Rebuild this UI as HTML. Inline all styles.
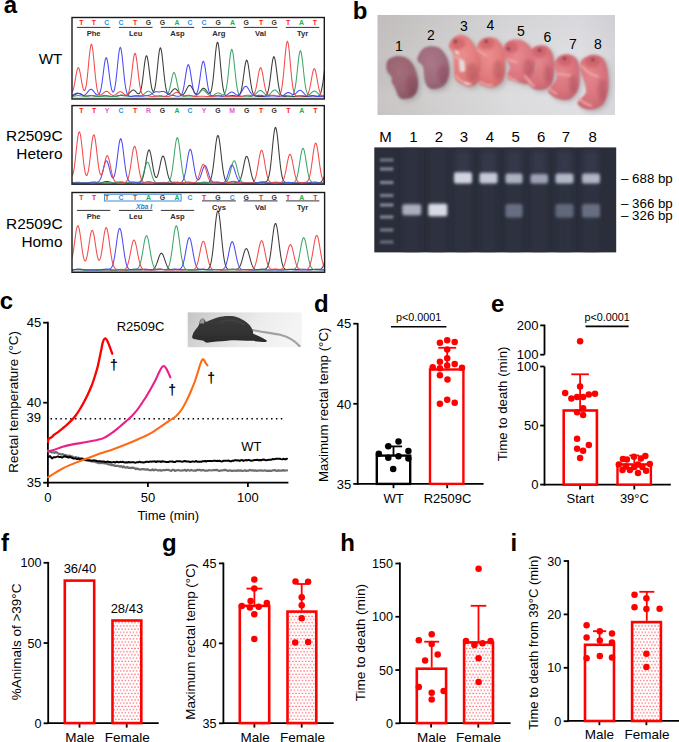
<!DOCTYPE html>
<html><head><meta charset="utf-8"><style>
html,body{margin:0;padding:0;background:#fff;}
svg{display:block;font-family:"Liberation Sans", sans-serif;}
</style></head><body>
<svg width="679" height="742" viewBox="0 0 679 742">
<defs>
<linearGradient id="baseGrad" x1="0" y1="0" x2="0" y2="1"><stop offset="0" stop-color="#999" stop-opacity="0"/><stop offset="1" stop-color="#777" stop-opacity="0.55"/></linearGradient>
<clipPath id="clipA0"><rect x="72.1" y="17.6" width="252.1" height="81.30000000000001"/></clipPath>
<clipPath id="clipA1"><rect x="72.1" y="105.7" width="252.1" height="78.4"/></clipPath>
<clipPath id="clipA2"><rect x="72.1" y="192.60000000000002" width="252.4" height="79.6"/></clipPath>

<linearGradient id="photoBg" x1="0" y1="0" x2="1" y2="0"><stop offset="0" stop-color="#c5c2c1"/><stop offset="0.25" stop-color="#cfcdcd"/><stop offset="0.55" stop-color="#dad9db"/><stop offset="0.85" stop-color="#dfdfe3"/><stop offset="1" stop-color="#d6d6da"/></linearGradient>
<linearGradient id="photoBg2" x1="0" y1="0" x2="0" y2="1"><stop offset="0" stop-color="#000" stop-opacity="0.03"/><stop offset="0.4" stop-color="#000" stop-opacity="0"/><stop offset="0.8" stop-color="#fff" stop-opacity="0.06"/><stop offset="1" stop-color="#fff" stop-opacity="0.02"/></linearGradient>
<filter id="blur1" x="-20%" y="-20%" width="140%" height="140%"><feGaussianBlur stdDeviation="0.9"/></filter>
<filter id="blur2" x="-30%" y="-30%" width="160%" height="160%"><feGaussianBlur stdDeviation="2.5"/></filter>
<filter id="blurBand" x="-30%" y="-60%" width="160%" height="220%"><feGaussianBlur stdDeviation="1.1"/></filter>
<filter id="blurBand2" x="-30%" y="-60%" width="160%" height="220%"><feGaussianBlur stdDeviation="1.8"/></filter>
<radialGradient id="m1" cx="0.42" cy="0.38" r="0.75"><stop offset="0" stop-color="#a46e7a"/><stop offset="0.6" stop-color="#976270"/><stop offset="1" stop-color="#7c4c5a"/></radialGradient>
<radialGradient id="m2" cx="0.42" cy="0.38" r="0.75"><stop offset="0" stop-color="#ab7888"/><stop offset="0.6" stop-color="#9e6a7c"/><stop offset="1" stop-color="#84566a"/></radialGradient>
<radialGradient id="mp" cx="0.42" cy="0.38" r="0.75"><stop offset="0" stop-color="#ec8e8e"/><stop offset="0.6" stop-color="#e07a7a"/><stop offset="1" stop-color="#c86468"/></radialGradient>
<radialGradient id="mp3" cx="0.42" cy="0.38" r="0.75"><stop offset="0" stop-color="#e4868c"/><stop offset="0.6" stop-color="#d8727c"/><stop offset="1" stop-color="#bc5e6c"/></radialGradient>
<radialGradient id="mp2" cx="0.42" cy="0.38" r="0.75"><stop offset="0" stop-color="#e88a8e"/><stop offset="0.6" stop-color="#dc7680"/><stop offset="1" stop-color="#c2626e"/></radialGradient>
<filter id="blurS" x="-50%" y="-50%" width="200%" height="200%"><feGaussianBlur stdDeviation="1.6"/></filter><filter id="blurLane" x="-50%" y="-10%" width="200%" height="120%"><feGaussianBlur stdDeviation="2.5"/></filter><clipPath id="gelclip"><rect x="374.3" y="147.4" width="241.9" height="105"/></clipPath><linearGradient id="mouseBg" x1="0" y1="0" x2="1" y2="0.2">
<stop offset="0" stop-color="#c4c4c4"/><stop offset="0.3" stop-color="#d8d8d8"/><stop offset="0.65" stop-color="#ececec"/><stop offset="1" stop-color="#f4f4f4"/></linearGradient>
<linearGradient id="mouseBody" x1="0" y1="0" x2="0" y2="1"><stop offset="0" stop-color="#3a3a3a"/><stop offset="0.5" stop-color="#343434"/><stop offset="1" stop-color="#2a2a2a"/></linearGradient>
<filter id="blurM" x="-10%" y="-10%" width="120%" height="120%"><feGaussianBlur stdDeviation="0.7"/></filter><pattern id="dotpat" patternUnits="userSpaceOnUse" width="3.22" height="6.44" x="0.6" y="0.4">
<rect width="3.22" height="6.44" fill="#fff"/>
<rect x="0.25" y="0.25" width="1.15" height="1.15" fill="#ff3a48"/>
<rect x="1.86" y="3.47" width="1.15" height="1.15" fill="#ff3a48"/>
</pattern>
</defs>
<g clip-path="url(#clipA0)">
<path d="M71.3,96.04 L71.8,95.97 L72.3,95.86 L72.8,95.71 L73.3,95.53 L73.8,95.31 L74.3,95.06 L74.8,94.79 L75.3,94.52 L75.8,94.24 L76.3,93.99 L76.8,93.77 L77.3,93.59 L77.8,93.47 L78.3,93.41 L78.8,93.42 L79.3,93.50 L79.8,93.63 L80.3,93.83 L80.8,94.06 L81.3,94.32 L81.8,94.60 L82.3,94.87 L82.8,95.14 L83.3,95.38 L83.8,95.60 L84.3,95.78 L84.8,95.92 L85.3,96.02 L85.8,96.08 L86.3,96.11 L86.8,96.10 L87.3,96.07 L87.8,96.02 L88.3,95.96 L88.8,95.88 L89.3,95.81 L89.8,95.74 L90.3,95.69 L90.8,95.65 L91.3,95.63 L91.8,95.64 L92.3,95.67 L92.8,95.72 L93.3,95.79 L93.8,95.87 L94.3,95.95 L94.8,96.04 L95.3,96.13 L95.8,96.21 L96.3,96.28 L96.8,96.33 L97.3,96.37 L97.8,96.40 L98.3,96.41 L98.8,96.40 L99.3,96.37 L99.8,96.33 L100.3,96.28 L100.8,96.21 L101.3,96.14 L101.8,96.06 L102.3,95.98 L102.8,95.91 L103.3,95.84 L103.8,95.79 L104.3,95.75 L104.8,95.74 L105.3,95.74 L105.8,95.77 L106.3,95.81 L106.8,95.87 L107.3,95.94 L107.8,96.02 L108.3,96.10 L108.8,96.18 L109.3,96.26 L109.8,96.33 L110.3,96.38 L110.8,96.43 L111.3,96.47 L111.8,96.49 L112.3,96.50 L112.8,96.51 L113.3,96.50 L113.8,96.47 L114.3,96.44 L114.8,96.39 L115.3,96.32 L115.8,96.24 L116.3,96.15 L116.8,96.04 L117.3,95.93 L117.8,95.81 L118.3,95.70 L118.8,95.59 L119.3,95.50 L119.8,95.43 L120.3,95.38 L120.8,95.36 L121.3,95.37 L121.8,95.41 L122.3,95.46 L122.8,95.54 L123.3,95.61 L123.8,95.68 L124.3,95.74 L124.8,95.77 L125.3,95.75 L125.8,95.69 L126.3,95.56 L126.8,95.37 L127.3,95.09 L127.8,94.74 L128.3,94.31 L128.8,93.82 L129.3,93.27 L129.8,92.69 L130.3,92.10 L130.8,91.53 L131.3,91.01 L131.8,90.58 L132.3,90.25 L132.8,90.06 L133.3,90.01 L133.8,90.10 L134.3,90.34 L134.8,90.70 L135.3,91.16 L135.8,91.68 L136.3,92.23 L136.8,92.76 L137.3,93.24 L137.8,93.60 L138.3,93.80 L138.8,93.79 L139.3,93.49 L139.8,92.84 L140.3,91.76 L140.8,90.19 L141.3,88.06 L141.8,85.37 L142.3,82.11 L142.8,78.37 L143.3,74.28 L143.8,70.04 L144.3,65.90 L144.8,62.14 L145.3,59.05 L145.8,56.87 L146.3,55.79 L146.8,55.92 L147.3,57.22 L147.8,59.61 L148.3,62.86 L148.8,66.72 L149.3,70.91 L149.8,75.13 L150.3,79.15 L150.8,82.77 L151.3,85.85 L151.8,88.30 L152.3,90.08 L152.8,91.16 L153.3,91.55 L153.8,91.22 L154.3,90.16 L154.8,88.36 L155.3,85.80 L155.8,82.49 L156.3,78.50 L156.8,73.94 L157.3,69.00 L157.8,63.93 L158.3,59.04 L158.8,54.68 L159.3,51.18 L159.8,48.83 L160.3,47.83 L160.8,48.26 L161.3,50.09 L161.8,53.16 L162.3,57.21 L162.8,61.93 L163.3,66.97 L163.8,72.00 L164.3,76.76 L164.8,81.04 L165.3,84.71 L165.8,87.71 L166.3,90.05 L166.8,91.78 L167.3,92.97 L167.8,93.71 L168.3,94.08 L168.8,94.15 L169.3,93.98 L169.8,93.64 L170.3,93.16 L170.8,92.59 L171.3,91.96 L171.8,91.31 L172.3,90.67 L172.8,90.07 L173.3,89.55 L173.8,89.14 L174.3,88.87 L174.8,88.74 L175.3,88.78 L175.8,88.98 L176.3,89.32 L176.8,89.79 L177.3,90.36 L177.8,91.00 L178.3,91.67 L178.8,92.35 L179.3,92.99 L179.8,93.56 L180.3,94.06 L180.8,94.44 L181.3,94.71 L181.8,94.85 L182.3,94.85 L182.8,94.71 L183.3,94.41 L183.8,93.96 L184.3,93.37 L184.8,92.64 L185.3,91.79 L185.8,90.85 L186.3,89.85 L186.8,88.85 L187.3,87.88 L187.8,87.01 L188.3,86.28 L188.8,85.74 L189.3,85.42 L189.8,85.35 L190.3,85.54 L190.8,85.96 L191.3,86.59 L191.8,87.38 L192.3,88.30 L192.8,89.28 L193.3,90.27 L193.8,91.23 L194.3,92.10 L194.8,92.85 L195.3,93.47 L195.8,93.93 L196.3,94.23 L196.8,94.35 L197.3,94.32 L197.8,94.12 L198.3,93.79 L198.8,93.32 L199.3,92.76 L199.8,92.11 L200.3,91.42 L200.8,90.72 L201.3,90.04 L201.8,89.44 L202.3,88.94 L202.8,88.58 L203.3,88.39 L203.8,88.36 L204.3,88.51 L204.8,88.83 L205.3,89.29 L205.8,89.87 L206.3,90.52 L206.8,91.22 L207.3,91.90 L207.8,92.53 L208.3,93.06 L208.8,93.42 L209.3,93.57 L209.8,93.43 L210.3,92.92 L210.8,91.95 L211.3,90.43 L211.8,88.27 L212.3,85.39 L212.8,81.76 L213.3,77.40 L213.8,72.41 L214.3,66.95 L214.8,61.30 L215.3,55.78 L215.8,50.78 L216.3,46.66 L216.8,43.76 L217.3,42.33 L217.8,42.49 L218.3,44.23 L218.8,47.40 L219.3,51.73 L219.8,56.88 L220.3,62.47 L220.8,68.13 L221.3,73.54 L221.8,78.47 L222.3,82.77 L222.8,86.35 L223.3,89.22 L223.8,91.44 L224.3,93.08 L224.8,94.25 L225.3,95.06 L225.8,95.58 L226.3,95.90 L226.8,96.07 L227.3,96.14 L227.8,96.15 L228.3,96.11 L228.8,96.05 L229.3,95.97 L229.8,95.88 L230.3,95.79 L230.8,95.72 L231.3,95.66 L231.8,95.62 L232.3,95.60 L232.8,95.61 L233.3,95.64 L233.8,95.69 L234.3,95.76 L234.8,95.84 L235.3,95.92 L235.8,96.00 L236.3,96.06 L236.8,96.10 L237.3,96.10 L237.8,96.03 L238.3,95.87 L238.8,95.57 L239.3,95.10 L239.8,94.38 L240.3,93.36 L240.8,91.96 L241.3,90.13 L241.8,87.83 L242.3,85.05 L242.8,81.82 L243.3,78.24 L243.8,74.46 L244.3,70.68 L244.8,67.15 L245.3,64.11 L245.8,61.82 L246.3,60.45 L246.8,60.12 L247.3,60.87 L247.8,62.63 L248.3,65.25 L248.8,68.52 L249.3,72.18 L249.8,75.98 L250.3,79.70 L250.8,83.16 L251.3,86.22 L251.8,88.81 L252.3,90.92 L252.8,92.58 L253.3,93.82 L253.8,94.73 L254.3,95.36 L254.8,95.78 L255.3,96.05 L255.8,96.21 L256.3,96.30 L256.8,96.35 L257.3,96.37 L257.8,96.38 L258.3,96.38 L258.8,96.38 L259.3,96.38 L259.8,96.38 L260.3,96.39 L260.8,96.40 L261.3,96.42 L261.8,96.43 L262.3,96.45 L262.8,96.46 L263.3,96.45 L263.8,96.43 L264.3,96.37 L264.8,96.26 L265.3,96.07 L265.8,95.77 L266.3,95.29 L266.8,94.59 L267.3,93.60 L267.8,92.23 L268.3,90.41 L268.8,88.10 L269.3,85.26 L269.8,81.91 L270.3,78.13 L270.8,74.07 L271.3,69.90 L271.8,65.90 L272.3,62.33 L272.8,59.47 L273.3,57.54 L273.8,56.72 L274.3,57.08 L274.8,58.58 L275.3,61.09 L275.8,64.41 L276.3,68.27 L276.8,72.40 L277.3,76.53 L277.8,80.44 L278.3,83.97 L278.8,87.02 L279.3,89.54 L279.8,91.55 L280.3,93.08 L280.8,94.22 L281.3,95.02 L281.8,95.57 L282.3,95.93 L282.8,96.15 L283.3,96.28 L283.8,96.34 L284.3,96.37 L284.8,96.37 L285.3,96.36 L285.8,96.35 L286.3,96.34 L286.8,96.33 L287.3,96.32 L287.8,96.32 L288.3,96.33 L288.8,96.34 L289.3,96.36 L289.8,96.38 L290.3,96.40 L290.8,96.42 L291.3,96.44 L291.8,96.45 L292.3,96.46 L292.8,96.46 L293.3,96.45 L293.8,96.43 L294.3,96.41 L294.8,96.38 L295.3,96.34 L295.8,96.30 L296.3,96.25 L296.8,96.20 L297.3,96.16 L297.8,96.13 L298.3,96.10 L298.8,96.09 L299.3,96.09 L299.8,96.10 L300.3,96.12 L300.8,96.15 L301.3,96.19 L301.8,96.23 L302.3,96.28 L302.8,96.32 L303.3,96.36 L303.8,96.40 L304.3,96.43 L304.8,96.45 L305.3,96.45 L305.8,96.45 L306.3,96.43 L306.8,96.40 L307.3,96.36 L307.8,96.31 L308.3,96.24 L308.8,96.17 L309.3,96.10 L309.8,96.02 L310.3,95.95 L310.8,95.89 L311.3,95.84 L311.8,95.81 L312.3,95.80 L312.8,95.80 L313.3,95.83 L313.8,95.87 L314.3,95.92 L314.8,95.99 L315.3,96.05 L315.8,96.12 L316.3,96.17 L316.8,96.21 L317.3,96.21 L317.8,96.15 L318.3,96.02 L318.8,95.78 L319.3,95.38 L319.8,94.77 L320.3,93.89 L320.8,92.65 L321.3,90.99 L321.8,88.86 L322.3,86.21 L322.8,83.07 L323.3,79.49 L323.8,75.60 L324.3,71.58 L324.8,67.65" stroke="#2a2a2a" stroke-width="1.05" fill="none" opacity="0.92"/>
<path d="M71.3,96.22 L71.8,96.26 L72.3,96.27 L72.8,96.26 L73.3,96.23 L73.8,96.18 L74.3,96.11 L74.8,96.03 L75.3,95.94 L75.8,95.85 L76.3,95.76 L76.8,95.68 L77.3,95.62 L77.8,95.58 L78.3,95.57 L78.8,95.58 L79.3,95.61 L79.8,95.66 L80.3,95.74 L80.8,95.82 L81.3,95.91 L81.8,96.01 L82.3,96.10 L82.8,96.18 L83.3,96.24 L83.8,96.29 L84.3,96.33 L84.8,96.34 L85.3,96.33 L85.8,96.30 L86.3,96.26 L86.8,96.19 L87.3,96.11 L87.8,96.03 L88.3,95.93 L88.8,95.83 L89.3,95.74 L89.8,95.66 L90.3,95.60 L90.8,95.56 L91.3,95.54 L91.8,95.55 L92.3,95.58 L92.8,95.64 L93.3,95.71 L93.8,95.80 L94.3,95.90 L94.8,96.00 L95.3,96.10 L95.8,96.19 L96.3,96.27 L96.8,96.34 L97.3,96.39 L97.8,96.44 L98.3,96.47 L98.8,96.48 L99.3,96.49 L99.8,96.48 L100.3,96.47 L100.8,96.44 L101.3,96.40 L101.8,96.36 L102.3,96.31 L102.8,96.26 L103.3,96.21 L103.8,96.16 L104.3,96.11 L104.8,96.08 L105.3,96.05 L105.8,96.04 L106.3,96.04 L106.8,96.05 L107.3,96.08 L107.8,96.12 L108.3,96.16 L108.8,96.21 L109.3,96.27 L109.8,96.32 L110.3,96.37 L110.8,96.41 L111.3,96.45 L111.8,96.48 L112.3,96.51 L112.8,96.52 L113.3,96.53 L113.8,96.53 L114.3,96.52 L114.8,96.49 L115.3,96.46 L115.8,96.41 L116.3,96.34 L116.8,96.26 L117.3,96.16 L117.8,96.04 L118.3,95.92 L118.8,95.78 L119.3,95.64 L119.8,95.50 L120.3,95.37 L120.8,95.26 L121.3,95.18 L121.8,95.12 L122.3,95.11 L122.8,95.12 L123.3,95.18 L123.8,95.26 L124.3,95.37 L124.8,95.50 L125.3,95.64 L125.8,95.78 L126.3,95.91 L126.8,96.04 L127.3,96.14 L127.8,96.23 L128.3,96.30 L128.8,96.35 L129.3,96.37 L129.8,96.37 L130.3,96.35 L130.8,96.31 L131.3,96.25 L131.8,96.18 L132.3,96.09 L132.8,95.99 L133.3,95.89 L133.8,95.79 L134.3,95.69 L134.8,95.60 L135.3,95.54 L135.8,95.49 L136.3,95.47 L136.8,95.47 L137.3,95.49 L137.8,95.54 L138.3,95.59 L138.8,95.64 L139.3,95.69 L139.8,95.72 L140.3,95.72 L140.8,95.68 L141.3,95.59 L141.8,95.44 L142.3,95.24 L142.8,94.97 L143.3,94.64 L143.8,94.26 L144.3,93.84 L144.8,93.39 L145.3,92.93 L145.8,92.48 L146.3,92.08 L146.8,91.73 L147.3,91.47 L147.8,91.30 L148.3,91.24 L148.8,91.30 L149.3,91.47 L149.8,91.74 L150.3,92.09 L150.8,92.51 L151.3,92.96 L151.8,93.44 L152.3,93.90 L152.8,94.35 L153.3,94.75 L153.8,95.11 L154.3,95.41 L154.8,95.66 L155.3,95.85 L155.8,96.00 L156.3,96.10 L156.8,96.17 L157.3,96.22 L157.8,96.25 L158.3,96.26 L158.8,96.27 L159.3,96.28 L159.8,96.29 L160.3,96.31 L160.8,96.32 L161.3,96.34 L161.8,96.37 L162.3,96.39 L162.8,96.41 L163.3,96.43 L163.8,96.43 L164.3,96.41 L164.8,96.37 L165.3,96.28 L165.8,96.12 L166.3,95.86 L166.8,95.48 L167.3,94.92 L167.8,94.15 L168.3,93.12 L168.8,91.79 L169.3,90.14 L169.8,88.19 L170.3,85.96 L170.8,83.54 L171.3,81.04 L171.8,78.60 L172.3,76.39 L172.8,74.57 L173.3,73.29 L173.8,72.66 L174.3,72.73 L174.8,73.50 L175.3,74.89 L175.8,76.80 L176.3,79.08 L176.8,81.54 L177.3,84.04 L177.8,86.43 L178.3,88.60 L178.8,90.50 L179.3,92.08 L179.8,93.34 L180.3,94.32 L180.8,95.04 L181.3,95.56 L181.8,95.91 L182.3,96.14 L182.8,96.27 L183.3,96.34 L183.8,96.36 L184.3,96.35 L184.8,96.32 L185.3,96.27 L185.8,96.21 L186.3,96.14 L186.8,96.08 L187.3,96.01 L187.8,95.96 L188.3,95.92 L188.8,95.89 L189.3,95.88 L189.8,95.88 L190.3,95.90 L190.8,95.94 L191.3,95.98 L191.8,96.03 L192.3,96.08 L192.8,96.12 L193.3,96.15 L193.8,96.15 L194.3,96.13 L194.8,96.06 L195.3,95.95 L195.8,95.79 L196.3,95.56 L196.8,95.26 L197.3,94.90 L197.8,94.47 L198.3,93.98 L198.8,93.43 L199.3,92.86 L199.8,92.27 L200.3,91.69 L200.8,91.16 L201.3,90.71 L201.8,90.35 L202.3,90.11 L202.8,90.01 L203.3,90.06 L203.8,90.24 L204.3,90.55 L204.8,90.98 L205.3,91.48 L205.8,92.04 L206.3,92.62 L206.8,93.20 L207.3,93.76 L207.8,94.26 L208.3,94.71 L208.8,95.08 L209.3,95.38 L209.8,95.59 L210.3,95.74 L210.8,95.81 L211.3,95.80 L211.8,95.74 L212.3,95.61 L212.8,95.43 L213.3,95.19 L213.8,94.92 L214.3,94.63 L214.8,94.31 L215.3,94.00 L215.8,93.70 L216.3,93.43 L216.8,93.20 L217.3,93.04 L217.8,92.95 L218.3,92.93 L218.8,93.00 L219.3,93.13 L219.8,93.33 L220.3,93.58 L220.8,93.86 L221.3,94.15 L221.8,94.42 L222.3,94.65 L222.8,94.79 L223.3,94.81 L223.8,94.64 L224.3,94.23 L224.8,93.51 L225.3,92.38 L225.8,90.77 L226.3,88.59 L226.8,85.79 L227.3,82.35 L227.8,78.31 L228.3,73.78 L228.8,68.93 L229.3,64.03 L229.8,59.38 L230.3,55.30 L230.8,52.12 L231.3,50.09 L231.8,49.40 L232.3,50.10 L232.8,52.12 L233.3,55.31 L233.8,59.39 L234.3,64.05 L234.8,68.95 L235.3,73.81 L235.8,78.36 L236.3,82.42 L236.8,85.90 L237.3,88.75 L237.8,91.00 L238.3,92.71 L238.8,93.95 L239.3,94.82 L239.8,95.40 L240.3,95.77 L240.8,95.99 L241.3,96.11 L241.8,96.16 L242.3,96.18 L242.8,96.17 L243.3,96.15 L243.8,96.14 L244.3,96.13 L244.8,96.13 L245.3,96.13 L245.8,96.15 L246.3,96.18 L246.8,96.22 L247.3,96.26 L247.8,96.30 L248.3,96.34 L248.8,96.37 L249.3,96.40 L249.8,96.42 L250.3,96.42 L250.8,96.40 L251.3,96.36 L251.8,96.29 L252.3,96.18 L252.8,96.04 L253.3,95.84 L253.8,95.59 L254.3,95.28 L254.8,94.91 L255.3,94.48 L255.8,94.00 L256.3,93.48 L256.8,92.94 L257.3,92.39 L257.8,91.87 L258.3,91.39 L258.8,90.99 L259.3,90.69 L259.8,90.50 L260.3,90.45 L260.8,90.52 L261.3,90.72 L261.8,91.04 L262.3,91.45 L262.8,91.92 L263.3,92.44 L263.8,92.97 L264.3,93.49 L264.8,93.97 L265.3,94.40 L265.8,94.75 L266.3,95.02 L266.8,95.19 L267.3,95.26 L267.8,95.24 L268.3,95.11 L268.8,94.88 L269.3,94.55 L269.8,94.13 L270.3,93.64 L270.8,93.10 L271.3,92.52 L271.8,91.93 L272.3,91.37 L272.8,90.87 L273.3,90.45 L273.8,90.14 L274.3,89.97 L274.8,89.94 L275.3,90.06 L275.8,90.31 L276.3,90.69 L276.8,91.17 L277.3,91.71 L277.8,92.28 L278.3,92.87 L278.8,93.42 L279.3,93.94 L279.8,94.39 L280.3,94.77 L280.8,95.07 L281.3,95.29 L281.8,95.45 L282.3,95.54 L282.8,95.59 L283.3,95.60 L283.8,95.59 L284.3,95.57 L284.8,95.56 L285.3,95.55 L285.8,95.56 L286.3,95.58 L286.8,95.63 L287.3,95.70 L287.8,95.78 L288.3,95.86 L288.8,95.95 L289.3,96.03 L289.8,96.10 L290.3,96.13 L290.8,96.13 L291.3,96.05 L291.8,95.87 L292.3,95.55 L292.8,95.04 L293.3,94.25 L293.8,93.12 L294.3,91.56 L294.8,89.48 L295.3,86.83 L295.8,83.58 L296.3,79.74 L296.8,75.40 L297.3,70.73 L297.8,65.96 L298.3,61.36 L298.8,57.27 L299.3,53.98 L299.8,51.77 L300.3,50.83 L300.8,51.23 L301.3,52.95 L301.8,55.83 L302.3,59.64 L302.8,64.07 L303.3,68.80 L303.8,73.53 L304.3,78.00 L304.8,82.02 L305.3,85.48 L305.8,88.31 L306.3,90.53 L306.8,92.18 L307.3,93.32 L307.8,94.05 L308.3,94.44 L308.8,94.56 L309.3,94.47 L309.8,94.23 L310.3,93.88 L310.8,93.45 L311.3,92.98 L311.8,92.51 L312.3,92.07 L312.8,91.68 L313.3,91.37 L313.8,91.17 L314.3,91.08 L314.8,91.11 L315.3,91.26 L315.8,91.53 L316.3,91.88 L316.8,92.31 L317.3,92.78 L317.8,93.26 L318.3,93.74 L318.8,94.20 L319.3,94.61 L319.8,94.96 L320.3,95.26 L320.8,95.49 L321.3,95.66 L321.8,95.79 L322.3,95.86 L322.8,95.91 L323.3,95.93 L323.8,95.93 L324.3,95.93 L324.8,95.93" stroke="#2e9e5e" stroke-width="1.05" fill="none" opacity="0.92"/>
<path d="M71.3,95.34 L71.8,95.27 L72.3,95.15 L72.8,94.98 L73.3,94.78 L73.8,94.54 L74.3,94.28 L74.8,94.00 L75.3,93.74 L75.8,93.50 L76.3,93.30 L76.8,93.16 L77.3,93.09 L77.8,93.10 L78.3,93.17 L78.8,93.32 L79.3,93.53 L79.8,93.78 L80.3,94.06 L80.8,94.35 L81.3,94.62 L81.8,94.87 L82.3,95.07 L82.8,95.22 L83.3,95.28 L83.8,95.26 L84.3,95.15 L84.8,94.94 L85.3,94.63 L85.8,94.23 L86.3,93.74 L86.8,93.18 L87.3,92.56 L87.8,91.92 L88.3,91.29 L88.8,90.69 L89.3,90.17 L89.8,89.76 L90.3,89.48 L90.8,89.35 L91.3,89.38 L91.8,89.57 L92.3,89.91 L92.8,90.37 L93.3,90.93 L93.8,91.55 L94.3,92.20 L94.8,92.84 L95.3,93.46 L95.8,94.01 L96.3,94.47 L96.8,94.83 L97.3,95.06 L97.8,95.13 L98.3,95.00 L98.8,94.64 L99.3,93.99 L99.8,92.98 L100.3,91.54 L100.8,89.63 L101.3,87.21 L101.8,84.26 L102.3,80.83 L102.8,77.02 L103.3,73.00 L103.8,68.98 L104.3,65.21 L104.8,61.98 L105.3,59.53 L105.8,58.07 L106.3,57.72 L106.8,58.52 L107.3,60.40 L107.8,63.19 L108.3,66.66 L108.8,70.56 L109.3,74.59 L109.8,78.53 L110.3,82.15 L110.8,85.31 L111.3,87.91 L111.8,89.90 L112.3,91.25 L112.8,91.94 L113.3,91.99 L113.8,91.35 L114.3,90.03 L114.8,87.98 L115.3,85.19 L115.8,81.68 L116.3,77.51 L116.8,72.80 L117.3,67.76 L117.8,62.66 L118.3,57.81 L118.8,53.56 L119.3,50.24 L119.8,48.13 L120.3,47.40 L120.8,48.13 L121.3,50.24 L121.8,53.56 L122.3,57.81 L122.8,62.67 L123.3,67.79 L123.8,72.85 L124.3,77.60 L124.8,81.84 L125.3,85.47 L125.8,88.45 L126.3,90.81 L126.8,92.60 L127.3,93.92 L127.8,94.85 L128.3,95.48 L128.8,95.90 L129.3,96.16 L129.8,96.31 L130.3,96.39 L130.8,96.43 L131.3,96.43 L131.8,96.41 L132.3,96.39 L132.8,96.35 L133.3,96.31 L133.8,96.27 L134.3,96.24 L134.8,96.21 L135.3,96.18 L135.8,96.17 L136.3,96.17 L136.8,96.17 L137.3,96.18 L137.8,96.21 L138.3,96.23 L138.8,96.26 L139.3,96.28 L139.8,96.30 L140.3,96.31 L140.8,96.31 L141.3,96.30 L141.8,96.27 L142.3,96.23 L142.8,96.18 L143.3,96.12 L143.8,96.05 L144.3,95.98 L144.8,95.90 L145.3,95.83 L145.8,95.76 L146.3,95.69 L146.8,95.62 L147.3,95.55 L147.8,95.47 L148.3,95.37 L148.8,95.25 L149.3,95.10 L149.8,94.90 L150.3,94.67 L150.8,94.40 L151.3,94.10 L151.8,93.77 L152.3,93.42 L152.8,93.08 L153.3,92.75 L153.8,92.45 L154.3,92.20 L154.8,92.01 L155.3,91.87 L155.8,91.79 L156.3,91.76 L156.8,91.76 L157.3,91.80 L157.8,91.84 L158.3,91.88 L158.8,91.90 L159.3,91.90 L159.8,91.86 L160.3,91.79 L160.8,91.71 L161.3,91.61 L161.8,91.52 L162.3,91.45 L162.8,91.43 L163.3,91.46 L163.8,91.55 L164.3,91.72 L164.8,91.95 L165.3,92.24 L165.8,92.57 L166.3,92.94 L166.8,93.32 L167.3,93.69 L167.8,94.03 L168.3,94.34 L168.8,94.60 L169.3,94.81 L169.8,94.98 L170.3,95.11 L170.8,95.21 L171.3,95.28 L171.8,95.34 L172.3,95.39 L172.8,95.45 L173.3,95.52 L173.8,95.59 L174.3,95.68 L174.8,95.78 L175.3,95.88 L175.8,95.98 L176.3,96.08 L176.8,96.16 L177.3,96.24 L177.8,96.29 L178.3,96.31 L178.8,96.30 L179.3,96.23 L179.8,96.09 L180.3,95.84 L180.8,95.44 L181.3,94.84 L181.8,94.00 L182.3,92.84 L182.8,91.31 L183.3,89.38 L183.8,87.03 L184.3,84.28 L184.8,81.20 L185.3,77.92 L185.8,74.60 L186.3,71.45 L186.8,68.69 L187.3,66.54 L187.8,65.17 L188.3,64.70 L188.8,65.17 L189.3,66.54 L189.8,68.69 L190.3,71.45 L190.8,74.60 L191.3,77.91 L191.8,81.19 L192.3,84.25 L192.8,86.98 L193.3,89.29 L193.8,91.15 L194.3,92.56 L194.8,93.53 L195.3,94.08 L195.8,94.23 L196.3,93.97 L196.8,93.30 L197.3,92.19 L197.8,90.61 L198.3,88.53 L198.8,85.96 L199.3,82.94 L199.8,79.55 L200.3,75.92 L200.8,72.25 L201.3,68.77 L201.8,65.72 L202.3,63.34 L202.8,61.82 L203.3,61.30 L203.8,61.82 L204.3,63.34 L204.8,65.72 L205.3,68.77 L205.8,72.25 L206.3,75.92 L206.8,79.55 L207.3,82.95 L207.8,85.98 L208.3,88.57 L208.8,90.70 L209.3,92.36 L209.8,93.62 L210.3,94.53 L210.8,95.15 L211.3,95.56 L211.8,95.80 L212.3,95.93 L212.8,95.98 L213.3,95.98 L213.8,95.96 L214.3,95.92 L214.8,95.89 L215.3,95.86 L215.8,95.85 L216.3,95.86 L216.8,95.88 L217.3,95.91 L217.8,95.97 L218.3,96.03 L218.8,96.09 L219.3,96.16 L219.8,96.23 L220.3,96.29 L220.8,96.34 L221.3,96.38 L221.8,96.40 L222.3,96.41 L222.8,96.39 L223.3,96.35 L223.8,96.28 L224.3,96.18 L224.8,96.04 L225.3,95.86 L225.8,95.63 L226.3,95.35 L226.8,95.03 L227.3,94.67 L227.8,94.28 L228.3,93.87 L228.8,93.47 L229.3,93.08 L229.8,92.73 L230.3,92.44 L230.8,92.23 L231.3,92.10 L231.8,92.08 L232.3,92.16 L232.8,92.33 L233.3,92.58 L233.8,92.90 L234.3,93.26 L234.8,93.64 L235.3,94.01 L235.8,94.36 L236.3,94.66 L236.8,94.90 L237.3,95.05 L237.8,95.10 L238.3,95.04 L238.8,94.86 L239.3,94.56 L239.8,94.13 L240.3,93.58 L240.8,92.91 L241.3,92.14 L241.8,91.29 L242.3,90.40 L242.8,89.50 L243.3,88.63 L243.8,87.85 L244.3,87.19 L244.8,86.69 L245.3,86.38 L245.8,86.29 L246.3,86.41 L246.8,86.73 L247.3,87.24 L247.8,87.90 L248.3,88.68 L248.8,89.53 L249.3,90.42 L249.8,91.30 L250.3,92.14 L250.8,92.91 L251.3,93.60 L251.8,94.20 L252.3,94.70 L252.8,95.09 L253.3,95.40 L253.8,95.62 L254.3,95.76 L254.8,95.83 L255.3,95.84 L255.8,95.81 L256.3,95.75 L256.8,95.66 L257.3,95.56 L257.8,95.46 L258.3,95.38 L258.8,95.31 L259.3,95.26 L259.8,95.25 L260.3,95.26 L260.8,95.31 L261.3,95.39 L261.8,95.48 L262.3,95.60 L262.8,95.72 L263.3,95.85 L263.8,95.97 L264.3,96.08 L264.8,96.17 L265.3,96.24 L265.8,96.30 L266.3,96.34 L266.8,96.35 L267.3,96.35 L267.8,96.33 L268.3,96.29 L268.8,96.24 L269.3,96.19 L269.8,96.12 L270.3,96.06 L270.8,96.00 L271.3,95.95 L271.8,95.92 L272.3,95.89 L272.8,95.89 L273.3,95.90 L273.8,95.93 L274.3,95.97 L274.8,96.02 L275.3,96.08 L275.8,96.15 L276.3,96.21 L276.8,96.27 L277.3,96.32 L277.8,96.37 L278.3,96.40 L278.8,96.41 L279.3,96.40 L279.8,96.37 L280.3,96.32 L280.8,96.23 L281.3,96.12 L281.8,95.96 L282.3,95.77 L282.8,95.53 L283.3,95.25 L283.8,94.94 L284.3,94.60 L284.8,94.24 L285.3,93.87 L285.8,93.52 L286.3,93.21 L286.8,92.94 L287.3,92.74 L287.8,92.61 L288.3,92.58 L288.8,92.63 L289.3,92.76 L289.8,92.96 L290.3,93.21 L290.8,93.50 L291.3,93.78 L291.8,94.05 L292.3,94.28 L292.8,94.43 L293.3,94.51 L293.8,94.49 L294.3,94.37 L294.8,94.15 L295.3,93.83 L295.8,93.43 L296.3,92.96 L296.8,92.45 L297.3,91.93 L297.8,91.44 L298.3,90.99 L298.8,90.63 L299.3,90.38 L299.8,90.26 L300.3,90.27 L300.8,90.41 L301.3,90.68 L301.8,91.06 L302.3,91.53 L302.8,92.06 L303.3,92.62 L303.8,93.18 L304.3,93.73 L304.8,94.23 L305.3,94.69 L305.8,95.08 L306.3,95.41 L306.8,95.67 L307.3,95.87 L307.8,96.01 L308.3,96.11 L308.8,96.17 L309.3,96.19 L309.8,96.19 L310.3,96.18 L310.8,96.15 L311.3,96.12 L311.8,96.10 L312.3,96.07 L312.8,96.06 L313.3,96.06 L313.8,96.07 L314.3,96.10 L314.8,96.13 L315.3,96.17 L315.8,96.22 L316.3,96.27 L316.8,96.32 L317.3,96.37 L317.8,96.41 L318.3,96.45 L318.8,96.48 L319.3,96.50 L319.8,96.52 L320.3,96.52 L320.8,96.52 L321.3,96.51 L321.8,96.50 L322.3,96.47 L322.8,96.44 L323.3,96.39 L323.8,96.34 L324.3,96.29 L324.8,96.23" stroke="#3b3bf5" stroke-width="1.05" fill="none" opacity="0.92"/>
<path d="M71.3,91.91 L71.8,92.01 L72.3,91.63 L72.8,90.75 L73.3,89.36 L73.8,87.48 L74.3,85.16 L74.8,82.48 L75.3,79.58 L75.8,76.61 L76.3,73.79 L76.8,71.30 L77.3,69.36 L77.8,68.12 L78.3,67.70 L78.8,68.12 L79.3,69.36 L79.8,71.30 L80.3,73.78 L80.8,76.60 L81.3,79.55 L81.8,82.43 L82.3,85.06 L82.8,87.29 L83.3,89.01 L83.8,90.13 L84.3,90.59 L84.8,90.34 L85.3,89.32 L85.8,87.49 L86.3,84.84 L86.8,81.37 L87.3,77.15 L87.8,72.31 L88.3,67.04 L88.8,61.63 L89.3,56.42 L89.8,51.76 L90.3,48.02 L90.8,45.50 L91.3,44.43 L91.8,44.89 L92.3,46.85 L92.8,50.14 L93.3,54.48 L93.8,59.53 L94.3,64.93 L94.8,70.33 L95.3,75.45 L95.8,80.05 L96.3,84.02 L96.8,87.29 L97.3,89.88 L97.8,91.83 L98.3,93.23 L98.8,94.18 L99.3,94.76 L99.8,95.04 L100.3,95.11 L100.8,95.00 L101.3,94.76 L101.8,94.43 L102.3,94.02 L102.8,93.57 L103.3,93.10 L103.8,92.64 L104.3,92.22 L104.8,91.85 L105.3,91.57 L105.8,91.39 L106.3,91.32 L106.8,91.37 L107.3,91.53 L107.8,91.79 L108.3,92.15 L108.8,92.56 L109.3,93.01 L109.8,93.47 L110.3,93.92 L110.8,94.34 L111.3,94.71 L111.8,95.00 L112.3,95.23 L112.8,95.37 L113.3,95.42 L113.8,95.39 L114.3,95.28 L114.8,95.09 L115.3,94.83 L115.8,94.50 L116.3,94.13 L116.8,93.73 L117.3,93.32 L117.8,92.92 L118.3,92.55 L118.8,92.24 L119.3,92.00 L119.8,91.84 L120.3,91.79 L120.8,91.84 L121.3,91.98 L121.8,92.22 L122.3,92.53 L122.8,92.90 L123.3,93.30 L123.8,93.72 L124.3,94.12 L124.8,94.48 L125.3,94.78 L125.8,95.00 L126.3,95.09 L126.8,95.02 L127.3,94.74 L127.8,94.18 L128.3,93.29 L128.8,91.98 L129.3,90.18 L129.8,87.83 L130.3,84.89 L130.8,81.39 L131.3,77.39 L131.8,73.03 L132.3,68.52 L132.8,64.12 L133.3,60.13 L133.8,56.85 L134.3,54.54 L134.8,53.40 L135.3,53.52 L135.8,54.91 L136.3,57.42 L136.8,60.86 L137.3,64.95 L137.8,69.38 L138.3,73.86 L138.8,78.14 L139.3,82.03 L139.8,85.39 L140.3,88.19 L140.8,90.40 L141.3,92.09 L141.8,93.32 L142.3,94.18 L142.8,94.75 L143.3,95.10 L143.8,95.31 L144.3,95.43 L144.8,95.50 L145.3,95.54 L145.8,95.58 L146.3,95.63 L146.8,95.69 L147.3,95.76 L147.8,95.84 L148.3,95.94 L148.8,96.03 L149.3,96.12 L149.8,96.20 L150.3,96.28 L150.8,96.34 L151.3,96.39 L151.8,96.43 L152.3,96.45 L152.8,96.46 L153.3,96.46 L153.8,96.44 L154.3,96.41 L154.8,96.37 L155.3,96.31 L155.8,96.25 L156.3,96.18 L156.8,96.10 L157.3,96.03 L157.8,95.96 L158.3,95.90 L158.8,95.86 L159.3,95.82 L159.8,95.81 L160.3,95.82 L160.8,95.84 L161.3,95.88 L161.8,95.94 L162.3,96.01 L162.8,96.08 L163.3,96.15 L163.8,96.23 L164.3,96.29 L164.8,96.35 L165.3,96.40 L165.8,96.44 L166.3,96.47 L166.8,96.48 L167.3,96.48 L167.8,96.46 L168.3,96.43 L168.8,96.36 L169.3,96.28 L169.8,96.16 L170.3,96.00 L170.8,95.80 L171.3,95.57 L171.8,95.28 L172.3,94.96 L172.8,94.61 L173.3,94.23 L173.8,93.84 L174.3,93.46 L174.8,93.11 L175.3,92.81 L175.8,92.57 L176.3,92.40 L176.8,92.33 L177.3,92.35 L177.8,92.47 L178.3,92.66 L178.8,92.93 L179.3,93.25 L179.8,93.60 L180.3,93.97 L180.8,94.33 L181.3,94.67 L181.8,94.97 L182.3,95.22 L182.8,95.41 L183.3,95.56 L183.8,95.64 L184.3,95.68 L184.8,95.67 L185.3,95.63 L185.8,95.56 L186.3,95.49 L186.8,95.41 L187.3,95.34 L187.8,95.29 L188.3,95.27 L188.8,95.27 L189.3,95.30 L189.8,95.36 L190.3,95.45 L190.8,95.55 L191.3,95.67 L191.8,95.80 L192.3,95.92 L192.8,96.04 L193.3,96.14 L193.8,96.23 L194.3,96.31 L194.8,96.37 L195.3,96.41 L195.8,96.44 L196.3,96.45 L196.8,96.45 L197.3,96.43 L197.8,96.41 L198.3,96.38 L198.8,96.35 L199.3,96.32 L199.8,96.28 L200.3,96.25 L200.8,96.23 L201.3,96.21 L201.8,96.20 L202.3,96.20 L202.8,96.21 L203.3,96.23 L203.8,96.26 L204.3,96.29 L204.8,96.33 L205.3,96.36 L205.8,96.40 L206.3,96.44 L206.8,96.47 L207.3,96.50 L207.8,96.52 L208.3,96.54 L208.8,96.55 L209.3,96.56 L209.8,96.56 L210.3,96.56 L210.8,96.55 L211.3,96.53 L211.8,96.51 L212.3,96.47 L212.8,96.42 L213.3,96.36 L213.8,96.29 L214.3,96.20 L214.8,96.10 L215.3,95.99 L215.8,95.87 L216.3,95.75 L216.8,95.63 L217.3,95.53 L217.8,95.44 L218.3,95.38 L218.8,95.34 L219.3,95.34 L219.8,95.36 L220.3,95.42 L220.8,95.49 L221.3,95.59 L221.8,95.70 L222.3,95.82 L222.8,95.93 L223.3,96.03 L223.8,96.13 L224.3,96.20 L224.8,96.26 L225.3,96.30 L225.8,96.33 L226.3,96.33 L226.8,96.33 L227.3,96.31 L227.8,96.28 L228.3,96.25 L228.8,96.22 L229.3,96.19 L229.8,96.17 L230.3,96.16 L230.8,96.15 L231.3,96.16 L231.8,96.17 L232.3,96.20 L232.8,96.23 L233.3,96.27 L233.8,96.31 L234.3,96.36 L234.8,96.40 L235.3,96.43 L235.8,96.47 L236.3,96.50 L236.8,96.52 L237.3,96.54 L237.8,96.55 L238.3,96.55 L238.8,96.55 L239.3,96.54 L239.8,96.52 L240.3,96.50 L240.8,96.46 L241.3,96.40 L241.8,96.34 L242.3,96.25 L242.8,96.15 L243.3,96.04 L243.8,95.92 L244.3,95.78 L244.8,95.65 L245.3,95.52 L245.8,95.40 L246.3,95.30 L246.8,95.23 L247.3,95.19 L247.8,95.18 L248.3,95.20 L248.8,95.26 L249.3,95.34 L249.8,95.44 L250.3,95.54 L250.8,95.63 L251.3,95.69 L251.8,95.70 L252.3,95.63 L252.8,95.44 L253.3,95.09 L253.8,94.53 L254.3,93.71 L254.8,92.57 L255.3,91.08 L255.8,89.20 L256.3,86.94 L256.8,84.33 L257.3,81.46 L257.8,78.46 L258.3,75.49 L258.8,72.76 L259.3,70.46 L259.8,68.78 L260.3,67.85 L260.8,67.77 L261.3,68.53 L261.8,70.07 L262.3,72.26 L262.8,74.91 L263.3,77.85 L263.8,80.85 L264.3,83.75 L264.8,86.41 L265.3,88.73 L265.8,90.67 L266.3,92.22 L266.8,93.40 L267.3,94.25 L267.8,94.83 L268.3,95.19 L268.8,95.39 L269.3,95.46 L269.8,95.46 L270.3,95.41 L270.8,95.34 L271.3,95.26 L271.8,95.20 L272.3,95.17 L272.8,95.16 L273.3,95.19 L273.8,95.25 L274.3,95.33 L274.8,95.44 L275.3,95.56 L275.8,95.69 L276.3,95.81 L276.8,95.91 L277.3,95.97 L277.8,95.97 L278.3,95.89 L278.8,95.69 L279.3,95.32 L279.8,94.70 L280.3,93.76 L280.8,92.40 L281.3,90.52 L281.8,88.02 L282.3,84.83 L282.8,80.90 L283.3,76.28 L283.8,71.05 L284.3,65.42 L284.8,59.67 L285.3,54.13 L285.8,49.19 L286.3,45.23 L286.8,42.57 L287.3,41.43 L287.8,41.92 L288.3,44.00 L288.8,47.47 L289.3,52.06 L289.8,57.41 L290.3,63.12 L290.8,68.84 L291.3,74.25 L291.8,79.13 L292.3,83.35 L292.8,86.83 L293.3,89.61 L293.8,91.73 L294.3,93.29 L294.8,94.39 L295.3,95.14 L295.8,95.61 L296.3,95.89 L296.8,96.04 L297.3,96.09 L297.8,96.08 L298.3,96.04 L298.8,95.97 L299.3,95.89 L299.8,95.81 L300.3,95.73 L300.8,95.67 L301.3,95.63 L301.8,95.61 L302.3,95.62 L302.8,95.64 L303.3,95.68 L303.8,95.73 L304.3,95.78 L304.8,95.81 L305.3,95.81 L305.8,95.75 L306.3,95.59 L306.8,95.31 L307.3,94.84 L307.8,94.15 L308.3,93.17 L308.8,91.87 L309.3,90.20 L309.8,88.15 L310.3,85.75 L310.8,83.06 L311.3,80.19 L311.8,77.28 L312.3,74.52 L312.8,72.10 L313.3,70.21 L313.8,69.01 L314.3,68.60 L314.8,69.01 L315.3,70.22 L315.8,72.10 L316.3,74.52 L316.8,77.29 L317.3,80.20 L317.8,83.08 L318.3,85.77 L318.8,88.18 L319.3,90.24 L319.8,91.93 L320.3,93.26 L320.8,94.27 L321.3,95.00 L321.8,95.51 L322.3,95.85 L322.8,96.06 L323.3,96.18 L323.8,96.25 L324.3,96.27 L324.8,96.28" stroke="#f23b3b" stroke-width="1.05" fill="none" opacity="0.92"/>
</g>
<rect x="72.50" y="96.10" width="251.30" height="2.40" fill="url(#baseGrad)" stroke="none" stroke-width="0"/>
<rect x="72.00" y="17.50" width="252.30" height="81.50" fill="none" stroke="#1a1a1a" stroke-width="1.4"/>
<text x="81.30" y="24.80" font-size="6.9" text-anchor="middle" font-weight="bold" fill="#ff1a1a">T</text>
<text x="93.80" y="24.80" font-size="6.9" text-anchor="middle" font-weight="bold" fill="#ff1a1a">T</text>
<text x="106.70" y="24.80" font-size="6.9" text-anchor="middle" font-weight="bold" fill="#2f8fdf">C</text>
<text x="121.00" y="24.80" font-size="6.9" text-anchor="middle" font-weight="bold" fill="#2f8fdf">C</text>
<text x="135.00" y="24.80" font-size="6.9" text-anchor="middle" font-weight="bold" fill="#ff1a1a">T</text>
<text x="148.50" y="24.80" font-size="6.9" text-anchor="middle" font-weight="bold" fill="#333">G</text>
<text x="162.40" y="24.80" font-size="6.9" text-anchor="middle" font-weight="bold" fill="#333">G</text>
<text x="177.00" y="24.80" font-size="6.9" text-anchor="middle" font-weight="bold" fill="#22b04b">A</text>
<text x="189.90" y="24.80" font-size="6.9" text-anchor="middle" font-weight="bold" fill="#2f8fdf">C</text>
<text x="204.00" y="24.80" font-size="6.9" text-anchor="middle" font-weight="bold" fill="#2f8fdf">C</text>
<text x="218.30" y="24.80" font-size="6.9" text-anchor="middle" font-weight="bold" fill="#333">G</text>
<text x="232.40" y="24.80" font-size="6.9" text-anchor="middle" font-weight="bold" fill="#22b04b">A</text>
<text x="246.30" y="24.80" font-size="6.9" text-anchor="middle" font-weight="bold" fill="#333">G</text>
<text x="261.00" y="24.80" font-size="6.9" text-anchor="middle" font-weight="bold" fill="#ff1a1a">T</text>
<text x="274.10" y="24.80" font-size="6.9" text-anchor="middle" font-weight="bold" fill="#333">G</text>
<text x="288.00" y="24.80" font-size="6.9" text-anchor="middle" font-weight="bold" fill="#ff1a1a">T</text>
<text x="301.40" y="24.80" font-size="6.9" text-anchor="middle" font-weight="bold" fill="#22b04b">A</text>
<text x="314.90" y="24.80" font-size="6.9" text-anchor="middle" font-weight="bold" fill="#ff1a1a">T</text>
<g clip-path="url(#clipA1)">
<path d="M71.3,183.04 L71.8,183.07 L72.3,183.10 L72.8,183.11 L73.3,183.13 L73.8,183.13 L74.3,183.13 L74.8,183.13 L75.3,183.12 L75.8,183.11 L76.3,183.10 L76.8,183.08 L77.3,183.07 L77.8,183.06 L78.3,183.05 L78.8,183.04 L79.3,183.03 L79.8,183.03 L80.3,183.03 L80.8,183.03 L81.3,183.04 L81.8,183.04 L82.3,183.05 L82.8,183.06 L83.3,183.07 L83.8,183.07 L84.3,183.07 L84.8,183.07 L85.3,183.07 L85.8,183.05 L86.3,183.04 L86.8,183.01 L87.3,182.98 L87.8,182.95 L88.3,182.92 L88.8,182.88 L89.3,182.85 L89.8,182.82 L90.3,182.79 L90.8,182.77 L91.3,182.75 L91.8,182.75 L92.3,182.75 L92.8,182.77 L93.3,182.79 L93.8,182.81 L94.3,182.84 L94.8,182.88 L95.3,182.91 L95.8,182.95 L96.3,182.98 L96.8,183.00 L97.3,183.02 L97.8,183.02 L98.3,183.02 L98.8,183.00 L99.3,182.97 L99.8,182.92 L100.3,182.85 L100.8,182.77 L101.3,182.67 L101.8,182.55 L102.3,182.42 L102.8,182.28 L103.3,182.14 L103.8,182.00 L104.3,181.87 L104.8,181.75 L105.3,181.65 L105.8,181.57 L106.3,181.53 L106.8,181.52 L107.3,181.54 L107.8,181.59 L108.3,181.67 L108.8,181.78 L109.3,181.90 L109.8,182.04 L110.3,182.18 L110.8,182.32 L111.3,182.45 L111.8,182.57 L112.3,182.67 L112.8,182.76 L113.3,182.82 L113.8,182.87 L114.3,182.90 L114.8,182.90 L115.3,182.89 L115.8,182.86 L116.3,182.82 L116.8,182.77 L117.3,182.71 L117.8,182.65 L118.3,182.59 L118.8,182.53 L119.3,182.48 L119.8,182.44 L120.3,182.42 L120.8,182.41 L121.3,182.41 L121.8,182.43 L122.3,182.46 L122.8,182.50 L123.3,182.56 L123.8,182.62 L124.3,182.68 L124.8,182.73 L125.3,182.79 L125.8,182.84 L126.3,182.87 L126.8,182.90 L127.3,182.91 L127.8,182.92 L128.3,182.91 L128.8,182.89 L129.3,182.87 L129.8,182.83 L130.3,182.80 L130.8,182.76 L131.3,182.73 L131.8,182.70 L132.3,182.68 L132.8,182.67 L133.3,182.67 L133.8,182.68 L134.3,182.69 L134.8,182.72 L135.3,182.75 L135.8,182.78 L136.3,182.81 L136.8,182.84 L137.3,182.85 L137.8,182.85 L138.3,182.82 L138.8,182.75 L139.3,182.62 L139.8,182.42 L140.3,182.12 L140.8,181.68 L141.3,181.08 L141.8,180.26 L142.3,179.18 L142.8,177.82 L143.3,176.12 L143.8,174.08 L144.3,171.70 L144.8,169.01 L145.3,166.09 L145.8,163.02 L146.3,159.95 L146.8,157.03 L147.3,154.42 L147.8,152.30 L148.3,150.80 L148.8,150.02 L149.3,150.03 L149.8,150.83 L150.3,152.35 L150.8,154.50 L151.3,157.13 L151.8,160.07 L152.3,163.15 L152.8,166.19 L153.3,169.05 L153.8,171.61 L154.3,173.77 L154.8,175.48 L155.3,176.68 L155.8,177.38 L156.3,177.56 L156.8,177.23 L157.3,176.41 L157.8,175.12 L158.3,173.43 L158.8,171.37 L159.3,169.06 L159.8,166.58 L160.3,164.07 L160.8,161.68 L161.3,159.56 L161.8,157.83 L162.3,156.64 L162.8,156.05 L163.3,156.12 L163.8,156.83 L164.3,158.15 L164.8,159.97 L165.3,162.18 L165.8,164.63 L166.3,167.19 L166.8,169.72 L167.3,172.11 L167.8,174.28 L168.3,176.18 L168.8,177.78 L169.3,179.08 L169.8,180.09 L170.3,180.86 L170.8,181.41 L171.3,181.78 L171.8,182.02 L172.3,182.16 L172.8,182.22 L173.3,182.24 L173.8,182.24 L174.3,182.22 L174.8,182.21 L175.3,182.20 L175.8,182.21 L176.3,182.23 L176.8,182.27 L177.3,182.33 L177.8,182.39 L178.3,182.47 L178.8,182.54 L179.3,182.62 L179.8,182.69 L180.3,182.75 L180.8,182.80 L181.3,182.84 L181.8,182.86 L182.3,182.87 L182.8,182.86 L183.3,182.84 L183.8,182.80 L184.3,182.75 L184.8,182.69 L185.3,182.63 L185.8,182.57 L186.3,182.51 L186.8,182.46 L187.3,182.42 L187.8,182.39 L188.3,182.38 L188.8,182.38 L189.3,182.40 L189.8,182.43 L190.3,182.48 L190.8,182.53 L191.3,182.60 L191.8,182.66 L192.3,182.73 L192.8,182.80 L193.3,182.86 L193.8,182.91 L194.3,182.96 L194.8,182.99 L195.3,183.02 L195.8,183.03 L196.3,183.03 L196.8,183.03 L197.3,183.01 L197.8,182.99 L198.3,182.95 L198.8,182.92 L199.3,182.88 L199.8,182.84 L200.3,182.80 L200.8,182.77 L201.3,182.74 L201.8,182.72 L202.3,182.70 L202.8,182.70 L203.3,182.71 L203.8,182.72 L204.3,182.74 L204.8,182.77 L205.3,182.79 L205.8,182.82 L206.3,182.83 L206.8,182.82 L207.3,182.78 L207.8,182.68 L208.3,182.52 L208.8,182.24 L209.3,181.81 L209.8,181.18 L210.3,180.29 L210.8,179.08 L211.3,177.47 L211.8,175.41 L212.3,172.85 L212.8,169.76 L213.3,166.18 L213.8,162.16 L214.3,157.81 L214.8,153.30 L215.3,148.84 L215.8,144.66 L216.3,141.02 L216.8,138.14 L217.3,136.23 L217.8,135.42 L218.3,135.77 L218.8,137.25 L219.3,139.76 L219.8,143.12 L220.3,147.12 L220.8,151.49 L221.3,156.01 L221.8,160.44 L222.3,164.61 L222.8,168.37 L223.3,171.65 L223.8,174.40 L224.3,176.64 L224.8,178.41 L225.3,179.74 L225.8,180.72 L226.3,181.40 L226.8,181.86 L227.3,182.14 L227.8,182.28 L228.3,182.34 L228.8,182.34 L229.3,182.29 L229.8,182.23 L230.3,182.16 L230.8,182.10 L231.3,182.04 L231.8,182.01 L232.3,181.99 L232.8,182.00 L233.3,182.03 L233.8,182.08 L234.3,182.14 L234.8,182.22 L235.3,182.30 L235.8,182.36 L236.3,182.41 L236.8,182.42 L237.3,182.38 L237.8,182.27 L238.3,182.05 L238.8,181.69 L239.3,181.17 L239.8,180.44 L240.3,179.46 L240.8,178.21 L241.3,176.67 L241.8,174.84 L242.3,172.72 L242.8,170.38 L243.3,167.89 L243.8,165.35 L244.3,162.89 L244.8,160.64 L245.3,158.75 L245.8,157.34 L246.3,156.51 L246.8,156.31 L247.3,156.77 L247.8,157.84 L248.3,159.46 L248.8,161.51 L249.3,163.86 L249.8,166.37 L250.3,168.91 L250.8,171.36 L251.3,173.62 L251.8,175.64 L252.3,177.38 L252.8,178.82 L253.3,179.98 L253.8,180.88 L254.3,181.56 L254.8,182.06 L255.3,182.40 L255.8,182.63 L256.3,182.76 L256.8,182.83 L257.3,182.85 L257.8,182.83 L258.3,182.79 L258.8,182.72 L259.3,182.64 L259.8,182.55 L260.3,182.45 L260.8,182.36 L261.3,182.27 L261.8,182.19 L262.3,182.12 L262.8,182.07 L263.3,182.03 L263.8,182.00 L264.3,181.97 L264.8,181.93 L265.3,181.85 L265.8,181.71 L266.3,181.47 L266.8,181.07 L267.3,180.46 L267.8,179.57 L268.3,178.30 L268.8,176.59 L269.3,174.36 L269.8,171.55 L270.3,168.12 L270.8,164.09 L271.3,159.52 L271.8,154.53 L272.3,149.30 L272.8,144.08 L273.3,139.12 L273.8,134.73 L274.3,131.18 L274.8,128.71 L275.3,127.50 L275.8,127.64 L276.3,129.11 L276.8,131.82 L277.3,135.56 L277.8,140.10 L278.3,145.14 L278.8,150.40 L279.3,155.61 L279.8,160.55 L280.3,165.05 L280.8,169.00 L281.3,172.34 L281.8,175.08 L282.3,177.25 L282.8,178.92 L283.3,180.17 L283.8,181.06 L284.3,181.67 L284.8,182.09 L285.3,182.35 L285.8,182.50 L286.3,182.59 L286.8,182.64 L287.3,182.66 L287.8,182.67 L288.3,182.67 L288.8,182.68 L289.3,182.70 L289.8,182.72 L290.3,182.75 L290.8,182.79 L291.3,182.83 L291.8,182.87 L292.3,182.91 L292.8,182.95 L293.3,182.98 L293.8,183.01 L294.3,183.03 L294.8,183.04 L295.3,183.05 L295.8,183.04 L296.3,183.03 L296.8,183.02 L297.3,183.00 L297.8,182.97 L298.3,182.94 L298.8,182.92 L299.3,182.89 L299.8,182.87 L300.3,182.85 L300.8,182.83 L301.3,182.83 L301.8,182.83 L302.3,182.83 L302.8,182.85 L303.3,182.87 L303.8,182.89 L304.3,182.92 L304.8,182.95 L305.3,182.99 L305.8,183.02 L306.3,183.05 L306.8,183.07 L307.3,183.09 L307.8,183.11 L308.3,183.12 L308.8,183.13 L309.3,183.14 L309.8,183.14 L310.3,183.13 L310.8,183.13 L311.3,183.12 L311.8,183.10 L312.3,183.09 L312.8,183.07 L313.3,183.06 L313.8,183.04 L314.3,183.03 L314.8,183.02 L315.3,183.00 L315.8,183.00 L316.3,182.99 L316.8,182.98 L317.3,182.96 L317.8,182.94 L318.3,182.90 L318.8,182.84 L319.3,182.74 L319.8,182.59 L320.3,182.37 L320.8,182.07 L321.3,181.66 L321.8,181.12 L322.3,180.46 L322.8,179.64 L323.3,178.69 L323.8,177.60 L324.3,176.42 L324.8,175.18" stroke="#2a2a2a" stroke-width="1.05" fill="none" opacity="0.92"/>
<path d="M71.3,183.02 L71.8,182.98 L72.3,182.92 L72.8,182.86 L73.3,182.79 L73.8,182.71 L74.3,182.63 L74.8,182.55 L75.3,182.47 L75.8,182.39 L76.3,182.33 L76.8,182.27 L77.3,182.24 L77.8,182.22 L78.3,182.22 L78.8,182.25 L79.3,182.29 L79.8,182.34 L80.3,182.41 L80.8,182.49 L81.3,182.57 L81.8,182.65 L82.3,182.73 L82.8,182.81 L83.3,182.88 L83.8,182.94 L84.3,182.99 L84.8,183.02 L85.3,183.05 L85.8,183.07 L86.3,183.07 L86.8,183.07 L87.3,183.06 L87.8,183.04 L88.3,183.01 L88.8,182.98 L89.3,182.94 L89.8,182.90 L90.3,182.86 L90.8,182.82 L91.3,182.78 L91.8,182.75 L92.3,182.72 L92.8,182.70 L93.3,182.70 L93.8,182.70 L94.3,182.71 L94.8,182.73 L95.3,182.76 L95.8,182.80 L96.3,182.84 L96.8,182.88 L97.3,182.92 L97.8,182.96 L98.3,182.99 L98.8,183.02 L99.3,183.04 L99.8,183.05 L100.3,183.05 L100.8,183.05 L101.3,183.03 L101.8,183.01 L102.3,182.98 L102.8,182.94 L103.3,182.90 L103.8,182.85 L104.3,182.80 L104.8,182.75 L105.3,182.71 L105.8,182.67 L106.3,182.63 L106.8,182.61 L107.3,182.60 L107.8,182.60 L108.3,182.61 L108.8,182.63 L109.3,182.66 L109.8,182.70 L110.3,182.74 L110.8,182.79 L111.3,182.84 L111.8,182.88 L112.3,182.92 L112.8,182.94 L113.3,182.96 L113.8,182.97 L114.3,182.97 L114.8,182.95 L115.3,182.91 L115.8,182.86 L116.3,182.80 L116.8,182.72 L117.3,182.64 L117.8,182.54 L118.3,182.45 L118.8,182.35 L119.3,182.26 L119.8,182.18 L120.3,182.12 L120.8,182.07 L121.3,182.04 L121.8,182.04 L122.3,182.06 L122.8,182.10 L123.3,182.17 L123.8,182.24 L124.3,182.33 L124.8,182.43 L125.3,182.53 L125.8,182.62 L126.3,182.71 L126.8,182.79 L127.3,182.86 L127.8,182.92 L128.3,182.96 L128.8,182.98 L129.3,183.00 L129.8,182.99 L130.3,182.98 L130.8,182.95 L131.3,182.91 L131.8,182.86 L132.3,182.80 L132.8,182.73 L133.3,182.67 L133.8,182.60 L134.3,182.54 L134.8,182.48 L135.3,182.43 L135.8,182.39 L136.3,182.36 L136.8,182.33 L137.3,182.29 L137.8,182.24 L138.3,182.16 L138.8,182.04 L139.3,181.83 L139.8,181.53 L140.3,181.09 L140.8,180.48 L141.3,179.68 L141.8,178.66 L142.3,177.40 L142.8,175.92 L143.3,174.23 L143.8,172.37 L144.3,170.42 L144.8,168.47 L145.3,166.61 L145.8,164.96 L146.3,163.63 L146.8,162.69 L147.3,162.22 L147.8,162.26 L148.3,162.80 L148.8,163.80 L149.3,165.19 L149.8,166.88 L150.3,168.77 L150.8,170.74 L151.3,172.70 L151.8,174.56 L152.3,176.26 L152.8,177.76 L153.3,179.03 L153.8,180.08 L154.3,180.91 L154.8,181.55 L155.3,182.03 L155.8,182.37 L156.3,182.61 L156.8,182.76 L157.3,182.84 L157.8,182.88 L158.3,182.88 L158.8,182.85 L159.3,182.81 L159.8,182.76 L160.3,182.69 L160.8,182.63 L161.3,182.56 L161.8,182.51 L162.3,182.46 L162.8,182.42 L163.3,182.40 L163.8,182.39 L164.3,182.39 L164.8,182.40 L165.3,182.43 L165.8,182.45 L166.3,182.45 L166.8,182.43 L167.3,182.37 L167.8,182.23 L168.3,181.98 L168.8,181.58 L169.3,180.97 L169.8,180.10 L170.3,178.91 L170.8,177.32 L171.3,175.29 L171.8,172.78 L172.3,169.76 L172.8,166.28 L173.3,162.39 L173.8,158.22 L174.3,153.94 L174.8,149.73 L175.3,145.85 L175.8,142.52 L176.3,139.96 L176.8,138.35 L177.3,137.80 L177.8,138.35 L178.3,139.96 L178.8,142.52 L179.3,145.85 L179.8,149.73 L180.3,153.93 L180.8,158.21 L181.3,162.38 L181.8,166.27 L182.3,169.75 L182.8,172.76 L183.3,175.28 L183.8,177.32 L184.3,178.92 L184.8,180.13 L185.3,181.03 L185.8,181.66 L186.3,182.10 L186.8,182.40 L187.3,182.59 L187.8,182.72 L188.3,182.80 L188.8,182.85 L189.3,182.88 L189.8,182.91 L190.3,182.93 L190.8,182.96 L191.3,182.98 L191.8,183.00 L192.3,183.03 L192.8,183.05 L193.3,183.06 L193.8,183.08 L194.3,183.09 L194.8,183.09 L195.3,183.08 L195.8,183.07 L196.3,183.05 L196.8,183.02 L197.3,182.98 L197.8,182.93 L198.3,182.87 L198.8,182.80 L199.3,182.73 L199.8,182.65 L200.3,182.57 L200.8,182.49 L201.3,182.41 L201.8,182.34 L202.3,182.27 L202.8,182.21 L203.3,182.17 L203.8,182.14 L204.3,182.12 L204.8,182.12 L205.3,182.14 L205.8,182.17 L206.3,182.21 L206.8,182.26 L207.3,182.31 L207.8,182.37 L208.3,182.43 L208.8,182.48 L209.3,182.52 L209.8,182.55 L210.3,182.57 L210.8,182.57 L211.3,182.55 L211.8,182.52 L212.3,182.48 L212.8,182.43 L213.3,182.38 L213.8,182.33 L214.3,182.28 L214.8,182.24 L215.3,182.21 L215.8,182.20 L216.3,182.21 L216.8,182.23 L217.3,182.27 L217.8,182.33 L218.3,182.40 L218.8,182.48 L219.3,182.56 L219.8,182.64 L220.3,182.72 L220.8,182.80 L221.3,182.86 L221.8,182.92 L222.3,182.96 L222.8,182.98 L223.3,182.98 L223.8,182.95 L224.3,182.88 L224.8,182.76 L225.3,182.58 L225.8,182.31 L226.3,181.93 L226.8,181.42 L227.3,180.74 L227.8,179.86 L228.3,178.77 L228.8,177.44 L229.3,175.88 L229.8,174.10 L230.3,172.14 L230.8,170.08 L231.3,167.99 L231.8,165.97 L232.3,164.15 L232.8,162.62 L233.3,161.50 L233.8,160.86 L234.3,160.75 L234.8,161.18 L235.3,162.11 L235.8,163.48 L236.3,165.20 L236.8,167.16 L237.3,169.25 L237.8,171.34 L238.3,173.36 L238.8,175.22 L239.3,176.86 L239.8,178.27 L240.3,179.43 L240.8,180.36 L241.3,181.07 L241.8,181.59 L242.3,181.97 L242.8,182.23 L243.3,182.40 L243.8,182.50 L244.3,182.57 L244.8,182.61 L245.3,182.64 L245.8,182.66 L246.3,182.68 L246.8,182.71 L247.3,182.74 L247.8,182.78 L248.3,182.82 L248.8,182.86 L249.3,182.90 L249.8,182.94 L250.3,182.98 L250.8,183.02 L251.3,183.04 L251.8,183.06 L252.3,183.08 L252.8,183.08 L253.3,183.08 L253.8,183.06 L254.3,183.04 L254.8,183.00 L255.3,182.96 L255.8,182.90 L256.3,182.84 L256.8,182.77 L257.3,182.69 L257.8,182.61 L258.3,182.53 L258.8,182.46 L259.3,182.39 L259.8,182.34 L260.3,182.30 L260.8,182.28 L261.3,182.27 L261.8,182.29 L262.3,182.32 L262.8,182.37 L263.3,182.42 L263.8,182.49 L264.3,182.56 L264.8,182.64 L265.3,182.70 L265.8,182.77 L266.3,182.82 L266.8,182.86 L267.3,182.89 L267.8,182.90 L268.3,182.90 L268.8,182.88 L269.3,182.86 L269.8,182.82 L270.3,182.78 L270.8,182.73 L271.3,182.68 L271.8,182.64 L272.3,182.60 L272.8,182.57 L273.3,182.55 L273.8,182.54 L274.3,182.54 L274.8,182.56 L275.3,182.59 L275.8,182.63 L276.3,182.67 L276.8,182.73 L277.3,182.78 L277.8,182.83 L278.3,182.89 L278.8,182.93 L279.3,182.97 L279.8,183.00 L280.3,183.02 L280.8,183.04 L281.3,183.04 L281.8,183.03 L282.3,183.00 L282.8,182.97 L283.3,182.93 L283.8,182.87 L284.3,182.81 L284.8,182.74 L285.3,182.67 L285.8,182.60 L286.3,182.54 L286.8,182.48 L287.3,182.43 L287.8,182.39 L288.3,182.37 L288.8,182.36 L289.3,182.37 L289.8,182.40 L290.3,182.43 L290.8,182.48 L291.3,182.52 L291.8,182.56 L292.3,182.57 L292.8,182.56 L293.3,182.49 L293.8,182.35 L294.3,182.10 L294.8,181.70 L295.3,181.13 L295.8,180.31 L296.3,179.22 L296.8,177.80 L297.3,176.01 L297.8,173.85 L298.3,171.31 L298.8,168.44 L299.3,165.30 L299.8,162.03 L300.3,158.75 L300.8,155.64 L301.3,152.89 L301.8,150.67 L302.3,149.12 L302.8,148.37 L303.3,148.45 L303.8,149.37 L304.3,151.06 L304.8,153.39 L305.3,156.23 L305.8,159.38 L306.3,162.66 L306.8,165.91 L307.3,168.99 L307.8,171.79 L308.3,174.25 L308.8,176.33 L309.3,178.03 L309.8,179.38 L310.3,180.41 L310.8,181.18 L311.3,181.74 L311.8,182.12 L312.3,182.39 L312.8,182.56 L313.3,182.68 L313.8,182.75 L314.3,182.80 L314.8,182.84 L315.3,182.87 L315.8,182.90 L316.3,182.93 L316.8,182.96 L317.3,182.98 L317.8,183.00 L318.3,183.02 L318.8,183.04 L319.3,183.04 L319.8,183.05 L320.3,183.04 L320.8,183.02 L321.3,182.99 L321.8,182.96 L322.3,182.91 L322.8,182.86 L323.3,182.80 L323.8,182.74 L324.3,182.67 L324.8,182.61" stroke="#2e9e5e" stroke-width="1.05" fill="none" opacity="0.92"/>
<path d="M71.3,183.11 L71.8,183.11 L72.3,183.09 L72.8,183.08 L73.3,183.06 L73.8,183.04 L74.3,183.01 L74.8,182.98 L75.3,182.95 L75.8,182.93 L76.3,182.90 L76.8,182.88 L77.3,182.87 L77.8,182.86 L78.3,182.86 L78.8,182.87 L79.3,182.88 L79.8,182.90 L80.3,182.92 L80.8,182.94 L81.3,182.97 L81.8,183.00 L82.3,183.03 L82.8,183.05 L83.3,183.07 L83.8,183.09 L84.3,183.09 L84.8,183.10 L85.3,183.09 L85.8,183.08 L86.3,183.05 L86.8,183.02 L87.3,182.97 L87.8,182.91 L88.3,182.84 L88.8,182.76 L89.3,182.67 L89.8,182.58 L90.3,182.48 L90.8,182.38 L91.3,182.29 L91.8,182.21 L92.3,182.14 L92.8,182.08 L93.3,182.05 L93.8,182.04 L94.3,182.05 L94.8,182.07 L95.3,182.11 L95.8,182.14 L96.3,182.17 L96.8,182.17 L97.3,182.12 L97.8,182.01 L98.3,181.80 L98.8,181.47 L99.3,180.98 L99.8,180.29 L100.3,179.39 L100.8,178.25 L101.3,176.86 L101.8,175.22 L102.3,173.38 L102.8,171.38 L103.3,169.30 L103.8,167.23 L104.3,165.28 L104.8,163.58 L105.3,162.22 L105.8,161.31 L106.3,160.90 L106.8,161.02 L107.3,161.67 L107.8,162.79 L108.3,164.31 L108.8,166.12 L109.3,168.10 L109.8,170.13 L110.3,172.10 L110.8,173.91 L111.3,175.46 L111.8,176.67 L112.3,177.50 L112.8,177.90 L113.3,177.80 L113.8,177.19 L114.3,176.03 L114.8,174.30 L115.3,171.98 L115.8,169.11 L116.3,165.73 L116.8,161.94 L117.3,157.87 L117.8,153.70 L118.3,149.66 L118.8,145.96 L119.3,142.84 L119.8,140.52 L120.3,139.14 L120.8,138.82 L121.3,139.57 L121.8,141.34 L122.3,144.01 L122.8,147.39 L123.3,151.26 L123.8,155.40 L124.3,159.58 L124.8,163.60 L125.3,167.31 L125.8,170.61 L126.3,173.44 L126.8,175.78 L127.3,177.64 L127.8,179.08 L128.3,180.15 L128.8,180.90 L129.3,181.41 L129.8,181.74 L130.3,181.93 L130.8,182.03 L131.3,182.07 L131.8,182.08 L132.3,182.07 L132.8,182.07 L133.3,182.07 L133.8,182.09 L134.3,182.13 L134.8,182.19 L135.3,182.26 L135.8,182.34 L136.3,182.43 L136.8,182.52 L137.3,182.62 L137.8,182.70 L138.3,182.78 L138.8,182.85 L139.3,182.90 L139.8,182.94 L140.3,182.96 L140.8,182.97 L141.3,182.96 L141.8,182.93 L142.3,182.88 L142.8,182.82 L143.3,182.74 L143.8,182.65 L144.3,182.54 L144.8,182.44 L145.3,182.32 L145.8,182.21 L146.3,182.11 L146.8,182.02 L147.3,181.95 L147.8,181.90 L148.3,181.88 L148.8,181.88 L149.3,181.91 L149.8,181.96 L150.3,182.04 L150.8,182.13 L151.3,182.23 L151.8,182.34 L152.3,182.45 L152.8,182.55 L153.3,182.65 L153.8,182.73 L154.3,182.81 L154.8,182.87 L155.3,182.91 L155.8,182.94 L156.3,182.96 L156.8,182.96 L157.3,182.96 L157.8,182.95 L158.3,182.93 L158.8,182.92 L159.3,182.90 L159.8,182.89 L160.3,182.88 L160.8,182.88 L161.3,182.88 L161.8,182.88 L162.3,182.90 L162.8,182.92 L163.3,182.94 L163.8,182.96 L164.3,182.99 L164.8,183.02 L165.3,183.05 L165.8,183.07 L166.3,183.09 L166.8,183.11 L167.3,183.13 L167.8,183.14 L168.3,183.16 L168.8,183.16 L169.3,183.16 L169.8,183.16 L170.3,183.16 L170.8,183.15 L171.3,183.14 L171.8,183.13 L172.3,183.11 L172.8,183.08 L173.3,183.05 L173.8,183.02 L174.3,182.99 L174.8,182.96 L175.3,182.92 L175.8,182.89 L176.3,182.85 L176.8,182.82 L177.3,182.80 L177.8,182.78 L178.3,182.76 L178.8,182.73 L179.3,182.70 L179.8,182.65 L180.3,182.56 L180.8,182.42 L181.3,182.20 L181.8,181.86 L182.3,181.37 L182.8,180.67 L183.3,179.73 L183.8,178.49 L184.3,176.91 L184.8,174.96 L185.3,172.64 L185.8,169.98 L186.3,167.04 L186.8,163.90 L187.3,160.70 L187.8,157.60 L188.3,154.77 L188.8,152.39 L189.3,150.61 L189.8,149.56 L190.3,149.31 L190.8,149.89 L191.3,151.24 L191.8,153.28 L192.3,155.86 L192.8,158.82 L193.3,161.97 L193.8,165.16 L194.3,168.21 L194.8,171.03 L195.3,173.50 L195.8,175.58 L196.3,177.25 L196.8,178.50 L197.3,179.33 L197.8,179.78 L198.3,179.85 L198.8,179.58 L199.3,179.00 L199.8,178.12 L200.3,176.97 L200.8,175.61 L201.3,174.09 L201.8,172.47 L202.3,170.83 L202.8,169.28 L203.3,167.90 L203.8,166.78 L204.3,166.00 L204.8,165.62 L205.3,165.66 L205.8,166.12 L206.3,166.97 L206.8,168.15 L207.3,169.57 L207.8,171.15 L208.3,172.79 L208.8,174.41 L209.3,175.95 L209.8,177.33 L210.3,178.54 L210.8,179.55 L211.3,180.37 L211.8,181.00 L212.3,181.48 L212.8,181.81 L213.3,182.04 L213.8,182.19 L214.3,182.29 L214.8,182.34 L215.3,182.38 L215.8,182.40 L216.3,182.42 L216.8,182.45 L217.3,182.49 L217.8,182.54 L218.3,182.59 L218.8,182.65 L219.3,182.70 L219.8,182.76 L220.3,182.81 L220.8,182.85 L221.3,182.87 L221.8,182.87 L222.3,182.83 L222.8,182.74 L223.3,182.59 L223.8,182.36 L224.3,182.02 L224.8,181.55 L225.3,180.93 L225.8,180.13 L226.3,179.15 L226.8,177.96 L227.3,176.60 L227.8,175.07 L228.3,173.42 L228.8,171.72 L229.3,170.05 L229.8,168.49 L230.3,167.13 L230.8,166.06 L231.3,165.35 L231.8,165.04 L232.3,165.15 L232.8,165.67 L233.3,166.56 L233.8,167.76 L234.3,169.18 L234.8,170.74 L235.3,172.36 L235.8,173.95 L236.3,175.45 L236.8,176.83 L237.3,178.05 L237.8,179.09 L238.3,179.97 L238.8,180.69 L239.3,181.27 L239.8,181.73 L240.3,182.08 L240.8,182.36 L241.3,182.57 L241.8,182.73 L242.3,182.85 L242.8,182.94 L243.3,183.00 L243.8,183.05 L244.3,183.09 L244.8,183.11 L245.3,183.13 L245.8,183.14 L246.3,183.15 L246.8,183.16 L247.3,183.16 L247.8,183.17 L248.3,183.17 L248.8,183.17 L249.3,183.17 L249.8,183.17 L250.3,183.17 L250.8,183.17 L251.3,183.16 L251.8,183.16 L252.3,183.14 L252.8,183.13 L253.3,183.10 L253.8,183.07 L254.3,183.03 L254.8,182.99 L255.3,182.93 L255.8,182.87 L256.3,182.80 L256.8,182.72 L257.3,182.64 L257.8,182.56 L258.3,182.48 L258.8,182.41 L259.3,182.35 L259.8,182.30 L260.3,182.27 L260.8,182.26 L261.3,182.26 L261.8,182.29 L262.3,182.33 L262.8,182.38 L263.3,182.45 L263.8,182.53 L264.3,182.61 L264.8,182.69 L265.3,182.77 L265.8,182.84 L266.3,182.90 L266.8,182.96 L267.3,183.00 L267.8,183.03 L268.3,183.06 L268.8,183.07 L269.3,183.07 L269.8,183.06 L270.3,183.04 L270.8,183.00 L271.3,182.96 L271.8,182.92 L272.3,182.86 L272.8,182.80 L273.3,182.73 L273.8,182.67 L274.3,182.61 L274.8,182.55 L275.3,182.50 L275.8,182.46 L276.3,182.44 L276.8,182.43 L277.3,182.44 L277.8,182.46 L278.3,182.49 L278.8,182.53 L279.3,182.59 L279.8,182.64 L280.3,182.70 L280.8,182.75 L281.3,182.80 L281.8,182.84 L282.3,182.86 L282.8,182.88 L283.3,182.88 L283.8,182.87 L284.3,182.85 L284.8,182.82 L285.3,182.78 L285.8,182.74 L286.3,182.70 L286.8,182.66 L287.3,182.62 L287.8,182.59 L288.3,182.57 L288.8,182.57 L289.3,182.57 L289.8,182.59 L290.3,182.61 L290.8,182.65 L291.3,182.69 L291.8,182.74 L292.3,182.79 L292.8,182.84 L293.3,182.89 L293.8,182.93 L294.3,182.97 L294.8,182.99 L295.3,183.00 L295.8,183.01 L296.3,183.00 L296.8,182.98 L297.3,182.95 L297.8,182.91 L298.3,182.86 L298.8,182.81 L299.3,182.75 L299.8,182.69 L300.3,182.62 L300.8,182.57 L301.3,182.52 L301.8,182.48 L302.3,182.46 L302.8,182.44 L303.3,182.45 L303.8,182.46 L304.3,182.49 L304.8,182.53 L305.3,182.57 L305.8,182.62 L306.3,182.66 L306.8,182.70 L307.3,182.73 L307.8,182.75 L308.3,182.76 L308.8,182.74 L309.3,182.71 L309.8,182.67 L310.3,182.61 L310.8,182.53 L311.3,182.45 L311.8,182.37 L312.3,182.29 L312.8,182.21 L313.3,182.15 L313.8,182.10 L314.3,182.07 L314.8,182.06 L315.3,182.08 L315.8,182.11 L316.3,182.17 L316.8,182.24 L317.3,182.33 L317.8,182.42 L318.3,182.52 L318.8,182.61 L319.3,182.70 L319.8,182.79 L320.3,182.87 L320.8,182.93 L321.3,182.99 L321.8,183.03 L322.3,183.06 L322.8,183.09 L323.3,183.10 L323.8,183.11 L324.3,183.11 L324.8,183.10" stroke="#3b3bf5" stroke-width="1.05" fill="none" opacity="0.92"/>
<path d="M71.3,174.72 L71.8,175.39 L72.3,175.30 L72.8,174.45 L73.3,172.84 L73.8,170.48 L74.3,167.40 L74.8,163.68 L75.3,159.42 L75.8,154.79 L76.3,149.99 L76.8,145.27 L77.3,140.89 L77.8,137.13 L78.3,134.24 L78.8,132.42 L79.3,131.80 L79.8,132.42 L80.3,134.24 L80.8,137.13 L81.3,140.90 L81.8,145.28 L82.3,150.00 L82.8,154.81 L83.3,159.45 L83.8,163.71 L84.3,167.45 L84.8,170.54 L85.3,172.92 L85.8,174.54 L86.3,175.40 L86.8,175.48 L87.3,174.79 L87.8,173.35 L88.3,171.17 L88.8,168.29 L89.3,164.80 L89.8,160.80 L90.3,156.45 L90.8,151.93 L91.3,147.48 L91.8,143.36 L92.3,139.82 L92.8,137.10 L93.3,135.38 L93.8,134.79 L94.3,135.37 L94.8,137.08 L95.3,139.80 L95.8,143.32 L96.3,147.42 L96.8,151.84 L97.3,156.32 L97.8,160.62 L98.3,164.56 L98.8,167.97 L99.3,170.77 L99.8,172.87 L100.3,174.28 L100.8,174.98 L101.3,175.01 L101.8,174.41 L102.3,173.25 L102.8,171.61 L103.3,169.58 L103.8,167.28 L104.3,164.85 L104.8,162.44 L105.3,160.20 L105.8,158.28 L106.3,156.82 L106.8,155.92 L107.3,155.66 L107.8,156.06 L108.3,157.09 L108.8,158.67 L109.3,160.71 L109.8,163.07 L110.3,165.61 L110.8,168.18 L111.3,170.68 L111.8,173.00 L112.3,175.07 L112.8,176.84 L113.3,178.32 L113.8,179.49 L114.3,180.39 L114.8,181.05 L115.3,181.51 L115.8,181.81 L116.3,181.99 L116.8,182.08 L117.3,182.12 L117.8,182.11 L118.3,182.09 L118.8,182.07 L119.3,182.05 L119.8,182.05 L120.3,182.07 L120.8,182.10 L121.3,182.16 L121.8,182.22 L122.3,182.29 L122.8,182.37 L123.3,182.43 L123.8,182.48 L124.3,182.49 L124.8,182.45 L125.3,182.32 L125.8,182.09 L126.3,181.72 L126.8,181.15 L127.3,180.35 L127.8,179.25 L128.3,177.82 L128.8,176.02 L129.3,173.81 L129.8,171.20 L130.3,168.23 L130.8,164.96 L131.3,161.51 L131.8,158.03 L132.3,154.70 L132.8,151.70 L133.3,149.22 L133.8,147.43 L134.3,146.46 L134.8,146.37 L135.3,147.17 L135.8,148.80 L136.3,151.15 L136.8,154.06 L137.3,157.35 L137.8,160.81 L138.3,164.28 L138.8,167.59 L139.3,170.63 L139.8,173.31 L140.3,175.59 L140.8,177.48 L141.3,178.97 L141.8,180.12 L142.3,180.97 L142.8,181.58 L143.3,181.98 L143.8,182.23 L144.3,182.37 L144.8,182.43 L145.3,182.43 L145.8,182.39 L146.3,182.34 L146.8,182.27 L147.3,182.21 L147.8,182.16 L148.3,182.13 L148.8,182.11 L149.3,182.12 L149.8,182.14 L150.3,182.19 L150.8,182.25 L151.3,182.32 L151.8,182.41 L152.3,182.50 L152.8,182.59 L153.3,182.67 L153.8,182.75 L154.3,182.83 L154.8,182.89 L155.3,182.94 L155.8,182.97 L156.3,183.00 L156.8,183.01 L157.3,183.01 L157.8,183.01 L158.3,183.00 L158.8,182.98 L159.3,182.96 L159.8,182.94 L160.3,182.93 L160.8,182.91 L161.3,182.90 L161.8,182.89 L162.3,182.89 L162.8,182.90 L163.3,182.91 L163.8,182.93 L164.3,182.95 L164.8,182.97 L165.3,182.99 L165.8,183.02 L166.3,183.04 L166.8,183.07 L167.3,183.09 L167.8,183.10 L168.3,183.12 L168.8,183.12 L169.3,183.12 L169.8,183.12 L170.3,183.10 L170.8,183.08 L171.3,183.06 L171.8,183.02 L172.3,182.97 L172.8,182.92 L173.3,182.86 L173.8,182.79 L174.3,182.72 L174.8,182.65 L175.3,182.58 L175.8,182.52 L176.3,182.46 L176.8,182.41 L177.3,182.38 L177.8,182.36 L178.3,182.36 L178.8,182.37 L179.3,182.39 L179.8,182.42 L180.3,182.46 L180.8,182.50 L181.3,182.54 L181.8,182.58 L182.3,182.60 L182.8,182.61 L183.3,182.60 L183.8,182.58 L184.3,182.55 L184.8,182.50 L185.3,182.44 L185.8,182.37 L186.3,182.31 L186.8,182.25 L187.3,182.19 L187.8,182.15 L188.3,182.13 L188.8,182.13 L189.3,182.14 L189.8,182.18 L190.3,182.23 L190.8,182.30 L191.3,182.37 L191.8,182.44 L192.3,182.51 L192.8,182.57 L193.3,182.60 L193.8,182.59 L194.3,182.54 L194.8,182.41 L195.3,182.19 L195.8,181.85 L196.3,181.38 L196.8,180.74 L197.3,179.91 L197.8,178.87 L198.3,177.63 L198.8,176.19 L199.3,174.58 L199.8,172.85 L200.3,171.08 L200.8,169.33 L201.3,167.72 L201.8,166.33 L202.3,165.26 L202.8,164.57 L203.3,164.33 L203.8,164.54 L204.3,165.20 L204.8,166.24 L205.3,167.61 L205.8,169.21 L206.3,170.95 L206.8,172.72 L207.3,174.45 L207.8,176.06 L208.3,177.51 L208.8,178.76 L209.3,179.80 L209.8,180.64 L210.3,181.29 L210.8,181.77 L211.3,182.10 L211.8,182.32 L212.3,182.44 L212.8,182.50 L213.3,182.50 L213.8,182.46 L214.3,182.39 L214.8,182.32 L215.3,182.24 L215.8,182.16 L216.3,182.10 L216.8,182.05 L217.3,182.03 L217.8,182.02 L218.3,182.04 L218.8,182.09 L219.3,182.15 L219.8,182.23 L220.3,182.32 L220.8,182.41 L221.3,182.51 L221.8,182.61 L222.3,182.70 L222.8,182.78 L223.3,182.85 L223.8,182.91 L224.3,182.95 L224.8,182.98 L225.3,182.99 L225.8,182.98 L226.3,182.95 L226.8,182.90 L227.3,182.83 L227.8,182.74 L228.3,182.63 L228.8,182.51 L229.3,182.37 L229.8,182.21 L230.3,182.06 L230.8,181.90 L231.3,181.74 L231.8,181.60 L232.3,181.49 L232.8,181.39 L233.3,181.34 L233.8,181.31 L234.3,181.33 L234.8,181.38 L235.3,181.46 L235.8,181.57 L236.3,181.71 L236.8,181.86 L237.3,182.01 L237.8,182.17 L238.3,182.32 L238.8,182.46 L239.3,182.59 L239.8,182.70 L240.3,182.78 L240.8,182.85 L241.3,182.90 L241.8,182.92 L242.3,182.94 L242.8,182.93 L243.3,182.92 L243.8,182.89 L244.3,182.86 L244.8,182.83 L245.3,182.80 L245.8,182.76 L246.3,182.73 L246.8,182.71 L247.3,182.70 L247.8,182.70 L248.3,182.70 L248.8,182.71 L249.3,182.73 L249.8,182.74 L250.3,182.75 L250.8,182.75 L251.3,182.71 L251.8,182.64 L252.3,182.50 L252.8,182.27 L253.3,181.92 L253.8,181.40 L254.3,180.67 L254.8,179.69 L255.3,178.41 L255.8,176.80 L256.3,174.83 L256.8,172.50 L257.3,169.85 L257.8,166.94 L258.3,163.86 L258.8,160.76 L259.3,157.79 L259.8,155.11 L260.3,152.90 L260.8,151.31 L261.3,150.44 L261.8,150.36 L262.3,151.08 L262.8,152.53 L263.3,154.63 L263.8,157.22 L264.3,160.15 L264.8,163.24 L265.3,166.33 L265.8,169.28 L266.3,171.98 L266.8,174.37 L267.3,176.41 L267.8,178.09 L268.3,179.42 L268.8,180.44 L269.3,181.19 L269.8,181.72 L270.3,182.07 L270.8,182.29 L271.3,182.40 L271.8,182.44 L272.3,182.43 L272.8,182.39 L273.3,182.33 L273.8,182.27 L274.3,182.21 L274.8,182.16 L275.3,182.13 L275.8,182.12 L276.3,182.12 L276.8,182.15 L277.3,182.20 L277.8,182.25 L278.3,182.31 L278.8,182.38 L279.3,182.42 L279.8,182.44 L280.3,182.42 L280.8,182.33 L281.3,182.16 L281.8,181.86 L282.3,181.40 L282.8,180.75 L283.3,179.86 L283.8,178.69 L284.3,177.22 L284.8,175.44 L285.3,173.34 L285.8,170.97 L286.3,168.38 L286.8,165.66 L287.3,162.95 L287.8,160.38 L288.3,158.10 L288.8,156.26 L289.3,154.98 L289.8,154.36 L290.3,154.43 L290.8,155.19 L291.3,156.59 L291.8,158.53 L292.3,160.88 L292.8,163.49 L293.3,166.21 L293.8,168.91 L294.3,171.47 L294.8,173.80 L295.3,175.84 L295.8,177.57 L296.3,178.98 L296.8,180.10 L297.3,180.95 L297.8,181.58 L298.3,182.03 L298.8,182.32 L299.3,182.51 L299.8,182.61 L300.3,182.66 L300.8,182.66 L301.3,182.64 L301.8,182.61 L302.3,182.57 L302.8,182.53 L303.3,182.50 L303.8,182.46 L304.3,182.43 L304.8,182.39 L305.3,182.34 L305.8,182.24 L306.3,182.09 L306.8,181.84 L307.3,181.45 L307.8,180.89 L308.3,180.09 L308.8,178.99 L309.3,177.53 L309.8,175.68 L310.3,173.39 L310.8,170.67 L311.3,167.53 L311.8,164.05 L312.3,160.35 L312.8,156.57 L313.3,152.91 L313.8,149.56 L314.3,146.75 L314.8,144.65 L315.3,143.41 L315.8,143.11 L316.3,143.79 L316.8,145.39 L317.3,147.80 L317.8,150.86 L318.3,154.36 L318.8,158.10 L319.3,161.87 L319.8,165.51 L320.3,168.87 L320.8,171.86 L321.3,174.43 L321.8,176.56 L322.3,178.26 L322.8,179.59 L323.3,180.59 L323.8,181.31 L324.3,181.82 L324.8,182.16" stroke="#f23b3b" stroke-width="1.05" fill="none" opacity="0.92"/>
</g>
<rect x="72.50" y="181.30" width="251.30" height="2.40" fill="url(#baseGrad)" stroke="none" stroke-width="0"/>
<rect x="72.00" y="105.60" width="252.30" height="78.60" fill="none" stroke="#1a1a1a" stroke-width="1.4"/>
<text x="81.30" y="112.80" font-size="6.9" text-anchor="middle" font-weight="bold" fill="#ff1a1a">T</text>
<text x="94.00" y="112.80" font-size="6.9" text-anchor="middle" font-weight="bold" fill="#ff1a1a">T</text>
<text x="107.00" y="112.80" font-size="6.9" text-anchor="middle" font-weight="bold" fill="#e060c8">Y</text>
<text x="121.00" y="112.80" font-size="6.9" text-anchor="middle" font-weight="bold" fill="#2f8fdf">C</text>
<text x="135.00" y="112.80" font-size="6.9" text-anchor="middle" font-weight="bold" fill="#ff1a1a">T</text>
<text x="148.50" y="112.80" font-size="6.9" text-anchor="middle" font-weight="bold" fill="#e060c8">R</text>
<text x="162.40" y="112.80" font-size="6.9" text-anchor="middle" font-weight="bold" fill="#333">G</text>
<text x="177.00" y="112.80" font-size="6.9" text-anchor="middle" font-weight="bold" fill="#22b04b">A</text>
<text x="190.00" y="112.80" font-size="6.9" text-anchor="middle" font-weight="bold" fill="#2f8fdf">C</text>
<text x="204.00" y="112.80" font-size="6.9" text-anchor="middle" font-weight="bold" fill="#e060c8">Y</text>
<text x="217.90" y="112.80" font-size="6.9" text-anchor="middle" font-weight="bold" fill="#333">G</text>
<text x="232.20" y="112.80" font-size="6.9" text-anchor="middle" font-weight="bold" fill="#e060c8">M</text>
<text x="246.70" y="112.80" font-size="6.9" text-anchor="middle" font-weight="bold" fill="#333">G</text>
<text x="261.00" y="112.80" font-size="6.9" text-anchor="middle" font-weight="bold" fill="#ff1a1a">T</text>
<text x="274.10" y="112.80" font-size="6.9" text-anchor="middle" font-weight="bold" fill="#333">G</text>
<text x="288.40" y="112.80" font-size="6.9" text-anchor="middle" font-weight="bold" fill="#ff1a1a">T</text>
<text x="301.80" y="112.80" font-size="6.9" text-anchor="middle" font-weight="bold" fill="#22b04b">A</text>
<text x="315.30" y="112.80" font-size="6.9" text-anchor="middle" font-weight="bold" fill="#ff1a1a">T</text>
<g clip-path="url(#clipA2)">
<path d="M71.3,269.98 L71.8,269.96 L72.3,269.92 L72.8,269.87 L73.3,269.81 L73.8,269.75 L74.3,269.67 L74.8,269.59 L75.3,269.51 L75.8,269.43 L76.3,269.36 L76.8,269.30 L77.3,269.24 L77.8,269.21 L78.3,269.18 L78.8,269.18 L79.3,269.19 L79.8,269.23 L80.3,269.27 L80.8,269.33 L81.3,269.40 L81.8,269.47 L82.3,269.55 L82.8,269.63 L83.3,269.70 L83.8,269.76 L84.3,269.82 L84.8,269.87 L85.3,269.90 L85.8,269.93 L86.3,269.95 L86.8,269.96 L87.3,269.96 L87.8,269.95 L88.3,269.95 L88.8,269.94 L89.3,269.93 L89.8,269.92 L90.3,269.92 L90.8,269.92 L91.3,269.92 L91.8,269.93 L92.3,269.94 L92.8,269.95 L93.3,269.97 L93.8,269.99 L94.3,270.01 L94.8,270.03 L95.3,270.05 L95.8,270.07 L96.3,270.08 L96.8,270.09 L97.3,270.10 L97.8,270.10 L98.3,270.10 L98.8,270.09 L99.3,270.09 L99.8,270.07 L100.3,270.06 L100.8,270.04 L101.3,270.02 L101.8,270.00 L102.3,269.98 L102.8,269.96 L103.3,269.95 L103.8,269.94 L104.3,269.93 L104.8,269.93 L105.3,269.93 L105.8,269.94 L106.3,269.95 L106.8,269.97 L107.3,269.98 L107.8,270.00 L108.3,270.03 L108.8,270.05 L109.3,270.07 L109.8,270.09 L110.3,270.11 L110.8,270.12 L111.3,270.13 L111.8,270.14 L112.3,270.15 L112.8,270.16 L113.3,270.16 L113.8,270.16 L114.3,270.15 L114.8,270.15 L115.3,270.14 L115.8,270.13 L116.3,270.12 L116.8,270.11 L117.3,270.09 L117.8,270.08 L118.3,270.07 L118.8,270.06 L119.3,270.05 L119.8,270.05 L120.3,270.04 L120.8,270.04 L121.3,270.05 L121.8,270.05 L122.3,270.06 L122.8,270.07 L123.3,270.07 L123.8,270.09 L124.3,270.10 L124.8,270.10 L125.3,270.11 L125.8,270.12 L126.3,270.12 L126.8,270.12 L127.3,270.12 L127.8,270.11 L128.3,270.10 L128.8,270.09 L129.3,270.08 L129.8,270.06 L130.3,270.04 L130.8,270.02 L131.3,270.00 L131.8,269.99 L132.3,269.97 L132.8,269.96 L133.3,269.95 L133.8,269.94 L134.3,269.94 L134.8,269.94 L135.3,269.94 L135.8,269.95 L136.3,269.96 L136.8,269.97 L137.3,269.98 L137.8,269.99 L138.3,269.99 L138.8,269.99 L139.3,269.98 L139.8,269.97 L140.3,269.95 L140.8,269.93 L141.3,269.90 L141.8,269.87 L142.3,269.83 L142.8,269.80 L143.3,269.76 L143.8,269.73 L144.3,269.71 L144.8,269.69 L145.3,269.68 L145.8,269.68 L146.3,269.69 L146.8,269.70 L147.3,269.72 L147.8,269.75 L148.3,269.78 L148.8,269.82 L149.3,269.85 L149.8,269.87 L150.3,269.88 L150.8,269.87 L151.3,269.83 L151.8,269.75 L152.3,269.62 L152.8,269.42 L153.3,269.14 L153.8,268.75 L154.3,268.24 L154.8,267.59 L155.3,266.78 L155.8,265.81 L156.3,264.67 L156.8,263.39 L157.3,261.98 L157.8,260.49 L158.3,258.98 L158.8,257.51 L159.3,256.15 L159.8,254.98 L160.3,254.07 L160.8,253.46 L161.3,253.21 L161.8,253.32 L162.3,253.79 L162.8,254.58 L163.3,255.66 L163.8,256.95 L164.3,258.38 L164.8,259.89 L165.3,261.39 L165.8,262.84 L166.3,264.17 L166.8,265.37 L167.3,266.41 L167.8,267.29 L168.3,268.00 L168.8,268.56 L169.3,269.00 L169.8,269.32 L170.3,269.54 L170.8,269.69 L171.3,269.78 L171.8,269.83 L172.3,269.84 L172.8,269.82 L173.3,269.79 L173.8,269.75 L174.3,269.70 L174.8,269.65 L175.3,269.59 L175.8,269.55 L176.3,269.51 L176.8,269.48 L177.3,269.46 L177.8,269.46 L178.3,269.46 L178.8,269.48 L179.3,269.51 L179.8,269.54 L180.3,269.58 L180.8,269.62 L181.3,269.66 L181.8,269.70 L182.3,269.73 L182.8,269.76 L183.3,269.78 L183.8,269.80 L184.3,269.81 L184.8,269.82 L185.3,269.83 L185.8,269.83 L186.3,269.83 L186.8,269.84 L187.3,269.84 L187.8,269.85 L188.3,269.87 L188.8,269.88 L189.3,269.90 L189.8,269.92 L190.3,269.95 L190.8,269.97 L191.3,269.99 L191.8,270.01 L192.3,270.02 L192.8,270.03 L193.3,270.03 L193.8,270.02 L194.3,270.01 L194.8,269.98 L195.3,269.94 L195.8,269.90 L196.3,269.84 L196.8,269.77 L197.3,269.70 L197.8,269.62 L198.3,269.54 L198.8,269.45 L199.3,269.37 L199.8,269.30 L200.3,269.24 L200.8,269.20 L201.3,269.17 L201.8,269.15 L202.3,269.16 L202.8,269.18 L203.3,269.22 L203.8,269.27 L204.3,269.33 L204.8,269.39 L205.3,269.45 L205.8,269.49 L206.3,269.50 L206.8,269.47 L207.3,269.37 L207.8,269.18 L208.3,268.86 L208.8,268.36 L209.3,267.63 L209.8,266.61 L210.3,265.23 L210.8,263.43 L211.3,261.13 L211.8,258.29 L212.3,254.88 L212.8,250.90 L213.3,246.40 L213.8,241.48 L214.3,236.28 L214.8,231.00 L215.3,225.86 L215.8,221.11 L216.3,217.03 L216.8,213.83 L217.3,211.72 L217.8,210.83 L218.3,211.21 L218.8,212.84 L219.3,215.63 L219.8,219.39 L220.3,223.90 L220.8,228.91 L221.3,234.17 L221.8,239.43 L222.3,244.48 L222.8,249.16 L223.3,253.35 L223.8,256.99 L224.3,260.05 L224.8,262.56 L225.3,264.55 L225.8,266.09 L226.3,267.24 L226.8,268.07 L227.3,268.65 L227.8,269.03 L228.3,269.27 L228.8,269.40 L229.3,269.46 L229.8,269.47 L230.3,269.44 L230.8,269.40 L231.3,269.35 L231.8,269.30 L232.3,269.26 L232.8,269.23 L233.3,269.22 L233.8,269.21 L234.3,269.21 L234.8,269.22 L235.3,269.23 L235.8,269.22 L236.3,269.19 L236.8,269.12 L237.3,268.98 L237.8,268.76 L238.3,268.43 L238.8,267.96 L239.3,267.32 L239.8,266.50 L240.3,265.47 L240.8,264.22 L241.3,262.77 L241.8,261.12 L242.3,259.33 L242.8,257.44 L243.3,255.54 L243.8,253.70 L244.3,252.02 L244.8,250.59 L245.3,249.51 L245.8,248.83 L246.3,248.60 L246.8,248.83 L247.3,249.51 L247.8,250.60 L248.3,252.03 L248.8,253.72 L249.3,255.56 L249.8,257.48 L250.3,259.38 L250.8,261.20 L251.3,262.87 L251.8,264.35 L252.3,265.63 L252.8,266.70 L253.3,267.57 L253.8,268.26 L254.3,268.78 L254.8,269.17 L255.3,269.44 L255.8,269.62 L256.3,269.73 L256.8,269.78 L257.3,269.79 L257.8,269.78 L258.3,269.74 L258.8,269.69 L259.3,269.62 L259.8,269.56 L260.3,269.49 L260.8,269.43 L261.3,269.38 L261.8,269.33 L262.3,269.29 L262.8,269.26 L263.3,269.24 L263.8,269.21 L264.3,269.16 L264.8,269.08 L265.3,268.95 L265.8,268.74 L266.3,268.40 L266.8,267.91 L267.3,267.20 L267.8,266.22 L268.3,264.91 L268.8,263.23 L269.3,261.12 L269.8,258.56 L270.3,255.54 L270.8,252.10 L271.3,248.31 L271.8,244.26 L272.3,240.11 L272.8,236.03 L273.3,232.22 L273.8,228.89 L274.3,226.22 L274.8,224.38 L275.3,223.48 L275.8,223.58 L276.3,224.68 L276.8,226.70 L277.3,229.52 L277.8,232.97 L278.3,236.86 L278.8,240.98 L279.3,245.14 L279.8,249.16 L280.3,252.92 L280.8,256.30 L281.3,259.26 L281.8,261.77 L282.3,263.84 L282.8,265.49 L283.3,266.78 L283.8,267.75 L284.3,268.45 L284.8,268.95 L285.3,269.29 L285.8,269.50 L286.3,269.62 L286.8,269.68 L287.3,269.68 L287.8,269.66 L288.3,269.61 L288.8,269.55 L289.3,269.48 L289.8,269.42 L290.3,269.35 L290.8,269.30 L291.3,269.26 L291.8,269.24 L292.3,269.23 L292.8,269.23 L293.3,269.25 L293.8,269.27 L294.3,269.31 L294.8,269.34 L295.3,269.38 L295.8,269.42 L296.3,269.45 L296.8,269.46 L297.3,269.47 L297.8,269.46 L298.3,269.44 L298.8,269.41 L299.3,269.37 L299.8,269.33 L300.3,269.28 L300.8,269.24 L301.3,269.20 L301.8,269.18 L302.3,269.16 L302.8,269.16 L303.3,269.18 L303.8,269.21 L304.3,269.26 L304.8,269.32 L305.3,269.38 L305.8,269.46 L306.3,269.53 L306.8,269.61 L307.3,269.68 L307.8,269.74 L308.3,269.79 L308.8,269.83 L309.3,269.85 L309.8,269.86 L310.3,269.85 L310.8,269.83 L311.3,269.80 L311.8,269.76 L312.3,269.70 L312.8,269.64 L313.3,269.57 L313.8,269.51 L314.3,269.45 L314.8,269.39 L315.3,269.34 L315.8,269.31 L316.3,269.29 L316.8,269.28 L317.3,269.28 L317.8,269.29 L318.3,269.30 L318.8,269.30 L319.3,269.28 L319.8,269.23 L320.3,269.12 L320.8,268.93 L321.3,268.64 L321.8,268.20 L322.3,267.59 L322.8,266.76 L323.3,265.68 L323.8,264.33 L324.3,262.68 L324.8,260.74 L325.3,258.52" stroke="#2a2a2a" stroke-width="1.05" fill="none" opacity="0.92"/>
<path d="M71.3,269.97 L71.8,269.96 L72.3,269.94 L72.8,269.92 L73.3,269.89 L73.8,269.85 L74.3,269.82 L74.8,269.78 L75.3,269.75 L75.8,269.72 L76.3,269.70 L76.8,269.69 L77.3,269.68 L77.8,269.69 L78.3,269.70 L78.8,269.72 L79.3,269.75 L79.8,269.78 L80.3,269.82 L80.8,269.86 L81.3,269.90 L81.8,269.94 L82.3,269.98 L82.8,270.01 L83.3,270.04 L83.8,270.07 L84.3,270.09 L84.8,270.10 L85.3,270.11 L85.8,270.11 L86.3,270.12 L86.8,270.11 L87.3,270.11 L87.8,270.10 L88.3,270.09 L88.8,270.09 L89.3,270.08 L89.8,270.07 L90.3,270.06 L90.8,270.06 L91.3,270.06 L91.8,270.06 L92.3,270.06 L92.8,270.07 L93.3,270.07 L93.8,270.08 L94.3,270.09 L94.8,270.10 L95.3,270.11 L95.8,270.12 L96.3,270.13 L96.8,270.13 L97.3,270.13 L97.8,270.13 L98.3,270.13 L98.8,270.11 L99.3,270.10 L99.8,270.07 L100.3,270.04 L100.8,270.00 L101.3,269.95 L101.8,269.89 L102.3,269.83 L102.8,269.76 L103.3,269.69 L103.8,269.61 L104.3,269.53 L104.8,269.46 L105.3,269.39 L105.8,269.33 L106.3,269.29 L106.8,269.26 L107.3,269.24 L107.8,269.24 L108.3,269.26 L108.8,269.30 L109.3,269.35 L109.8,269.40 L110.3,269.47 L110.8,269.54 L111.3,269.61 L111.8,269.68 L112.3,269.75 L112.8,269.80 L113.3,269.85 L113.8,269.88 L114.3,269.90 L114.8,269.90 L115.3,269.90 L115.8,269.87 L116.3,269.84 L116.8,269.80 L117.3,269.75 L117.8,269.69 L118.3,269.63 L118.8,269.57 L119.3,269.51 L119.8,269.46 L120.3,269.42 L120.8,269.39 L121.3,269.37 L121.8,269.37 L122.3,269.38 L122.8,269.40 L123.3,269.44 L123.8,269.48 L124.3,269.53 L124.8,269.58 L125.3,269.63 L125.8,269.68 L126.3,269.72 L126.8,269.75 L127.3,269.77 L127.8,269.78 L128.3,269.77 L128.8,269.75 L129.3,269.72 L129.8,269.68 L130.3,269.62 L130.8,269.57 L131.3,269.51 L131.8,269.45 L132.3,269.39 L132.8,269.34 L133.3,269.30 L133.8,269.27 L134.3,269.24 L134.8,269.22 L135.3,269.19 L135.8,269.13 L136.3,269.05 L136.8,268.90 L137.3,268.67 L137.8,268.33 L138.3,267.82 L138.8,267.12 L139.3,266.18 L139.8,264.96 L140.3,263.42 L140.8,261.55 L141.3,259.34 L141.8,256.81 L142.3,254.03 L142.8,251.05 L143.3,248.00 L143.8,245.00 L144.3,242.19 L144.8,239.74 L145.3,237.77 L145.8,236.42 L146.3,235.75 L146.8,235.83 L147.3,236.64 L147.8,238.13 L148.3,240.20 L148.8,242.75 L149.3,245.61 L149.8,248.64 L150.3,251.70 L150.8,254.65 L151.3,257.41 L151.8,259.89 L152.3,262.05 L152.8,263.87 L153.3,265.36 L153.8,266.55 L154.3,267.46 L154.8,268.13 L155.3,268.61 L155.8,268.94 L156.3,269.15 L156.8,269.28 L157.3,269.34 L157.8,269.37 L158.3,269.38 L158.8,269.37 L159.3,269.37 L159.8,269.37 L160.3,269.38 L160.8,269.40 L161.3,269.43 L161.8,269.48 L162.3,269.52 L162.8,269.58 L163.3,269.63 L163.8,269.67 L164.3,269.70 L164.8,269.71 L165.3,269.67 L165.8,269.59 L166.3,269.42 L166.8,269.15 L167.3,268.75 L167.8,268.16 L168.3,267.35 L168.8,266.25 L169.3,264.83 L169.8,263.03 L170.3,260.83 L170.8,258.19 L171.3,255.13 L171.8,251.70 L172.3,247.97 L172.8,244.06 L173.3,240.12 L173.8,236.32 L174.3,232.85 L174.8,229.92 L175.3,227.68 L175.8,226.28 L176.3,225.80 L176.8,226.28 L177.3,227.68 L177.8,229.92 L178.3,232.85 L178.8,236.31 L179.3,240.11 L179.8,244.05 L180.3,247.96 L180.8,251.69 L181.3,255.12 L181.8,258.17 L182.3,260.80 L182.8,263.01 L183.3,264.80 L183.8,266.22 L184.3,267.32 L184.8,268.14 L185.3,268.74 L185.8,269.16 L186.3,269.45 L186.8,269.65 L187.3,269.77 L187.8,269.85 L188.3,269.90 L188.8,269.94 L189.3,269.96 L189.8,269.97 L190.3,269.99 L190.8,270.00 L191.3,270.01 L191.8,270.02 L192.3,270.03 L192.8,270.04 L193.3,270.05 L193.8,270.05 L194.3,270.05 L194.8,270.04 L195.3,270.03 L195.8,270.01 L196.3,269.98 L196.8,269.95 L197.3,269.91 L197.8,269.86 L198.3,269.82 L198.8,269.77 L199.3,269.72 L199.8,269.68 L200.3,269.64 L200.8,269.61 L201.3,269.59 L201.8,269.57 L202.3,269.57 L202.8,269.58 L203.3,269.60 L203.8,269.63 L204.3,269.67 L204.8,269.71 L205.3,269.76 L205.8,269.81 L206.3,269.86 L206.8,269.90 L207.3,269.94 L207.8,269.97 L208.3,270.00 L208.8,270.02 L209.3,270.03 L209.8,270.03 L210.3,270.03 L210.8,270.01 L211.3,269.99 L211.8,269.96 L212.3,269.93 L212.8,269.89 L213.3,269.85 L213.8,269.81 L214.3,269.76 L214.8,269.73 L215.3,269.70 L215.8,269.67 L216.3,269.66 L216.8,269.65 L217.3,269.65 L217.8,269.66 L218.3,269.68 L218.8,269.71 L219.3,269.75 L219.8,269.79 L220.3,269.83 L220.8,269.88 L221.3,269.92 L221.8,269.96 L222.3,269.99 L222.8,270.03 L223.3,270.05 L223.8,270.07 L224.3,270.08 L224.8,270.09 L225.3,270.09 L225.8,270.08 L226.3,270.06 L226.8,270.04 L227.3,270.02 L227.8,269.99 L228.3,269.95 L228.8,269.91 L229.3,269.88 L229.8,269.84 L230.3,269.81 L230.8,269.78 L231.3,269.75 L231.8,269.73 L232.3,269.72 L232.8,269.72 L233.3,269.73 L233.8,269.74 L234.3,269.76 L234.8,269.78 L235.3,269.81 L235.8,269.84 L236.3,269.86 L236.8,269.89 L237.3,269.90 L237.8,269.92 L238.3,269.92 L238.8,269.92 L239.3,269.91 L239.8,269.89 L240.3,269.86 L240.8,269.83 L241.3,269.79 L241.8,269.75 L242.3,269.71 L242.8,269.68 L243.3,269.65 L243.8,269.63 L244.3,269.61 L244.8,269.61 L245.3,269.61 L245.8,269.63 L246.3,269.65 L246.8,269.69 L247.3,269.73 L247.8,269.77 L248.3,269.82 L248.8,269.86 L249.3,269.91 L249.8,269.95 L250.3,269.99 L250.8,270.03 L251.3,270.06 L251.8,270.08 L252.3,270.10 L252.8,270.11 L253.3,270.11 L253.8,270.11 L254.3,270.11 L254.8,270.10 L255.3,270.08 L255.8,270.07 L256.3,270.05 L256.8,270.03 L257.3,270.00 L257.8,269.98 L258.3,269.96 L258.8,269.95 L259.3,269.93 L259.8,269.92 L260.3,269.92 L260.8,269.92 L261.3,269.92 L261.8,269.93 L262.3,269.94 L262.8,269.96 L263.3,269.98 L263.8,270.00 L264.3,270.02 L264.8,270.03 L265.3,270.05 L265.8,270.06 L266.3,270.07 L266.8,270.07 L267.3,270.07 L267.8,270.06 L268.3,270.04 L268.8,270.02 L269.3,270.00 L269.8,269.97 L270.3,269.94 L270.8,269.91 L271.3,269.88 L271.8,269.84 L272.3,269.82 L272.8,269.79 L273.3,269.77 L273.8,269.76 L274.3,269.76 L274.8,269.76 L275.3,269.77 L275.8,269.79 L276.3,269.82 L276.8,269.84 L277.3,269.88 L277.8,269.91 L278.3,269.94 L278.8,269.96 L279.3,269.99 L279.8,270.01 L280.3,270.02 L280.8,270.02 L281.3,270.01 L281.8,270.00 L282.3,269.97 L282.8,269.94 L283.3,269.90 L283.8,269.85 L284.3,269.80 L284.8,269.74 L285.3,269.68 L285.8,269.62 L286.3,269.56 L286.8,269.51 L287.3,269.47 L287.8,269.44 L288.3,269.42 L288.8,269.42 L289.3,269.42 L289.8,269.44 L290.3,269.47 L290.8,269.51 L291.3,269.55 L291.8,269.58 L292.3,269.59 L292.8,269.58 L293.3,269.53 L293.8,269.42 L294.3,269.23 L294.8,268.94 L295.3,268.50 L295.8,267.89 L296.3,267.06 L296.8,265.98 L297.3,264.62 L297.8,262.95 L298.3,260.96 L298.8,258.68 L299.3,256.12 L299.8,253.36 L300.3,250.48 L300.8,247.61 L301.3,244.86 L301.8,242.40 L302.3,240.34 L302.8,238.82 L303.3,237.92 L303.8,237.71 L304.3,238.20 L304.8,239.36 L305.3,241.11 L305.8,243.34 L306.3,245.94 L306.8,248.75 L307.3,251.64 L307.8,254.48 L308.3,257.17 L308.8,259.63 L309.3,261.81 L309.8,263.67 L310.3,265.22 L310.8,266.47 L311.3,267.45 L311.8,268.20 L312.3,268.76 L312.8,269.15 L313.3,269.42 L313.8,269.59 L314.3,269.70 L314.8,269.76 L315.3,269.78 L315.8,269.78 L316.3,269.77 L316.8,269.76 L317.3,269.74 L317.8,269.73 L318.3,269.73 L318.8,269.73 L319.3,269.73 L319.8,269.74 L320.3,269.76 L320.8,269.78 L321.3,269.80 L321.8,269.82 L322.3,269.84 L322.8,269.85 L323.3,269.85 L323.8,269.84 L324.3,269.82 L324.8,269.79 L325.3,269.74" stroke="#2e9e5e" stroke-width="1.05" fill="none" opacity="0.92"/>
<path d="M71.3,270.08 L71.8,270.05 L72.3,270.01 L72.8,269.96 L73.3,269.90 L73.8,269.83 L74.3,269.76 L74.8,269.68 L75.3,269.60 L75.8,269.52 L76.3,269.44 L76.8,269.37 L77.3,269.31 L77.8,269.26 L78.3,269.22 L78.8,269.20 L79.3,269.20 L79.8,269.21 L80.3,269.24 L80.8,269.29 L81.3,269.35 L81.8,269.42 L82.3,269.49 L82.8,269.57 L83.3,269.65 L83.8,269.73 L84.3,269.80 L84.8,269.86 L85.3,269.92 L85.8,269.96 L86.3,270.00 L86.8,270.02 L87.3,270.04 L87.8,270.05 L88.3,270.06 L88.8,270.05 L89.3,270.05 L89.8,270.04 L90.3,270.03 L90.8,270.02 L91.3,270.02 L91.8,270.01 L92.3,270.01 L92.8,270.00 L93.3,270.01 L93.8,270.01 L94.3,270.01 L94.8,270.02 L95.3,270.03 L95.8,270.03 L96.3,270.04 L96.8,270.04 L97.3,270.03 L97.8,270.02 L98.3,270.00 L98.8,269.97 L99.3,269.93 L99.8,269.89 L100.3,269.83 L100.8,269.76 L101.3,269.69 L101.8,269.61 L102.3,269.53 L102.8,269.45 L103.3,269.37 L103.8,269.30 L104.3,269.24 L104.8,269.19 L105.3,269.16 L105.8,269.15 L106.3,269.15 L106.8,269.16 L107.3,269.18 L107.8,269.20 L108.3,269.21 L108.8,269.19 L109.3,269.13 L109.8,269.00 L110.3,268.77 L110.8,268.40 L111.3,267.86 L111.8,267.09 L112.3,266.04 L112.8,264.67 L113.3,262.93 L113.8,260.79 L114.3,258.25 L114.8,255.31 L115.3,252.02 L115.8,248.47 L116.3,244.77 L116.8,241.06 L117.3,237.53 L117.8,234.35 L118.3,231.70 L118.8,229.74 L119.3,228.59 L119.8,228.32 L120.3,228.95 L120.8,230.44 L121.3,232.69 L121.8,235.57 L122.3,238.92 L122.8,242.55 L123.3,246.28 L123.8,249.94 L124.3,253.41 L124.8,256.58 L125.3,259.38 L125.8,261.79 L126.3,263.79 L126.8,265.40 L127.3,266.67 L127.8,267.63 L128.3,268.34 L128.8,268.84 L129.3,269.18 L129.8,269.40 L130.3,269.51 L130.8,269.57 L131.3,269.57 L131.8,269.54 L132.3,269.49 L132.8,269.43 L133.3,269.38 L133.8,269.32 L134.3,269.27 L134.8,269.23 L135.3,269.21 L135.8,269.20 L136.3,269.20 L136.8,269.21 L137.3,269.23 L137.8,269.26 L138.3,269.29 L138.8,269.32 L139.3,269.34 L139.8,269.35 L140.3,269.35 L140.8,269.35 L141.3,269.33 L141.8,269.30 L142.3,269.27 L142.8,269.24 L143.3,269.20 L143.8,269.17 L144.3,269.15 L144.8,269.14 L145.3,269.14 L145.8,269.16 L146.3,269.19 L146.8,269.24 L147.3,269.30 L147.8,269.37 L148.3,269.45 L148.8,269.53 L149.3,269.61 L149.8,269.69 L150.3,269.76 L150.8,269.83 L151.3,269.88 L151.8,269.93 L152.3,269.96 L152.8,269.98 L153.3,269.99 L153.8,269.98 L154.3,269.96 L154.8,269.93 L155.3,269.89 L155.8,269.84 L156.3,269.78 L156.8,269.72 L157.3,269.65 L157.8,269.59 L158.3,269.52 L158.8,269.46 L159.3,269.41 L159.8,269.38 L160.3,269.35 L160.8,269.34 L161.3,269.34 L161.8,269.36 L162.3,269.39 L162.8,269.44 L163.3,269.49 L163.8,269.55 L164.3,269.61 L164.8,269.67 L165.3,269.72 L165.8,269.77 L166.3,269.81 L166.8,269.84 L167.3,269.85 L167.8,269.85 L168.3,269.83 L168.8,269.79 L169.3,269.74 L169.8,269.68 L170.3,269.61 L170.8,269.53 L171.3,269.44 L171.8,269.35 L172.3,269.27 L172.8,269.19 L173.3,269.13 L173.8,269.08 L174.3,269.04 L174.8,269.03 L175.3,269.04 L175.8,269.06 L176.3,269.10 L176.8,269.15 L177.3,269.20 L177.8,269.24 L178.3,269.27 L178.8,269.26 L179.3,269.20 L179.8,269.06 L180.3,268.82 L180.8,268.44 L181.3,267.90 L181.8,267.14 L182.3,266.14 L182.8,264.85 L183.3,263.26 L183.8,261.35 L184.3,259.13 L184.8,256.63 L185.3,253.91 L185.8,251.05 L186.3,248.17 L186.8,245.39 L187.3,242.86 L187.8,240.71 L188.3,239.07 L188.8,238.05 L189.3,237.70 L189.8,238.05 L190.3,239.07 L190.8,240.71 L191.3,242.86 L191.8,245.39 L192.3,248.17 L192.8,251.06 L193.3,253.91 L193.8,256.64 L194.3,259.14 L194.8,261.37 L195.3,263.28 L195.8,264.88 L196.3,266.17 L196.8,267.19 L197.3,267.96 L197.8,268.52 L198.3,268.92 L198.8,269.18 L199.3,269.34 L199.8,269.42 L200.3,269.45 L200.8,269.45 L201.3,269.43 L201.8,269.40 L202.3,269.37 L202.8,269.35 L203.3,269.33 L203.8,269.33 L204.3,269.34 L204.8,269.36 L205.3,269.40 L205.8,269.45 L206.3,269.50 L206.8,269.56 L207.3,269.62 L207.8,269.68 L208.3,269.73 L208.8,269.78 L209.3,269.81 L209.8,269.84 L210.3,269.85 L210.8,269.85 L211.3,269.83 L211.8,269.81 L212.3,269.77 L212.8,269.73 L213.3,269.68 L213.8,269.63 L214.3,269.59 L214.8,269.54 L215.3,269.51 L215.8,269.48 L216.3,269.46 L216.8,269.46 L217.3,269.46 L217.8,269.48 L218.3,269.51 L218.8,269.55 L219.3,269.59 L219.8,269.63 L220.3,269.67 L220.8,269.69 L221.3,269.68 L221.8,269.64 L222.3,269.54 L222.8,269.38 L223.3,269.11 L223.8,268.73 L224.3,268.19 L224.8,267.46 L225.3,266.51 L225.8,265.31 L226.3,263.85 L226.8,262.11 L227.3,260.10 L227.8,257.85 L228.3,255.43 L228.8,252.91 L229.3,250.39 L229.8,247.98 L230.3,245.82 L230.8,244.02 L231.3,242.68 L231.8,241.90 L232.3,241.71 L232.8,242.14 L233.3,243.15 L233.8,244.69 L234.3,246.65 L234.8,248.92 L235.3,251.39 L235.8,253.92 L236.3,256.41 L236.8,258.77 L237.3,260.92 L237.8,262.81 L238.3,264.44 L238.8,265.79 L239.3,266.88 L239.8,267.72 L240.3,268.36 L240.8,268.83 L241.3,269.15 L241.8,269.36 L242.3,269.49 L242.8,269.56 L243.3,269.58 L243.8,269.58 L244.3,269.56 L244.8,269.54 L245.3,269.52 L245.8,269.50 L246.3,269.49 L246.8,269.49 L247.3,269.50 L247.8,269.52 L248.3,269.56 L248.8,269.60 L249.3,269.64 L249.8,269.70 L250.3,269.75 L250.8,269.80 L251.3,269.85 L251.8,269.89 L252.3,269.92 L252.8,269.94 L253.3,269.95 L253.8,269.95 L254.3,269.94 L254.8,269.92 L255.3,269.88 L255.8,269.84 L256.3,269.78 L256.8,269.72 L257.3,269.66 L257.8,269.59 L258.3,269.53 L258.8,269.47 L259.3,269.41 L259.8,269.37 L260.3,269.34 L260.8,269.33 L261.3,269.33 L261.8,269.34 L262.3,269.37 L262.8,269.42 L263.3,269.47 L263.8,269.53 L264.3,269.60 L264.8,269.66 L265.3,269.73 L265.8,269.79 L266.3,269.85 L266.8,269.90 L267.3,269.94 L267.8,269.97 L268.3,269.99 L268.8,270.00 L269.3,270.01 L269.8,270.00 L270.3,269.99 L270.8,269.97 L271.3,269.95 L271.8,269.93 L272.3,269.91 L272.8,269.89 L273.3,269.87 L273.8,269.86 L274.3,269.85 L274.8,269.84 L275.3,269.85 L275.8,269.85 L276.3,269.87 L276.8,269.89 L277.3,269.91 L277.8,269.93 L278.3,269.95 L278.8,269.98 L279.3,270.00 L279.8,270.01 L280.3,270.02 L280.8,270.03 L281.3,270.02 L281.8,270.01 L282.3,269.99 L282.8,269.96 L283.3,269.92 L283.8,269.87 L284.3,269.82 L284.8,269.76 L285.3,269.70 L285.8,269.63 L286.3,269.57 L286.8,269.51 L287.3,269.46 L287.8,269.42 L288.3,269.40 L288.8,269.38 L289.3,269.38 L289.8,269.39 L290.3,269.42 L290.8,269.46 L291.3,269.51 L291.8,269.57 L292.3,269.63 L292.8,269.69 L293.3,269.75 L293.8,269.81 L294.3,269.86 L294.8,269.91 L295.3,269.95 L295.8,269.97 L296.3,269.99 L296.8,270.01 L297.3,270.01 L297.8,270.01 L298.3,270.00 L298.8,269.99 L299.3,269.98 L299.8,269.96 L300.3,269.95 L300.8,269.94 L301.3,269.93 L301.8,269.93 L302.3,269.93 L302.8,269.93 L303.3,269.94 L303.8,269.95 L304.3,269.96 L304.8,269.97 L305.3,269.98 L305.8,269.99 L306.3,270.00 L306.8,270.00 L307.3,270.00 L307.8,269.99 L308.3,269.97 L308.8,269.95 L309.3,269.91 L309.8,269.87 L310.3,269.82 L310.8,269.77 L311.3,269.71 L311.8,269.65 L312.3,269.60 L312.8,269.54 L313.3,269.50 L313.8,269.46 L314.3,269.44 L314.8,269.43 L315.3,269.43 L315.8,269.45 L316.3,269.47 L316.8,269.51 L317.3,269.56 L317.8,269.62 L318.3,269.68 L318.8,269.74 L319.3,269.79 L319.8,269.85 L320.3,269.90 L320.8,269.94 L321.3,269.98 L321.8,270.00 L322.3,270.02 L322.8,270.02 L323.3,270.02 L323.8,270.00 L324.3,269.98 L324.8,269.95 L325.3,269.91" stroke="#3b3bf5" stroke-width="1.05" fill="none" opacity="0.92"/>
<path d="M71.3,259.24 L71.8,258.28 L72.3,256.62 L72.8,254.30 L73.3,251.42 L73.8,248.08 L74.3,244.42 L74.8,240.63 L75.3,236.89 L75.8,233.41 L76.3,230.39 L76.8,228.03 L77.3,226.46 L77.8,225.80 L78.3,226.09 L78.8,227.31 L79.3,229.38 L79.8,232.17 L80.3,235.50 L80.8,239.19 L81.3,243.04 L81.8,246.83 L82.3,250.41 L82.8,253.61 L83.3,256.32 L83.8,258.46 L84.3,259.97 L84.8,260.80 L85.3,260.95 L85.8,260.43 L86.3,259.25 L86.8,257.45 L87.3,255.10 L87.8,252.29 L88.3,249.12 L88.8,245.74 L89.3,242.31 L89.8,239.00 L90.3,236.01 L90.8,233.51 L91.3,231.65 L91.8,230.56 L92.3,230.30 L92.8,230.90 L93.3,232.30 L93.8,234.43 L94.3,237.14 L94.8,240.26 L95.3,243.62 L95.8,247.03 L96.3,250.30 L96.8,253.29 L97.3,255.86 L97.8,257.91 L98.3,259.36 L98.8,260.16 L99.3,260.27 L99.8,259.69 L100.3,258.43 L100.8,256.53 L101.3,254.05 L101.8,251.06 L102.3,247.70 L102.8,244.11 L103.3,240.47 L103.8,236.95 L104.3,233.77 L104.8,231.11 L105.3,229.14 L105.8,227.98 L106.3,227.71 L106.8,228.35 L107.3,229.86 L107.8,232.14 L108.3,235.06 L108.8,238.45 L109.3,242.12 L109.8,245.89 L110.3,249.59 L110.8,253.09 L111.3,256.29 L111.8,259.11 L112.3,261.52 L112.8,263.53 L113.3,265.15 L113.8,266.41 L114.3,267.38 L114.8,268.09 L115.3,268.60 L115.8,268.96 L116.3,269.20 L116.8,269.36 L117.3,269.47 L117.8,269.55 L118.3,269.60 L118.8,269.64 L119.3,269.68 L119.8,269.72 L120.3,269.76 L120.8,269.79 L121.3,269.82 L121.8,269.85 L122.3,269.86 L122.8,269.85 L123.3,269.80 L123.8,269.72 L124.3,269.57 L124.8,269.33 L125.3,268.99 L125.8,268.50 L126.3,267.84 L126.8,266.97 L127.3,265.86 L127.8,264.48 L128.3,262.81 L128.8,260.85 L129.3,258.62 L129.8,256.16 L130.3,253.55 L130.8,250.87 L131.3,248.24 L131.8,245.78 L132.3,243.64 L132.8,241.92 L133.3,240.73 L133.8,240.15 L134.3,240.22 L134.8,240.92 L135.3,242.22 L135.8,244.03 L136.3,246.25 L136.8,248.75 L137.3,251.40 L137.8,254.07 L138.3,256.66 L138.8,259.07 L139.3,261.24 L139.8,263.15 L140.3,264.76 L140.8,266.08 L141.3,267.14 L141.8,267.97 L142.3,268.60 L142.8,269.06 L143.3,269.40 L143.8,269.63 L144.3,269.79 L144.8,269.90 L145.3,269.97 L145.8,270.01 L146.3,270.04 L146.8,270.06 L147.3,270.08 L147.8,270.09 L148.3,270.09 L148.8,270.09 L149.3,270.09 L149.8,270.09 L150.3,270.08 L150.8,270.07 L151.3,270.05 L151.8,270.02 L152.3,269.98 L152.8,269.93 L153.3,269.87 L153.8,269.80 L154.3,269.72 L154.8,269.63 L155.3,269.54 L155.8,269.45 L156.3,269.35 L156.8,269.26 L157.3,269.18 L157.8,269.11 L158.3,269.05 L158.8,269.02 L159.3,269.00 L159.8,269.01 L160.3,269.04 L160.8,269.08 L161.3,269.15 L161.8,269.22 L162.3,269.31 L162.8,269.40 L163.3,269.50 L163.8,269.59 L164.3,269.68 L164.8,269.77 L165.3,269.84 L165.8,269.90 L166.3,269.95 L166.8,269.99 L167.3,270.02 L167.8,270.04 L168.3,270.05 L168.8,270.05 L169.3,270.04 L169.8,270.03 L170.3,270.01 L170.8,269.98 L171.3,269.96 L171.8,269.93 L172.3,269.91 L172.8,269.88 L173.3,269.86 L173.8,269.85 L174.3,269.84 L174.8,269.84 L175.3,269.84 L175.8,269.85 L176.3,269.86 L176.8,269.88 L177.3,269.90 L177.8,269.93 L178.3,269.95 L178.8,269.97 L179.3,269.99 L179.8,270.00 L180.3,270.01 L180.8,270.01 L181.3,270.00 L181.8,269.98 L182.3,269.96 L182.8,269.93 L183.3,269.89 L183.8,269.84 L184.3,269.79 L184.8,269.74 L185.3,269.68 L185.8,269.63 L186.3,269.58 L186.8,269.54 L187.3,269.51 L187.8,269.49 L188.3,269.48 L188.8,269.48 L189.3,269.50 L189.8,269.52 L190.3,269.55 L190.8,269.59 L191.3,269.62 L191.8,269.63 L192.3,269.63 L192.8,269.60 L193.3,269.52 L193.8,269.37 L194.3,269.13 L194.8,268.77 L195.3,268.26 L195.8,267.56 L196.3,266.65 L196.8,265.50 L197.3,264.07 L197.8,262.36 L198.3,260.38 L198.8,258.15 L199.3,255.72 L199.8,253.18 L200.3,250.61 L200.8,248.14 L201.3,245.89 L201.8,243.98 L202.3,242.52 L202.8,241.61 L203.3,241.30 L203.8,241.61 L204.3,242.52 L204.8,243.97 L205.3,245.88 L205.8,248.13 L206.3,250.60 L206.8,253.16 L207.3,255.70 L207.8,258.12 L208.3,260.34 L208.8,262.31 L209.3,264.01 L209.8,265.42 L210.3,266.57 L210.8,267.47 L211.3,268.15 L211.8,268.65 L212.3,269.00 L212.8,269.24 L213.3,269.40 L213.8,269.50 L214.3,269.55 L214.8,269.58 L215.3,269.60 L215.8,269.61 L216.3,269.62 L216.8,269.63 L217.3,269.65 L217.8,269.68 L218.3,269.71 L218.8,269.75 L219.3,269.79 L219.8,269.84 L220.3,269.88 L220.8,269.92 L221.3,269.96 L221.8,269.98 L222.3,270.01 L222.8,270.02 L223.3,270.02 L223.8,270.02 L224.3,270.00 L224.8,269.97 L225.3,269.94 L225.8,269.89 L226.3,269.83 L226.8,269.76 L227.3,269.69 L227.8,269.61 L228.3,269.53 L228.8,269.45 L229.3,269.38 L229.8,269.31 L230.3,269.26 L230.8,269.22 L231.3,269.20 L231.8,269.20 L232.3,269.21 L232.8,269.24 L233.3,269.28 L233.8,269.34 L234.3,269.41 L234.8,269.48 L235.3,269.55 L235.8,269.63 L236.3,269.69 L236.8,269.76 L237.3,269.81 L237.8,269.85 L238.3,269.88 L238.8,269.90 L239.3,269.91 L239.8,269.91 L240.3,269.90 L240.8,269.89 L241.3,269.87 L241.8,269.85 L242.3,269.84 L242.8,269.82 L243.3,269.81 L243.8,269.80 L244.3,269.79 L244.8,269.80 L245.3,269.81 L245.8,269.83 L246.3,269.85 L246.8,269.87 L247.3,269.90 L247.8,269.93 L248.3,269.96 L248.8,269.98 L249.3,269.99 L249.8,269.99 L250.3,269.97 L250.8,269.92 L251.3,269.83 L251.8,269.68 L252.3,269.46 L252.8,269.13 L253.3,268.68 L253.8,268.06 L254.3,267.25 L254.8,266.20 L255.3,264.89 L255.8,263.31 L256.3,261.44 L256.8,259.31 L257.3,256.94 L257.8,254.40 L258.3,251.78 L258.8,249.18 L259.3,246.73 L259.8,244.56 L260.3,242.78 L260.8,241.50 L261.3,240.81 L261.8,240.75 L262.3,241.32 L262.8,242.48 L263.3,244.16 L263.8,246.26 L264.3,248.66 L264.8,251.24 L265.3,253.85 L265.8,256.40 L266.3,258.80 L266.8,260.96 L267.3,262.86 L267.8,264.46 L268.3,265.78 L268.8,266.83 L269.3,267.63 L269.8,268.22 L270.3,268.64 L270.8,268.91 L271.3,269.07 L271.8,269.16 L272.3,269.18 L272.8,269.17 L273.3,269.14 L273.8,269.10 L274.3,269.07 L274.8,269.04 L275.3,269.03 L275.8,269.03 L276.3,269.06 L276.8,269.10 L277.3,269.15 L277.8,269.21 L278.3,269.28 L278.8,269.34 L279.3,269.38 L279.8,269.40 L280.3,269.38 L280.8,269.30 L281.3,269.14 L281.8,268.88 L282.3,268.48 L282.8,267.92 L283.3,267.18 L283.8,266.21 L284.3,265.01 L284.8,263.55 L285.3,261.85 L285.8,259.92 L286.3,257.81 L286.8,255.57 L287.3,253.30 L287.8,251.08 L288.3,249.04 L288.8,247.28 L289.3,245.90 L289.8,244.99 L290.3,244.61 L290.8,244.77 L291.3,245.48 L291.8,246.68 L292.3,248.30 L292.8,250.24 L293.3,252.40 L293.8,254.66 L294.3,256.92 L294.8,259.09 L295.3,261.09 L295.8,262.89 L296.3,264.44 L296.8,265.75 L297.3,266.81 L297.8,267.64 L298.3,268.28 L298.8,268.75 L299.3,269.09 L299.8,269.32 L300.3,269.46 L300.8,269.55 L301.3,269.59 L301.8,269.61 L302.3,269.61 L302.8,269.61 L303.3,269.60 L303.8,269.59 L304.3,269.59 L304.8,269.57 L305.3,269.55 L305.8,269.50 L306.3,269.42 L306.8,269.29 L307.3,269.07 L307.8,268.75 L308.3,268.28 L308.8,267.62 L309.3,266.74 L309.8,265.59 L310.3,264.14 L310.8,262.36 L311.3,260.24 L311.8,257.79 L312.3,255.05 L312.8,252.09 L313.3,249.01 L313.8,245.93 L314.3,242.99 L314.8,240.34 L315.3,238.13 L315.8,236.50 L316.3,235.54 L316.8,235.31 L317.3,235.84 L317.8,237.08 L318.3,238.96 L318.8,241.36 L319.3,244.14 L319.8,247.16 L320.3,250.27 L320.8,253.32 L321.3,256.21 L321.8,258.85 L322.3,261.18 L322.8,263.18 L323.3,264.85 L323.8,266.19 L324.3,267.25 L324.8,268.05 L325.3,268.65" stroke="#f23b3b" stroke-width="1.05" fill="none" opacity="0.92"/>
</g>
<rect x="72.50" y="269.40" width="251.60" height="2.40" fill="url(#baseGrad)" stroke="none" stroke-width="0"/>
<rect x="72.00" y="192.50" width="252.60" height="79.80" fill="none" stroke="#1a1a1a" stroke-width="1.4"/>
<text x="81.30" y="199.90" font-size="6.9" text-anchor="middle" font-weight="bold" fill="#ff1a1a">T</text>
<text x="94.00" y="199.90" font-size="6.9" text-anchor="middle" font-weight="bold" fill="#ff1a1a">T</text>
<text x="107.00" y="199.90" font-size="6.9" text-anchor="middle" font-weight="bold" fill="#ff1a1a">T</text>
<text x="121.00" y="199.90" font-size="6.9" text-anchor="middle" font-weight="bold" fill="#2f8fdf">C</text>
<text x="135.00" y="199.90" font-size="6.9" text-anchor="middle" font-weight="bold" fill="#ff1a1a">T</text>
<text x="148.50" y="199.90" font-size="6.9" text-anchor="middle" font-weight="bold" fill="#22b04b">A</text>
<text x="162.40" y="199.90" font-size="6.9" text-anchor="middle" font-weight="bold" fill="#333">G</text>
<text x="177.00" y="199.90" font-size="6.9" text-anchor="middle" font-weight="bold" fill="#22b04b">A</text>
<text x="190.00" y="199.90" font-size="6.9" text-anchor="middle" font-weight="bold" fill="#2f8fdf">C</text>
<text x="204.00" y="199.90" font-size="6.9" text-anchor="middle" font-weight="bold" fill="#ff1a1a">T</text>
<text x="217.90" y="199.90" font-size="6.9" text-anchor="middle" font-weight="bold" fill="#333">G</text>
<text x="232.20" y="199.90" font-size="6.9" text-anchor="middle" font-weight="bold" fill="#2f8fdf">C</text>
<text x="246.30" y="199.90" font-size="6.9" text-anchor="middle" font-weight="bold" fill="#333">G</text>
<text x="261.00" y="199.90" font-size="6.9" text-anchor="middle" font-weight="bold" fill="#ff1a1a">T</text>
<text x="274.10" y="199.90" font-size="6.9" text-anchor="middle" font-weight="bold" fill="#333">G</text>
<text x="288.00" y="199.90" font-size="6.9" text-anchor="middle" font-weight="bold" fill="#ff1a1a">T</text>
<text x="301.80" y="199.90" font-size="6.9" text-anchor="middle" font-weight="bold" fill="#22b04b">A</text>
<text x="315.30" y="199.90" font-size="6.9" text-anchor="middle" font-weight="bold" fill="#ff1a1a">T</text>
<line x1="76.90" y1="27.40" x2="110.30" y2="27.40" stroke="#333" stroke-width="1.0"/>
<text x="93.60" y="36.40" font-size="7.6" text-anchor="middle" font-weight="bold" fill="#2b2b2b">Phe</text>
<line x1="119.00" y1="27.40" x2="152.50" y2="27.40" stroke="#333" stroke-width="1.0"/>
<text x="135.75" y="36.40" font-size="7.6" text-anchor="middle" font-weight="bold" fill="#2b2b2b">Leu</text>
<line x1="160.80" y1="27.40" x2="194.20" y2="27.40" stroke="#333" stroke-width="1.0"/>
<text x="177.50" y="36.40" font-size="7.6" text-anchor="middle" font-weight="bold" fill="#2b2b2b">Asp</text>
<line x1="202.00" y1="27.40" x2="235.80" y2="27.40" stroke="#333" stroke-width="1.0"/>
<text x="218.90" y="36.40" font-size="7.6" text-anchor="middle" font-weight="bold" fill="#2b2b2b">Arg</text>
<line x1="243.70" y1="27.40" x2="277.50" y2="27.40" stroke="#333" stroke-width="1.0"/>
<text x="260.60" y="36.40" font-size="7.6" text-anchor="middle" font-weight="bold" fill="#2b2b2b">Val</text>
<line x1="285.90" y1="27.40" x2="319.30" y2="27.40" stroke="#333" stroke-width="1.0"/>
<text x="302.60" y="36.40" font-size="7.6" text-anchor="middle" font-weight="bold" fill="#2b2b2b">Tyr</text>
<line x1="76.90" y1="210.40" x2="110.30" y2="210.40" stroke="#333" stroke-width="1.0"/>
<text x="93.60" y="219.40" font-size="7.6" text-anchor="middle" font-weight="bold" fill="#2b2b2b">Phe</text>
<line x1="119.00" y1="210.40" x2="152.50" y2="210.40" stroke="#333" stroke-width="1.0"/>
<text x="135.75" y="219.40" font-size="7.6" text-anchor="middle" font-weight="bold" fill="#2b2b2b">Leu</text>
<line x1="160.80" y1="210.40" x2="194.20" y2="210.40" stroke="#333" stroke-width="1.0"/>
<text x="177.50" y="219.40" font-size="7.6" text-anchor="middle" font-weight="bold" fill="#2b2b2b">Asp</text>
<line x1="202.00" y1="200.90" x2="235.80" y2="200.90" stroke="#333" stroke-width="1.0"/>
<text x="218.90" y="209.60" font-size="7.6" text-anchor="middle" font-weight="bold" fill="#2b2b2b">Cys</text>
<line x1="243.70" y1="200.90" x2="277.50" y2="200.90" stroke="#333" stroke-width="1.0"/>
<text x="260.60" y="209.60" font-size="7.6" text-anchor="middle" font-weight="bold" fill="#2b2b2b">Val</text>
<line x1="285.90" y1="200.90" x2="319.30" y2="200.90" stroke="#333" stroke-width="1.0"/>
<text x="302.60" y="209.60" font-size="7.6" text-anchor="middle" font-weight="bold" fill="#2b2b2b">Tyr</text>
<rect x="104.60" y="194.20" width="76.50" height="6.80" fill="none" stroke="#2a7fd0" stroke-width="0.9"/>
<text x="144.00" y="208.80" font-size="6.8" text-anchor="middle" font-weight="bold" fill="#2a7fd0" font-style="italic">Xba I</text>
<text x="62.40" y="64.20" font-size="15.2" text-anchor="end" font-weight="normal" fill="#000">WT</text>
<text x="62.50" y="140.70" font-size="15.4" text-anchor="end" font-weight="normal" fill="#000">R2509C</text>
<text x="62.50" y="159.40" font-size="15.4" text-anchor="end" font-weight="normal" fill="#000">Hetero</text>
<text x="62.50" y="229.00" font-size="15.4" text-anchor="end" font-weight="normal" fill="#000">R2509C</text>
<text x="62.50" y="246.70" font-size="15.4" text-anchor="end" font-weight="normal" fill="#000">Homo</text>
<rect x="377.50" y="15.00" width="237.50" height="100.00" fill="url(#photoBg)" stroke="none" stroke-width="0"/>
<rect x="377.50" y="15.00" width="237.50" height="100.00" fill="url(#photoBg2)" stroke="none" stroke-width="0"/>
<g filter="url(#blur2)" opacity="0.30">
<path d="M391.10,62.00 C392.63,60.67 395.85,59.20 398.20,58.70 C400.55,58.20 403.05,58.45 405.20,59.00 C407.35,59.55 409.33,60.53 411.10,62.00 C412.87,63.47 414.42,65.25 415.80,67.80 C417.18,70.35 418.60,74.35 419.40,77.30 C420.20,80.25 420.60,82.75 420.60,85.50 C420.60,88.25 420.38,91.43 419.40,93.80 C418.42,96.17 416.87,98.43 414.70,99.70 C412.53,100.97 408.57,101.40 406.40,101.40 C404.23,101.40 402.97,100.97 401.70,99.70 C400.43,98.43 399.58,95.57 398.80,93.80 C398.02,92.03 397.80,90.68 397.00,89.10 C396.20,87.52 394.40,85.68 394.00,84.30 C393.60,82.92 394.88,81.97 394.60,80.80 C394.32,79.63 393.18,78.67 392.30,77.30 C391.42,75.93 389.85,74.37 389.30,72.60 C388.75,70.83 388.70,68.47 389.00,66.70 C389.30,64.93 389.57,63.33 391.10,62.00 Z" fill="#6a6060"/>
<path d="M421.10,57.20 C421.98,55.63 423.62,52.77 425.30,51.40 C426.98,50.03 428.85,49.30 431.20,49.00 C433.55,48.70 437.05,48.82 439.40,49.60 C441.75,50.38 443.53,51.63 445.30,53.70 C447.07,55.77 448.92,59.05 450.00,62.00 C451.08,64.95 451.70,68.27 451.80,71.40 C451.90,74.53 451.48,78.05 450.60,80.80 C449.72,83.55 448.57,86.13 446.50,87.90 C444.43,89.67 440.75,91.02 438.20,91.40 C435.65,91.78 432.97,91.38 431.20,90.20 C429.43,89.02 428.38,86.45 427.60,84.30 C426.82,82.15 426.78,79.65 426.50,77.30 C426.22,74.95 426.30,71.97 425.90,70.20 C425.50,68.43 424.98,67.68 424.10,66.70 C423.22,65.72 421.28,65.28 420.60,64.30 C419.92,63.32 419.92,61.98 420.00,60.80 C420.08,59.62 420.22,58.77 421.10,57.20 Z" fill="#6a6060"/>
<path d="M451.50,47.40 C452.07,45.75 453.73,42.47 455.50,40.80 C457.27,39.13 459.90,37.73 462.10,37.40 C464.30,37.07 466.72,37.80 468.70,38.80 C470.68,39.80 472.23,41.30 474.00,43.40 C475.77,45.50 477.87,48.53 479.30,51.40 C480.73,54.27 481.82,57.30 482.60,60.60 C483.38,63.90 484.00,67.88 484.00,71.20 C484.00,74.52 483.48,77.95 482.60,80.50 C481.72,83.05 480.47,85.07 478.70,86.50 C476.93,87.93 474.10,89.00 472.00,89.10 C469.90,89.20 468.20,88.08 466.10,87.10 C464.00,86.12 460.95,84.85 459.40,83.20 C457.85,81.55 457.35,80.97 456.80,77.20 C456.25,73.43 456.43,64.47 456.10,60.60 C455.77,56.73 455.47,55.65 454.80,54.00 C454.13,52.35 452.65,51.80 452.10,50.70 C451.55,49.60 450.93,49.05 451.50,47.40 Z" fill="#6a6060"/>
<path d="M480.60,46.10 C481.37,44.78 482.83,43.10 484.60,42.10 C486.37,41.10 488.98,40.32 491.20,40.10 C493.42,39.88 495.90,39.80 497.90,40.80 C499.90,41.80 501.77,43.90 503.20,46.10 C504.63,48.30 505.73,50.70 506.50,54.00 C507.27,57.30 507.70,61.92 507.80,65.90 C507.90,69.88 507.87,74.58 507.10,77.90 C506.33,81.22 505.18,83.82 503.20,85.80 C501.22,87.78 497.85,89.35 495.20,89.80 C492.55,90.25 489.50,89.17 487.30,88.50 C485.10,87.83 483.00,87.57 482.00,85.80 C481.00,84.03 480.97,80.98 481.30,77.90 C481.63,74.82 484.12,70.83 484.00,67.30 C483.88,63.77 481.27,59.58 480.60,56.70 C479.93,53.82 480.00,51.77 480.00,50.00 C480.00,48.23 479.83,47.42 480.60,46.10 Z" fill="#6a6060"/>
<path d="M505.80,51.40 C506.35,49.18 507.80,46.25 509.80,44.70 C511.80,43.15 515.15,42.32 517.80,42.10 C520.45,41.88 523.28,42.30 525.70,43.40 C528.12,44.50 530.53,46.48 532.30,48.70 C534.07,50.92 535.43,53.60 536.30,56.70 C537.17,59.80 537.50,63.77 537.50,67.30 C537.50,70.83 537.17,74.82 536.30,77.90 C535.43,80.98 534.28,84.48 532.30,85.80 C530.32,87.12 526.82,86.23 524.40,85.80 C521.98,85.37 520.02,83.87 517.80,83.20 C515.58,82.53 512.43,82.92 511.10,81.80 C509.77,80.68 509.57,78.48 509.80,76.50 C510.03,74.52 512.50,72.10 512.50,69.90 C512.50,67.70 510.80,65.28 509.80,63.30 C508.80,61.32 507.17,59.98 506.50,58.00 C505.83,56.02 505.25,53.62 505.80,51.40 Z" fill="#6a6060"/>
<path d="M533.50,53.70 C533.95,52.37 534.93,50.70 536.80,49.70 C538.67,48.70 542.27,47.58 544.70,47.70 C547.13,47.82 549.63,48.73 551.40,50.40 C553.17,52.07 554.42,54.72 555.30,57.70 C556.18,60.68 556.58,64.55 556.70,68.30 C556.82,72.05 556.67,76.88 556.00,80.20 C555.33,83.52 554.35,86.22 552.70,88.20 C551.05,90.18 548.53,91.45 546.10,92.10 C543.67,92.75 540.32,92.75 538.10,92.10 C535.88,91.45 534.12,89.73 532.80,88.20 C531.48,86.67 530.08,84.67 530.20,82.90 C530.32,81.13 532.18,79.37 533.50,77.60 C534.82,75.83 537.55,74.73 538.10,72.30 C538.65,69.87 537.47,65.43 536.80,63.00 C536.13,60.57 534.65,59.25 534.10,57.70 C533.55,56.15 533.05,55.03 533.50,53.70 Z" fill="#6a6060"/>
<path d="M558.00,63.00 C558.88,61.67 560.23,60.00 562.00,59.00 C563.77,58.00 566.40,57.12 568.60,57.00 C570.80,56.88 573.32,57.30 575.20,58.30 C577.08,59.30 578.80,60.67 579.90,63.00 C581.00,65.33 581.48,68.55 581.80,72.30 C582.12,76.05 582.23,81.75 581.80,85.50 C581.37,89.25 580.73,92.15 579.20,94.80 C577.67,97.45 575.25,100.18 572.60,101.40 C569.95,102.62 566.18,102.53 563.30,102.10 C560.42,101.67 557.40,100.23 555.30,98.80 C553.20,97.37 550.92,95.27 550.70,93.50 C550.48,91.73 552.57,90.42 554.00,88.20 C555.43,85.98 558.63,82.85 559.30,80.20 C559.97,77.55 558.43,74.50 558.00,72.30 C557.57,70.10 556.70,68.55 556.70,67.00 C556.70,65.45 557.12,64.33 558.00,63.00 Z" fill="#6a6060"/>
<path d="M583.20,64.30 C583.98,62.53 585.22,61.40 587.20,60.30 C589.18,59.20 592.45,57.92 595.10,57.70 C597.75,57.48 601.00,57.90 603.10,59.00 C605.20,60.10 606.50,61.65 607.70,64.30 C608.90,66.95 609.75,70.92 610.30,74.90 C610.85,78.88 611.22,84.00 611.00,88.20 C610.78,92.40 610.10,96.78 609.00,100.10 C607.90,103.42 606.72,106.12 604.40,108.10 C602.08,110.08 598.20,111.57 595.10,112.00 C592.00,112.43 588.33,111.68 585.80,110.70 C583.27,109.72 580.33,107.65 579.90,106.10 C579.47,104.55 581.77,103.28 583.20,101.40 C584.63,99.52 587.83,97.45 588.50,94.80 C589.17,92.15 587.87,88.37 587.20,85.50 C586.53,82.63 585.28,80.03 584.50,77.60 C583.72,75.17 582.72,73.12 582.50,70.90 C582.28,68.68 582.42,66.07 583.20,64.30 Z" fill="#6a6060"/>
</g>
<g filter="url(#blur1)">
<path d="M388.60,59.50 C390.13,58.17 393.35,56.70 395.70,56.20 C398.05,55.70 400.55,55.95 402.70,56.50 C404.85,57.05 406.83,58.03 408.60,59.50 C410.37,60.97 411.92,62.75 413.30,65.30 C414.68,67.85 416.10,71.85 416.90,74.80 C417.70,77.75 418.10,80.25 418.10,83.00 C418.10,85.75 417.88,88.93 416.90,91.30 C415.92,93.67 414.37,95.93 412.20,97.20 C410.03,98.47 406.07,98.90 403.90,98.90 C401.73,98.90 400.47,98.47 399.20,97.20 C397.93,95.93 397.08,93.07 396.30,91.30 C395.52,89.53 395.30,88.18 394.50,86.60 C393.70,85.02 391.90,83.18 391.50,81.80 C391.10,80.42 392.38,79.47 392.10,78.30 C391.82,77.13 390.68,76.17 389.80,74.80 C388.92,73.43 387.35,71.87 386.80,70.10 C386.25,68.33 386.20,65.97 386.50,64.20 C386.80,62.43 387.07,60.83 388.60,59.50 Z" fill="url(#m1)"/>
<path d="M418.60,54.70 C419.48,53.13 421.12,50.27 422.80,48.90 C424.48,47.53 426.35,46.80 428.70,46.50 C431.05,46.20 434.55,46.32 436.90,47.10 C439.25,47.88 441.03,49.13 442.80,51.20 C444.57,53.27 446.42,56.55 447.50,59.50 C448.58,62.45 449.20,65.77 449.30,68.90 C449.40,72.03 448.98,75.55 448.10,78.30 C447.22,81.05 446.07,83.63 444.00,85.40 C441.93,87.17 438.25,88.52 435.70,88.90 C433.15,89.28 430.47,88.88 428.70,87.70 C426.93,86.52 425.88,83.95 425.10,81.80 C424.32,79.65 424.28,77.15 424.00,74.80 C423.72,72.45 423.80,69.47 423.40,67.70 C423.00,65.93 422.48,65.18 421.60,64.20 C420.72,63.22 418.78,62.78 418.10,61.80 C417.42,60.82 417.42,59.48 417.50,58.30 C417.58,57.12 417.72,56.27 418.60,54.70 Z" fill="url(#m2)"/>
<path d="M449.00,44.90 C449.57,43.25 451.23,39.97 453.00,38.30 C454.77,36.63 457.40,35.23 459.60,34.90 C461.80,34.57 464.22,35.30 466.20,36.30 C468.18,37.30 469.73,38.80 471.50,40.90 C473.27,43.00 475.37,46.03 476.80,48.90 C478.23,51.77 479.32,54.80 480.10,58.10 C480.88,61.40 481.50,65.38 481.50,68.70 C481.50,72.02 480.98,75.45 480.10,78.00 C479.22,80.55 477.97,82.57 476.20,84.00 C474.43,85.43 471.60,86.50 469.50,86.60 C467.40,86.70 465.70,85.58 463.60,84.60 C461.50,83.62 458.45,82.35 456.90,80.70 C455.35,79.05 454.85,78.47 454.30,74.70 C453.75,70.93 453.93,61.97 453.60,58.10 C453.27,54.23 452.97,53.15 452.30,51.50 C451.63,49.85 450.15,49.30 449.60,48.20 C449.05,47.10 448.43,46.55 449.00,44.90 Z" fill="url(#mp)"/>
<path d="M478.10,43.60 C478.87,42.28 480.33,40.60 482.10,39.60 C483.87,38.60 486.48,37.82 488.70,37.60 C490.92,37.38 493.40,37.30 495.40,38.30 C497.40,39.30 499.27,41.40 500.70,43.60 C502.13,45.80 503.23,48.20 504.00,51.50 C504.77,54.80 505.20,59.42 505.30,63.40 C505.40,67.38 505.37,72.08 504.60,75.40 C503.83,78.72 502.68,81.32 500.70,83.30 C498.72,85.28 495.35,86.85 492.70,87.30 C490.05,87.75 487.00,86.67 484.80,86.00 C482.60,85.33 480.50,85.07 479.50,83.30 C478.50,81.53 478.47,78.48 478.80,75.40 C479.13,72.32 481.62,68.33 481.50,64.80 C481.38,61.27 478.77,57.08 478.10,54.20 C477.43,51.32 477.50,49.27 477.50,47.50 C477.50,45.73 477.33,44.92 478.10,43.60 Z" fill="url(#mp)"/>
<path d="M503.30,48.90 C503.85,46.68 505.30,43.75 507.30,42.20 C509.30,40.65 512.65,39.82 515.30,39.60 C517.95,39.38 520.78,39.80 523.20,40.90 C525.62,42.00 528.03,43.98 529.80,46.20 C531.57,48.42 532.93,51.10 533.80,54.20 C534.67,57.30 535.00,61.27 535.00,64.80 C535.00,68.33 534.67,72.32 533.80,75.40 C532.93,78.48 531.78,81.98 529.80,83.30 C527.82,84.62 524.32,83.73 521.90,83.30 C519.48,82.87 517.52,81.37 515.30,80.70 C513.08,80.03 509.93,80.42 508.60,79.30 C507.27,78.18 507.07,75.98 507.30,74.00 C507.53,72.02 510.00,69.60 510.00,67.40 C510.00,65.20 508.30,62.78 507.30,60.80 C506.30,58.82 504.67,57.48 504.00,55.50 C503.33,53.52 502.75,51.12 503.30,48.90 Z" fill="url(#mp2)"/>
<path d="M531.00,51.20 C531.45,49.87 532.43,48.20 534.30,47.20 C536.17,46.20 539.77,45.08 542.20,45.20 C544.63,45.32 547.13,46.23 548.90,47.90 C550.67,49.57 551.92,52.22 552.80,55.20 C553.68,58.18 554.08,62.05 554.20,65.80 C554.32,69.55 554.17,74.38 553.50,77.70 C552.83,81.02 551.85,83.72 550.20,85.70 C548.55,87.68 546.03,88.95 543.60,89.60 C541.17,90.25 537.82,90.25 535.60,89.60 C533.38,88.95 531.62,87.23 530.30,85.70 C528.98,84.17 527.58,82.17 527.70,80.40 C527.82,78.63 529.68,76.87 531.00,75.10 C532.32,73.33 535.05,72.23 535.60,69.80 C536.15,67.37 534.97,62.93 534.30,60.50 C533.63,58.07 532.15,56.75 531.60,55.20 C531.05,53.65 530.55,52.53 531.00,51.20 Z" fill="url(#mp3)"/>
<path d="M555.50,60.50 C556.38,59.17 557.73,57.50 559.50,56.50 C561.27,55.50 563.90,54.62 566.10,54.50 C568.30,54.38 570.82,54.80 572.70,55.80 C574.58,56.80 576.30,58.17 577.40,60.50 C578.50,62.83 578.98,66.05 579.30,69.80 C579.62,73.55 579.73,79.25 579.30,83.00 C578.87,86.75 578.23,89.65 576.70,92.30 C575.17,94.95 572.75,97.68 570.10,98.90 C567.45,100.12 563.68,100.03 560.80,99.60 C557.92,99.17 554.90,97.73 552.80,96.30 C550.70,94.87 548.42,92.77 548.20,91.00 C547.98,89.23 550.07,87.92 551.50,85.70 C552.93,83.48 556.13,80.35 556.80,77.70 C557.47,75.05 555.93,72.00 555.50,69.80 C555.07,67.60 554.20,66.05 554.20,64.50 C554.20,62.95 554.62,61.83 555.50,60.50 Z" fill="url(#mp3)"/>
<path d="M580.70,61.80 C581.48,60.03 582.72,58.90 584.70,57.80 C586.68,56.70 589.95,55.42 592.60,55.20 C595.25,54.98 598.50,55.40 600.60,56.50 C602.70,57.60 604.00,59.15 605.20,61.80 C606.40,64.45 607.25,68.42 607.80,72.40 C608.35,76.38 608.72,81.50 608.50,85.70 C608.28,89.90 607.60,94.28 606.50,97.60 C605.40,100.92 604.22,103.62 601.90,105.60 C599.58,107.58 595.70,109.07 592.60,109.50 C589.50,109.93 585.83,109.18 583.30,108.20 C580.77,107.22 577.83,105.15 577.40,103.60 C576.97,102.05 579.27,100.78 580.70,98.90 C582.13,97.02 585.33,94.95 586.00,92.30 C586.67,89.65 585.37,85.87 584.70,83.00 C584.03,80.13 582.78,77.53 582.00,75.10 C581.22,72.67 580.22,70.62 580.00,68.40 C579.78,66.18 579.92,63.57 580.70,61.80 Z" fill="url(#mp3)"/>
</g>
<g filter="url(#blurS)">
<ellipse cx="458.3" cy="43.6" rx="7" ry="5.95" fill="#c24a54" opacity="0.45"/>
<ellipse cx="487.4" cy="43.6" rx="7" ry="5.95" fill="#c24a54" opacity="0.45"/>
<ellipse cx="511.3" cy="47.5" rx="7" ry="5.95" fill="#c24a54" opacity="0.45"/>
<ellipse cx="539.6" cy="51.9" rx="7" ry="5.95" fill="#c24a54" opacity="0.45"/>
<ellipse cx="564.8" cy="60.5" rx="7" ry="5.95" fill="#c24a54" opacity="0.45"/>
<ellipse cx="592.6" cy="61.2" rx="7.5" ry="6.375" fill="#c24a54" opacity="0.45"/>
<ellipse cx="472" cy="72" rx="6" ry="9" fill="#7a2a38" opacity="0.22"/>
<ellipse cx="498" cy="70" rx="5" ry="10" fill="#7a2a38" opacity="0.22"/>
<ellipse cx="528" cy="68" rx="5" ry="9" fill="#7a2a38" opacity="0.22"/>
<ellipse cx="548" cy="74" rx="4" ry="9" fill="#7a2a38" opacity="0.22"/>
<ellipse cx="573" cy="84" rx="4" ry="9" fill="#7a2a38" opacity="0.22"/>
<ellipse cx="602" cy="90" rx="4" ry="11" fill="#7a2a38" opacity="0.22"/>
<ellipse cx="411" cy="85" rx="5" ry="9" fill="#7a2a38" opacity="0.22"/>
<ellipse cx="443" cy="74" rx="5" ry="9" fill="#7a2a38" opacity="0.22"/>
</g>
<g filter="url(#blur1)">
<path d="M453,56.2 C455.5,57.5 457.5,58 459.6,58.1" stroke="#f0aaa8" stroke-width="2.3" fill="none" stroke-linecap="round" opacity="0.85"/>
<path d="M456,76 C459,80 463,83 468.5,84" stroke="#f0aaa8" stroke-width="2.3" fill="none" stroke-linecap="round" opacity="0.85"/>
<path d="M478.1,50.2 C481,52.5 483.5,54 486.1,55.5" stroke="#f0aaa8" stroke-width="2.3" fill="none" stroke-linecap="round" opacity="0.85"/>
<path d="M480.5,82 C484,84.5 488,85.5 492,85.5" stroke="#f0aaa8" stroke-width="2.3" fill="none" stroke-linecap="round" opacity="0.85"/>
<path d="M508.6,59.5 C511,61 513.5,61.8 516.6,62.1" stroke="#f0aaa8" stroke-width="2.3" fill="none" stroke-linecap="round" opacity="0.85"/>
<path d="M507.5,76 C510,78.5 513,80 516.6,80.7" stroke="#f0aaa8" stroke-width="2.3" fill="none" stroke-linecap="round" opacity="0.85"/>
<path d="M525,76 C527,79 529,81.5 531,83" stroke="#f0aaa8" stroke-width="2.3" fill="none" stroke-linecap="round" opacity="0.85"/>
<path d="M528.5,80 C530.5,83 532,85 534,86" stroke="#f0aaa8" stroke-width="2.3" fill="none" stroke-linecap="round" opacity="0.85"/>
<path d="M558.1,73.7 C562,74.8 566,75.3 570.1,75.1" stroke="#f0aaa8" stroke-width="2.3" fill="none" stroke-linecap="round" opacity="0.85"/>
<path d="M549.5,88.5 C551.5,91 553.5,92.5 556,93.6" stroke="#f0aaa8" stroke-width="2.3" fill="none" stroke-linecap="round" opacity="0.85"/>
<path d="M581.3,65.8 C585,70 589,73.5 593.9,75.1 C595.5,75.7 597,76.2 597.9,76.4" stroke="#f0aaa8" stroke-width="2.3" fill="none" stroke-linecap="round" opacity="0.85"/>
<path d="M578.5,98 C581.5,101.5 585.5,104 591,105.6" stroke="#f0aaa8" stroke-width="2.3" fill="none" stroke-linecap="round" opacity="0.85"/>
<path d="M465,82.5 C467,84 469,84.5 470.5,84" stroke="#f8e0e0" stroke-width="1.6" fill="none" stroke-linecap="round"/>
<path d="M454.5,50.5 C456.5,50 458.5,51 459.5,53.5 L458,55 C456.5,54 455.3,53 454.5,52.5 Z M459,59.5 C461,59 463,59.8 464.5,61.5 L465.3,71 C463.5,72 461.2,72 459.8,71.2 Z" fill="#e4e0e0" opacity="0.95"/>
<circle cx="455.5" cy="41.5" r="1.2" fill="#4a2a2e"/>
<circle cx="486.3" cy="41.4" r="1.2" fill="#4a2a2e"/>
<circle cx="508.5" cy="48.6" r="1.2" fill="#4a2a2e"/>
<circle cx="539.5" cy="50.2" r="1.2" fill="#4a2a2e"/>
<circle cx="564.5" cy="58.8" r="1.2" fill="#4a2a2e"/>
<circle cx="592.8" cy="59.8" r="1.2" fill="#4a2a2e"/>
</g>
<text x="399.00" y="51.20" font-size="14" text-anchor="middle" font-weight="normal" fill="#000">1</text>
<text x="431.00" y="40.00" font-size="14" text-anchor="middle" font-weight="normal" fill="#000">2</text>
<text x="464.00" y="30.60" font-size="14" text-anchor="middle" font-weight="normal" fill="#000">3</text>
<text x="490.50" y="29.70" font-size="14" text-anchor="middle" font-weight="normal" fill="#000">4</text>
<text x="521.00" y="35.60" font-size="14" text-anchor="middle" font-weight="normal" fill="#000">5</text>
<text x="547.50" y="42.20" font-size="14" text-anchor="middle" font-weight="normal" fill="#000">6</text>
<text x="573.00" y="48.80" font-size="14" text-anchor="middle" font-weight="normal" fill="#000">7</text>
<text x="598.00" y="48.80" font-size="14" text-anchor="middle" font-weight="normal" fill="#000">8</text>
<rect x="374.30" y="147.40" width="241.90" height="105.00" fill="#2a2d3a" stroke="none" stroke-width="0"/>
<g clip-path="url(#gelclip)"><g filter="url(#blurLane)">
<rect x="403.80" y="147.40" width="16.00" height="105.00" fill="#2f3241" stroke="none" stroke-width="0"/>
<rect x="430.00" y="147.40" width="16.00" height="105.00" fill="#2f3241" stroke="none" stroke-width="0"/>
<rect x="455.00" y="147.40" width="16.00" height="105.00" fill="#2f3241" stroke="none" stroke-width="0"/>
<rect x="480.50" y="147.40" width="16.00" height="105.00" fill="#2f3241" stroke="none" stroke-width="0"/>
<rect x="506.00" y="147.40" width="16.00" height="105.00" fill="#2f3241" stroke="none" stroke-width="0"/>
<rect x="531.00" y="147.40" width="16.00" height="105.00" fill="#2f3241" stroke="none" stroke-width="0"/>
<rect x="556.50" y="147.40" width="16.00" height="105.00" fill="#2f3241" stroke="none" stroke-width="0"/>
<rect x="583.00" y="147.40" width="16.00" height="105.00" fill="#2f3241" stroke="none" stroke-width="0"/>
<rect x="456.00" y="152.00" width="14.00" height="20.00" fill="#353949" stroke="none" stroke-width="0"/>
<rect x="481.50" y="152.00" width="14.00" height="20.00" fill="#353949" stroke="none" stroke-width="0"/>
<rect x="507.00" y="152.00" width="14.00" height="20.00" fill="#353949" stroke="none" stroke-width="0"/>
<rect x="532.00" y="152.00" width="14.00" height="20.00" fill="#353949" stroke="none" stroke-width="0"/>
<rect x="557.50" y="152.00" width="14.00" height="20.00" fill="#353949" stroke="none" stroke-width="0"/>
<rect x="584.00" y="152.00" width="14.00" height="20.00" fill="#353949" stroke="none" stroke-width="0"/>
</g></g>
<g filter="url(#blurBand)">
<rect x="380.00" y="158.30" width="13.40" height="3.40" fill="#6c7284" stroke="none" stroke-width="0"/>
<rect x="380.00" y="167.30" width="13.40" height="3.40" fill="#7a8092" stroke="none" stroke-width="0"/>
<rect x="380.00" y="180.80" width="13.40" height="3.40" fill="#7e8496" stroke="none" stroke-width="0"/>
<rect x="380.00" y="193.80" width="13.40" height="3.40" fill="#767c8e" stroke="none" stroke-width="0"/>
<rect x="380.00" y="203.30" width="13.40" height="3.40" fill="#7e8496" stroke="none" stroke-width="0"/>
<rect x="380.00" y="215.30" width="13.40" height="3.40" fill="#7a8092" stroke="none" stroke-width="0"/>
<rect x="380.00" y="228.30" width="13.40" height="3.40" fill="#6e7486" stroke="none" stroke-width="0"/>
<rect x="380.00" y="240.30" width="13.40" height="3.40" fill="#646a7c" stroke="none" stroke-width="0"/>
</g>
<g filter="url(#blurBand2)">
<rect x="402.30" y="204.30" width="18.90" height="11.00" fill="#a9afbf" stroke="none" stroke-width="0" rx="2"/>
<rect x="428.30" y="203.80" width="19.00" height="12.50" fill="#d8dae6" stroke="none" stroke-width="0" rx="2"/>
<rect x="454.00" y="172.30" width="18.00" height="11.20" fill="#d2d4e0" stroke="none" stroke-width="0" rx="2"/>
<rect x="479.50" y="172.80" width="18.00" height="10.70" fill="#c6cad8" stroke="none" stroke-width="0" rx="2"/>
<rect x="505.50" y="173.50" width="17.00" height="10.00" fill="#acb2c2" stroke="none" stroke-width="0" rx="2"/>
<rect x="530.50" y="174.00" width="17.50" height="9.50" fill="#9ca2b4" stroke="none" stroke-width="0" rx="2"/>
<rect x="555.50" y="173.50" width="18.00" height="10.00" fill="#b2b8c8" stroke="none" stroke-width="0" rx="2"/>
<rect x="582.00" y="173.50" width="18.00" height="10.00" fill="#b0b6c6" stroke="none" stroke-width="0" rx="2"/>
<rect x="505.50" y="204.00" width="17.00" height="13.50" fill="#686e82" stroke="none" stroke-width="0" rx="2"/>
<rect x="555.50" y="204.00" width="18.00" height="13.50" fill="#62687c" stroke="none" stroke-width="0" rx="2"/>
<rect x="582.00" y="204.00" width="18.00" height="13.50" fill="#686e82" stroke="none" stroke-width="0" rx="2"/>
</g>
<text x="385.60" y="141.60" font-size="15" text-anchor="middle" font-weight="normal" fill="#000">M</text>
<text x="413.30" y="141.60" font-size="15" text-anchor="middle" font-weight="normal" fill="#000">1</text>
<text x="438.90" y="141.60" font-size="15" text-anchor="middle" font-weight="normal" fill="#000">2</text>
<text x="464.00" y="141.60" font-size="15" text-anchor="middle" font-weight="normal" fill="#000">3</text>
<text x="489.80" y="141.60" font-size="15" text-anchor="middle" font-weight="normal" fill="#000">4</text>
<text x="515.70" y="141.60" font-size="15" text-anchor="middle" font-weight="normal" fill="#000">5</text>
<text x="541.20" y="141.60" font-size="15" text-anchor="middle" font-weight="normal" fill="#000">6</text>
<text x="565.80" y="141.60" font-size="15" text-anchor="middle" font-weight="normal" fill="#000">7</text>
<text x="592.60" y="141.60" font-size="15" text-anchor="middle" font-weight="normal" fill="#000">8</text>
<text x="621.00" y="182.70" font-size="13.3" text-anchor="start" font-weight="normal" fill="#000">– 688 bp</text>
<text x="621.00" y="208.30" font-size="13.3" text-anchor="start" font-weight="normal" fill="#000">– 366 bp</text>
<text x="621.00" y="220.20" font-size="13.3" text-anchor="start" font-weight="normal" fill="#000">– 326 bp</text>
<line x1="47.90" y1="321.80" x2="47.90" y2="483.60" stroke="#000" stroke-width="1.8"/>
<line x1="47.00" y1="482.70" x2="288.40" y2="482.70" stroke="#000" stroke-width="1.8"/>
<line x1="43.20" y1="322.70" x2="47.90" y2="322.70" stroke="#000" stroke-width="1.8"/>
<text x="41.20" y="327.40" font-size="13" text-anchor="end" font-weight="normal" fill="#000">45</text>
<line x1="43.20" y1="402.70" x2="47.90" y2="402.70" stroke="#000" stroke-width="1.8"/>
<text x="41.20" y="407.40" font-size="13" text-anchor="end" font-weight="normal" fill="#000">40</text>
<line x1="43.20" y1="482.70" x2="47.90" y2="482.70" stroke="#000" stroke-width="1.8"/>
<text x="41.20" y="487.40" font-size="13" text-anchor="end" font-weight="normal" fill="#000">35</text>
<text x="41.00" y="421.50" font-size="13" text-anchor="end" font-weight="normal" fill="#000">39</text>
<line x1="47.90" y1="482.70" x2="47.90" y2="487.00" stroke="#000" stroke-width="1.8"/>
<text x="47.90" y="502.00" font-size="13" text-anchor="middle" font-weight="normal" fill="#000">0</text>
<line x1="147.90" y1="482.70" x2="147.90" y2="487.00" stroke="#000" stroke-width="1.8"/>
<text x="147.90" y="502.00" font-size="13" text-anchor="middle" font-weight="normal" fill="#000">50</text>
<line x1="247.90" y1="482.70" x2="247.90" y2="487.00" stroke="#000" stroke-width="1.8"/>
<text x="247.90" y="502.00" font-size="13" text-anchor="middle" font-weight="normal" fill="#000">100</text>
<text x="168.20" y="519.80" font-size="13" text-anchor="middle" font-weight="normal" fill="#000">Time (min)</text>
<text x="18.30" y="401.90" font-size="13.4" text-anchor="middle" font-weight="normal" fill="#000" transform="rotate(-90 18.3 401.9)">Rectal temperature (°C)</text>
<line x1="50.50" y1="418.70" x2="284.50" y2="418.70" stroke="#000" stroke-width="1.5" stroke-dasharray="1.5 3.4"/>
<path d="M48.00,450.74 L49.33,451.33 L50.67,451.86 L52.00,452.49 L53.33,452.43 L54.67,452.80 L56.00,451.98 L57.37,452.88 L58.73,453.82 L60.10,453.91 L61.47,454.61 L62.83,454.16 L64.20,454.97 L65.51,455.00 L66.82,455.60 L68.13,455.91 L69.44,455.58 L70.76,456.08 L72.07,456.42 L73.38,457.40 L74.69,457.51 L76.00,457.13 L77.25,458.11 L78.50,457.66 L79.75,458.47 L81.00,458.21 L82.25,458.35 L83.50,459.59 L84.75,459.14 L86.00,459.43 L87.25,460.55 L88.50,460.71 L89.78,460.35 L91.06,461.36 L92.33,461.18 L93.61,461.61 L94.89,461.36 L96.17,462.45 L97.44,462.45 L98.72,463.04 L100.00,463.23 L101.27,462.82 L102.54,463.13 L103.81,463.15 L105.08,463.37 L106.35,463.52 L107.62,464.02 L108.89,464.59 L110.16,464.17 L111.43,465.16 L112.70,465.02 L113.93,465.19 L115.16,465.95 L116.39,465.78 L117.62,465.80 L118.85,466.18 L120.08,466.63 L121.31,466.11 L122.54,467.32 L123.77,466.48 L125.00,467.47 L126.20,467.74 L127.40,466.99 L128.60,468.00 L129.80,467.69 L131.00,468.09 L132.20,467.62 L133.40,467.82 L134.60,468.13 L135.80,469.14 L137.00,468.47 L138.30,469.18 L139.60,469.47 L140.90,469.59 L142.20,469.03 L143.50,469.14 L144.80,469.43 L146.10,469.80 L147.40,469.17 L148.70,469.97 L150.00,470.13 L151.24,470.24 L152.49,469.38 L153.73,470.42 L154.98,469.53 L156.22,469.85 L157.47,470.19 L158.71,470.57 L159.96,469.98 L161.20,470.67 L162.45,470.26 L163.71,470.02 L164.96,470.04 L166.21,469.90 L167.47,469.80 L168.72,469.89 L169.97,470.50 L171.23,470.85 L172.48,469.95 L173.73,469.84 L174.99,470.88 L176.24,470.40 L177.49,470.27 L178.75,470.10 L180.00,470.50 L181.25,470.75 L182.50,470.33 L183.75,470.28 L185.00,469.86 L186.25,470.80 L187.50,469.81 L188.75,470.31 L190.00,470.67 L191.25,469.88 L192.50,470.53 L193.75,470.76 L195.00,470.39 L196.25,470.55 L197.50,469.79 L198.75,470.14 L200.00,469.81 L201.25,470.59 L202.50,469.99 L203.75,470.17 L205.00,470.77 L206.25,470.62 L207.50,470.76 L208.75,470.19 L210.00,470.24 L211.25,470.51 L212.50,470.24 L213.75,470.04 L215.00,470.17 L216.25,469.89 L217.50,470.15 L218.75,470.83 L220.00,470.81 L221.25,470.46 L222.50,470.34 L223.75,470.18 L225.00,469.92 L226.25,470.14 L227.50,470.72 L228.75,470.84 L230.00,470.30 L231.25,470.78 L232.50,470.79 L233.75,470.72 L235.00,470.71 L236.25,470.83 L237.50,470.41 L238.75,470.81 L240.00,470.36 L241.25,470.57 L242.50,470.87 L243.75,470.77 L245.00,470.32 L246.25,471.03 L247.50,470.69 L248.75,470.60 L250.00,469.96 L251.25,470.54 L252.50,470.20 L253.75,470.65 L255.00,470.41 L256.25,470.79 L257.50,470.59 L258.75,470.74 L260.00,470.23 L261.23,470.56 L262.45,470.66 L263.68,470.76 L264.91,470.24 L266.14,470.78 L267.36,470.81 L268.59,470.61 L269.82,470.92 L271.05,470.90 L272.27,470.42 L273.50,470.43 L274.73,470.03 L275.95,470.77 L277.18,470.88 L278.41,470.37 L279.64,470.61 L280.86,470.64 L282.09,470.65 L283.32,470.04 L284.55,470.71 L285.77,470.49 L287.00,470.40" stroke="#6e6e6e" stroke-width="2.2" fill="none" stroke-linejoin="round" stroke-linecap="round"/>
<path d="M48.00,457.32 L50.00,456.15 L52.00,458.35 L53.50,457.27 L55.00,457.24 L56.50,456.87 L58.00,456.36 L59.33,457.07 L60.67,456.87 L62.00,457.53 L64.20,456.27 L65.65,456.47 L67.10,456.97 L68.55,457.55 L70.00,457.02 L71.20,457.36 L72.40,458.01 L73.60,458.57 L74.80,458.44 L76.00,458.50 L77.25,459.25 L78.50,458.49 L79.75,459.47 L81.00,459.07 L82.25,459.09 L83.50,459.24 L84.75,459.60 L86.00,460.28 L87.25,459.81 L88.50,460.38 L89.78,460.56 L91.06,460.42 L92.33,460.71 L93.61,460.35 L94.89,460.47 L96.17,460.74 L97.44,461.34 L98.72,461.21 L100.00,461.21 L101.27,461.56 L102.54,461.49 L103.81,461.41 L105.08,461.97 L106.35,461.95 L107.62,461.56 L108.89,461.96 L110.16,461.99 L111.43,462.41 L112.70,462.33 L113.93,461.90 L115.16,462.60 L116.39,461.75 L117.62,462.06 L118.85,462.41 L120.08,461.81 L121.31,462.16 L122.54,461.72 L123.77,462.36 L125.00,462.46 L126.20,462.27 L127.40,462.58 L128.60,462.01 L129.80,462.40 L131.00,462.29 L132.20,462.28 L133.40,462.16 L134.60,462.54 L135.80,462.64 L137.00,462.17 L138.30,462.33 L139.60,461.70 L140.90,462.31 L142.20,462.23 L143.50,462.54 L144.80,462.34 L146.10,461.77 L147.40,461.85 L148.70,462.10 L150.00,461.42 L151.24,461.83 L152.49,461.50 L153.73,461.42 L154.98,461.33 L156.22,462.00 L157.47,461.33 L158.71,461.41 L159.96,461.52 L161.20,461.97 L162.45,461.18 L163.71,461.55 L164.96,461.65 L166.21,461.98 L167.47,461.92 L168.72,461.96 L169.97,461.38 L171.23,461.52 L172.48,461.46 L173.73,461.98 L174.99,462.06 L176.24,461.25 L177.49,461.28 L178.75,461.33 L180.00,461.33 L181.25,461.57 L182.50,461.66 L183.75,461.33 L185.00,461.05 L186.25,461.46 L187.50,461.39 L188.75,461.58 L190.00,461.95 L191.25,461.68 L192.50,461.49 L193.75,461.58 L195.00,461.63 L196.25,460.99 L197.50,461.82 L198.75,461.69 L200.00,461.77 L201.25,461.69 L202.50,461.27 L203.75,461.26 L205.00,460.95 L206.25,461.47 L207.50,460.89 L208.75,460.88 L210.00,461.01 L211.25,460.95 L212.50,461.12 L213.75,460.82 L215.00,460.75 L216.25,460.89 L217.50,460.83 L218.75,461.08 L220.00,460.73 L221.24,461.53 L222.47,461.23 L223.71,460.73 L224.94,460.79 L226.18,460.84 L227.41,460.82 L228.65,460.53 L229.88,461.22 L231.12,461.32 L232.35,460.75 L233.59,460.73 L234.82,460.29 L236.06,460.27 L237.29,460.47 L238.53,460.35 L239.76,460.87 L241.00,460.16 L242.27,459.99 L243.53,460.88 L244.80,460.43 L246.07,460.01 L247.33,460.38 L248.60,459.83 L249.87,460.29 L251.13,460.71 L252.40,460.56 L253.67,460.36 L254.93,459.89 L256.20,459.97 L257.47,459.73 L258.73,460.31 L260.00,460.03 L261.25,460.21 L262.50,459.70 L263.75,459.52 L265.00,460.04 L266.25,460.15 L267.50,459.95 L268.75,459.84 L270.00,459.78 L271.25,459.64 L272.50,459.06 L273.75,459.28 L275.00,459.06 L276.20,458.68 L277.40,458.63 L278.60,458.83 L279.80,458.76 L281.00,459.14 L282.20,459.36 L283.40,458.80 L284.60,459.24 L285.80,459.24 L287.00,458.70" stroke="#000" stroke-width="2.0" fill="none" stroke-linejoin="round" stroke-linecap="round"/>
<path d="M48.00,477.30 C49.33,476.48 53.30,474.02 56.00,472.40 C58.70,470.78 60.87,469.23 64.20,467.60 C67.53,465.97 71.95,464.22 76.00,462.60 C80.05,460.98 84.50,459.40 88.50,457.90 C92.50,456.40 95.97,455.02 100.00,453.60 C104.03,452.18 108.53,450.87 112.70,449.40 C116.87,447.93 120.95,446.42 125.00,444.80 C129.05,443.18 132.83,441.57 137.00,439.70 C141.17,437.83 145.97,435.82 150.00,433.60 C154.03,431.38 157.87,428.63 161.20,426.40 C164.53,424.17 167.50,421.93 170.00,420.20 C172.50,418.47 174.20,417.87 176.20,416.00 C178.20,414.13 180.20,411.70 182.00,409.00 C183.80,406.30 185.50,402.80 187.00,399.80 C188.50,396.80 189.67,394.13 191.00,391.00 C192.33,387.87 193.75,384.50 195.00,381.00 C196.25,377.50 197.58,372.92 198.50,370.00 C199.42,367.08 199.85,365.25 200.50,363.50 C201.15,361.75 201.82,360.08 202.40,359.50 C202.98,358.92 203.42,359.35 204.00,360.00 C204.58,360.65 205.32,362.48 205.90,363.40 C206.48,364.32 207.23,365.15 207.50,365.50" stroke="#ff6a13" stroke-width="2.1" fill="none" stroke-linejoin="round" stroke-linecap="round"/>
<path d="M48.00,451.50 C48.97,451.23 51.35,450.68 53.80,449.90 C56.25,449.12 59.75,447.68 62.70,446.80 C65.65,445.92 68.57,445.22 71.50,444.60 C74.43,443.98 77.35,443.62 80.30,443.10 C83.25,442.58 86.58,441.98 89.20,441.50 C91.82,441.02 94.20,440.57 96.00,440.20 C97.80,439.83 98.67,439.68 100.00,439.30 C101.33,438.92 102.67,438.52 104.00,437.90 C105.33,437.28 106.55,436.52 108.00,435.60 C109.45,434.68 111.12,433.57 112.70,432.40 C114.28,431.23 115.88,429.93 117.50,428.60 C119.12,427.27 120.78,425.78 122.40,424.40 C124.02,423.02 125.58,421.73 127.20,420.30 C128.82,418.87 130.47,417.48 132.10,415.80 C133.73,414.12 135.38,412.28 137.00,410.20 C138.62,408.12 140.20,405.67 141.80,403.30 C143.40,400.93 144.98,398.62 146.60,396.00 C148.22,393.38 149.93,390.43 151.50,387.60 C153.07,384.77 154.67,381.68 156.00,379.00 C157.33,376.32 158.50,373.47 159.50,371.50 C160.50,369.53 161.28,368.12 162.00,367.20 C162.72,366.28 163.13,365.83 163.80,366.00 C164.47,366.17 165.25,367.10 166.00,368.20 C166.75,369.30 167.57,371.07 168.30,372.60 C169.03,374.13 170.05,376.60 170.40,377.40" stroke="#ea1f8c" stroke-width="2.1" fill="none" stroke-linejoin="round" stroke-linecap="round"/>
<path d="M48.00,441.80 C48.10,441.30 48.22,439.43 48.60,438.80 C48.98,438.17 49.72,438.32 50.30,438.00 C50.88,437.68 51.52,437.40 52.10,436.90 C52.68,436.40 52.77,435.85 53.80,435.00 C54.83,434.15 56.82,432.92 58.30,431.80 C59.78,430.68 61.23,429.50 62.70,428.30 C64.17,427.10 65.63,425.92 67.10,424.60 C68.57,423.28 70.03,421.97 71.50,420.40 C72.97,418.83 74.48,417.10 75.90,415.20 C77.32,413.30 78.65,411.20 80.00,409.00 C81.35,406.80 82.67,404.50 84.00,402.00 C85.33,399.50 86.75,396.67 88.00,394.00 C89.25,391.33 90.50,388.50 91.50,386.00 C92.50,383.50 93.20,381.42 94.00,379.00 C94.80,376.58 95.60,373.92 96.30,371.50 C97.00,369.08 97.43,367.82 98.20,364.50 C98.97,361.18 100.13,355.28 100.90,351.60 C101.67,347.92 102.18,344.57 102.80,342.40 C103.42,340.23 103.93,339.02 104.60,338.60 C105.27,338.18 105.98,338.63 106.80,339.90 C107.62,341.17 108.60,343.90 109.50,346.20 C110.40,348.50 111.75,352.45 112.20,353.70" stroke="#ff0000" stroke-width="2.3" fill="none" stroke-linejoin="round" stroke-linecap="round"/>
<text x="113.80" y="370.00" font-size="14" text-anchor="middle" font-weight="bold" fill="#000">†</text>
<text x="172.20" y="395.00" font-size="14" text-anchor="middle" font-weight="bold" fill="#000">†</text>
<text x="211.20" y="382.50" font-size="14" text-anchor="middle" font-weight="bold" fill="#000">†</text>
<text x="140.50" y="331.40" font-size="13" text-anchor="middle" font-weight="normal" fill="#000">R2509C</text>
<text x="251.30" y="451.00" font-size="13" text-anchor="middle" font-weight="normal" fill="#000">WT</text>
<rect x="187.70" y="312.40" width="114.00" height="34.80" fill="url(#mouseBg)" stroke="none" stroke-width="0"/>
<g filter="url(#blurM)">
<path d="M252,330 C262,332 272,333 281,335 C289,337 295,341 299.5,346" stroke="#a2a2a2" stroke-width="2.2" fill="none" stroke-linecap="round"/>
<path d="M192.1,337.2 C192.5,334 194,331.5 196,329 C197.5,327.2 199,325.6 199.5,323 C199.6,320.6 200.5,318.8 202.7,318.6 C204.6,318.8 205.2,321 206,322 C209,320.8 212,319.5 216,318 C222,316.2 229,315.6 235,316.6 C241,318 246,321.5 249.5,325 C252,328 253.5,331 253,333.5 C257,335.5 262,337.5 266.5,340.2 C267.5,341.4 266,342.4 263,342 C258,341.2 252,340.8 247,340.8 C240,340.4 233,340 227,340.8 C220,341.5 213,341.6 208.5,342.6 C206,343.2 204.8,341.8 203.5,340.8 C200.5,340.2 197,339.8 195,339.3 C193.4,338.9 192.3,338.2 192.1,337.2 Z" fill="url(#mouseBody)"/>
<path d="M200,323.5 C199.8,320.5 201,318.9 202.7,318.8 C204.3,319 204.8,321 204.2,323.5 Z" fill="#9a9a9a"/>
<path d="M220,322 C228,319 238,320 245,325" stroke="#484848" stroke-width="2" fill="none" opacity="0.6"/>
</g>
<line x1="357.70" y1="323.00" x2="357.70" y2="484.80" stroke="#000" stroke-width="1.8"/>
<line x1="356.80" y1="483.90" x2="483.60" y2="483.90" stroke="#000" stroke-width="1.8"/>
<line x1="353.30" y1="323.70" x2="357.70" y2="323.70" stroke="#000" stroke-width="1.8"/>
<text x="351.30" y="328.40" font-size="13" text-anchor="end" font-weight="normal" fill="#000">45</text>
<line x1="353.30" y1="403.80" x2="357.70" y2="403.80" stroke="#000" stroke-width="1.8"/>
<text x="351.30" y="408.50" font-size="13" text-anchor="end" font-weight="normal" fill="#000">40</text>
<line x1="353.30" y1="483.90" x2="357.70" y2="483.90" stroke="#000" stroke-width="1.8"/>
<text x="351.30" y="488.60" font-size="13" text-anchor="end" font-weight="normal" fill="#000">35</text>
<line x1="393.50" y1="483.90" x2="393.50" y2="488.20" stroke="#000" stroke-width="1.8"/>
<line x1="447.20" y1="483.90" x2="447.20" y2="488.20" stroke="#000" stroke-width="1.8"/>
<text x="393.50" y="502.80" font-size="13" text-anchor="middle" font-weight="normal" fill="#000">WT</text>
<text x="447.60" y="502.80" font-size="13" text-anchor="middle" font-weight="normal" fill="#000">R2509C</text>
<text x="327.90" y="404.80" font-size="13.3" text-anchor="middle" font-weight="normal" fill="#000" transform="rotate(-90 327.9 404.8)">Maximum rectal temp (°C)</text>
<rect x="376.80" y="455.60" width="33.40" height="28.30" fill="#fff" stroke="#000" stroke-width="2.4"/>
<line x1="393.50" y1="446.40" x2="393.50" y2="455.00" stroke="#000" stroke-width="1.8"/>
<line x1="384.90" y1="446.40" x2="402.10" y2="446.40" stroke="#000" stroke-width="1.8"/>
<circle cx="398.50" cy="441.60" r="3.25" fill="#000"/>
<circle cx="388.30" cy="446.30" r="3.25" fill="#000"/>
<circle cx="378.80" cy="453.70" r="3.25" fill="#000"/>
<circle cx="388.30" cy="457.80" r="3.25" fill="#000"/>
<circle cx="398.50" cy="456.20" r="3.25" fill="#000"/>
<circle cx="408.40" cy="451.10" r="3.25" fill="#000"/>
<circle cx="408.40" cy="458.40" r="3.25" fill="#000"/>
<circle cx="393.20" cy="468.90" r="3.25" fill="#000"/>
<rect x="430.00" y="369.50" width="33.40" height="114.40" fill="#fff" stroke="#ff0000" stroke-width="2.4"/>
<line x1="447.20" y1="347.80" x2="447.20" y2="368.00" stroke="#ff0000" stroke-width="1.8"/>
<line x1="438.30" y1="347.80" x2="456.10" y2="347.80" stroke="#ff0000" stroke-width="1.8"/>
<circle cx="439.90" cy="342.70" r="3.25" fill="#ff0000"/>
<circle cx="447.20" cy="340.20" r="3.25" fill="#ff0000"/>
<circle cx="454.70" cy="342.10" r="3.25" fill="#ff0000"/>
<circle cx="447.20" cy="349.40" r="3.25" fill="#ff0000"/>
<circle cx="447.20" cy="358.20" r="3.25" fill="#ff0000"/>
<circle cx="439.90" cy="361.80" r="3.25" fill="#ff0000"/>
<circle cx="454.70" cy="363.90" r="3.25" fill="#ff0000"/>
<circle cx="432.70" cy="367.20" r="3.25" fill="#ff0000"/>
<circle cx="439.90" cy="368.30" r="3.25" fill="#ff0000"/>
<circle cx="447.20" cy="365.60" r="3.25" fill="#ff0000"/>
<circle cx="462.00" cy="367.70" r="3.25" fill="#ff0000"/>
<circle cx="439.90" cy="375.30" r="3.25" fill="#ff0000"/>
<circle cx="447.50" cy="379.40" r="3.25" fill="#ff0000"/>
<circle cx="439.90" cy="403.80" r="3.25" fill="#ff0000"/>
<circle cx="447.20" cy="399.80" r="3.25" fill="#ff0000"/>
<circle cx="454.70" cy="402.70" r="3.25" fill="#ff0000"/>
<line x1="391.00" y1="326.70" x2="446.40" y2="326.70" stroke="#000" stroke-width="1.6"/>
<text x="418.60" y="321.40" font-size="10.8" text-anchor="middle" font-weight="normal" fill="#000">p&lt;0.0001</text>
<line x1="544.50" y1="324.60" x2="544.50" y2="354.70" stroke="#000" stroke-width="1.8"/>
<line x1="544.50" y1="366.50" x2="544.50" y2="485.50" stroke="#000" stroke-width="1.8"/>
<line x1="543.60" y1="484.60" x2="670.80" y2="484.60" stroke="#000" stroke-width="1.8"/>
<line x1="540.20" y1="325.40" x2="544.50" y2="325.40" stroke="#000" stroke-width="1.8"/>
<text x="538.40" y="330.10" font-size="13" text-anchor="end" font-weight="normal" fill="#000">200</text>
<line x1="540.20" y1="354.70" x2="544.50" y2="354.70" stroke="#000" stroke-width="1.8"/>
<text x="538.40" y="359.40" font-size="13" text-anchor="end" font-weight="normal" fill="#000">100</text>
<line x1="540.20" y1="366.50" x2="544.50" y2="366.50" stroke="#000" stroke-width="1.8"/>
<text x="538.40" y="371.20" font-size="13" text-anchor="end" font-weight="normal" fill="#000">100</text>
<line x1="540.20" y1="425.55" x2="544.50" y2="425.55" stroke="#000" stroke-width="1.8"/>
<text x="538.40" y="430.25" font-size="13" text-anchor="end" font-weight="normal" fill="#000">50</text>
<line x1="540.20" y1="484.60" x2="544.50" y2="484.60" stroke="#000" stroke-width="1.8"/>
<text x="538.40" y="489.30" font-size="13" text-anchor="end" font-weight="normal" fill="#000">0</text>
<line x1="580.10" y1="484.60" x2="580.10" y2="489.50" stroke="#000" stroke-width="1.8"/>
<line x1="634.30" y1="484.60" x2="634.30" y2="489.50" stroke="#000" stroke-width="1.8"/>
<text x="580.30" y="503.00" font-size="13" text-anchor="middle" font-weight="normal" fill="#000">Start</text>
<text x="634.40" y="503.00" font-size="13" text-anchor="middle" font-weight="normal" fill="#000">39°C</text>
<text x="507.00" y="403.90" font-size="13.3" text-anchor="middle" font-weight="normal" fill="#000" transform="rotate(-90 507.0 403.9)">Time to death (min)</text>
<rect x="563.70" y="410.50" width="33.20" height="74.10" fill="#fff" stroke="#ff0000" stroke-width="2.6"/>
<line x1="580.10" y1="374.30" x2="580.10" y2="410.40" stroke="#ff0000" stroke-width="1.8"/>
<line x1="571.30" y1="374.30" x2="588.90" y2="374.30" stroke="#ff0000" stroke-width="1.8"/>
<circle cx="580.10" cy="341.30" r="3.25" fill="#ff0000"/>
<circle cx="580.10" cy="386.50" r="3.25" fill="#ff0000"/>
<circle cx="565.20" cy="392.90" r="3.25" fill="#ff0000"/>
<circle cx="571.40" cy="398.40" r="3.25" fill="#ff0000"/>
<circle cx="577.10" cy="397.00" r="3.25" fill="#ff0000"/>
<circle cx="583.10" cy="397.00" r="3.25" fill="#ff0000"/>
<circle cx="588.80" cy="394.50" r="3.25" fill="#ff0000"/>
<circle cx="595.00" cy="393.80" r="3.25" fill="#ff0000"/>
<circle cx="583.10" cy="408.30" r="3.25" fill="#ff0000"/>
<circle cx="577.10" cy="412.20" r="3.25" fill="#ff0000"/>
<circle cx="583.10" cy="415.10" r="3.25" fill="#ff0000"/>
<circle cx="577.10" cy="438.80" r="3.25" fill="#ff0000"/>
<circle cx="588.80" cy="445.00" r="3.25" fill="#ff0000"/>
<circle cx="577.10" cy="448.80" r="3.25" fill="#ff0000"/>
<circle cx="583.10" cy="450.70" r="3.25" fill="#ff0000"/>
<circle cx="580.10" cy="458.00" r="3.25" fill="#ff0000"/>
<rect x="617.50" y="464.40" width="33.40" height="20.20" fill="#fff" stroke="#ff0000" stroke-width="2.4"/>
<line x1="634.30" y1="455.50" x2="634.30" y2="463.00" stroke="#ff0000" stroke-width="1.8"/>
<line x1="629.30" y1="455.50" x2="639.30" y2="455.50" stroke="#ff0000" stroke-width="1.8"/>
<circle cx="622.90" cy="459.00" r="3.25" fill="#ff0000"/>
<circle cx="626.90" cy="459.40" r="3.25" fill="#ff0000"/>
<circle cx="633.90" cy="456.80" r="3.25" fill="#ff0000"/>
<circle cx="640.90" cy="458.60" r="3.25" fill="#ff0000"/>
<circle cx="645.30" cy="456.00" r="3.25" fill="#ff0000"/>
<circle cx="618.80" cy="464.50" r="3.25" fill="#ff0000"/>
<circle cx="622.50" cy="470.00" r="3.25" fill="#ff0000"/>
<circle cx="625.80" cy="466.40" r="3.25" fill="#ff0000"/>
<circle cx="629.90" cy="470.00" r="3.25" fill="#ff0000"/>
<circle cx="634.30" cy="467.10" r="3.25" fill="#ff0000"/>
<circle cx="638.00" cy="464.50" r="3.25" fill="#ff0000"/>
<circle cx="638.00" cy="473.00" r="3.25" fill="#ff0000"/>
<circle cx="642.40" cy="467.10" r="3.25" fill="#ff0000"/>
<circle cx="646.10" cy="470.80" r="3.25" fill="#ff0000"/>
<circle cx="649.80" cy="464.10" r="3.25" fill="#ff0000"/>
<line x1="585.50" y1="326.40" x2="628.60" y2="326.40" stroke="#000" stroke-width="1.6"/>
<text x="607.20" y="321.00" font-size="10.8" text-anchor="middle" font-weight="normal" fill="#000">p&lt;0.0001</text>
<line x1="48.20" y1="561.90" x2="48.20" y2="724.00" stroke="#000" stroke-width="1.8"/>
<line x1="47.30" y1="723.10" x2="158.70" y2="723.10" stroke="#000" stroke-width="1.8"/>
<line x1="43.60" y1="562.80" x2="48.20" y2="562.80" stroke="#000" stroke-width="1.8"/>
<text x="41.60" y="567.30" font-size="12.6" text-anchor="end" font-weight="normal" fill="#000">100</text>
<line x1="43.60" y1="643.05" x2="48.20" y2="643.05" stroke="#000" stroke-width="1.8"/>
<text x="41.60" y="647.55" font-size="12.6" text-anchor="end" font-weight="normal" fill="#000">50</text>
<line x1="43.60" y1="723.30" x2="48.20" y2="723.30" stroke="#000" stroke-width="1.8"/>
<text x="41.60" y="727.80" font-size="12.6" text-anchor="end" font-weight="normal" fill="#000">0</text>
<line x1="79.50" y1="723.10" x2="79.50" y2="727.60" stroke="#000" stroke-width="1.8"/>
<line x1="126.70" y1="723.10" x2="126.70" y2="727.60" stroke="#000" stroke-width="1.8"/>
<rect x="64.80" y="580.60" width="29.40" height="142.50" fill="#fff" stroke="#ff0000" stroke-width="2.6"/>
<rect x="112.50" y="620.50" width="28.80" height="102.60" fill="url(#dotpat)" stroke="#ff0000" stroke-width="2.6"/>
<text x="79.90" y="572.60" font-size="13" text-anchor="middle" font-weight="normal" fill="#000">36/40</text>
<text x="126.90" y="613.00" font-size="13" text-anchor="middle" font-weight="normal" fill="#000">28/43</text>
<text x="79.80" y="741.80" font-size="13.5" text-anchor="middle" font-weight="normal" fill="#000">Male</text>
<text x="127.30" y="741.80" font-size="13.5" text-anchor="middle" font-weight="normal" fill="#000">Female</text>
<text x="21.00" y="641.90" font-size="13.5" text-anchor="middle" font-weight="normal" fill="#000" transform="rotate(-90 21.0 641.9)">%Animals of &gt;39°C</text>
<line x1="223.40" y1="562.50" x2="223.40" y2="724.00" stroke="#000" stroke-width="1.8"/>
<line x1="222.50" y1="723.10" x2="333.70" y2="723.10" stroke="#000" stroke-width="1.8"/>
<line x1="218.90" y1="563.40" x2="223.40" y2="563.40" stroke="#000" stroke-width="1.8"/>
<text x="216.60" y="567.90" font-size="12.6" text-anchor="end" font-weight="normal" fill="#000">45</text>
<line x1="218.90" y1="643.35" x2="223.40" y2="643.35" stroke="#000" stroke-width="1.8"/>
<text x="216.60" y="647.85" font-size="12.6" text-anchor="end" font-weight="normal" fill="#000">40</text>
<line x1="218.90" y1="723.30" x2="223.40" y2="723.30" stroke="#000" stroke-width="1.8"/>
<text x="216.60" y="727.80" font-size="12.6" text-anchor="end" font-weight="normal" fill="#000">35</text>
<line x1="254.40" y1="723.10" x2="254.40" y2="727.60" stroke="#000" stroke-width="1.8"/>
<line x1="301.70" y1="723.10" x2="301.70" y2="727.60" stroke="#000" stroke-width="1.8"/>
<rect x="239.80" y="605.90" width="29.40" height="117.20" fill="#fff" stroke="#ff0000" stroke-width="2.6"/>
<rect x="287.50" y="611.60" width="28.80" height="111.50" fill="url(#dotpat)" stroke="#ff0000" stroke-width="2.6"/>
<line x1="254.40" y1="588.60" x2="254.40" y2="605.30" stroke="#ff0000" stroke-width="1.8"/>
<line x1="246.45" y1="588.60" x2="262.35" y2="588.60" stroke="#ff0000" stroke-width="1.8"/>
<line x1="301.70" y1="584.00" x2="301.70" y2="610.50" stroke="#ff0000" stroke-width="1.8"/>
<line x1="296.70" y1="584.00" x2="306.70" y2="584.00" stroke="#ff0000" stroke-width="1.8"/>
<circle cx="254.30" cy="579.60" r="3.25" fill="#ff0000"/>
<circle cx="254.30" cy="588.40" r="3.25" fill="#ff0000"/>
<circle cx="250.60" cy="600.90" r="3.25" fill="#ff0000"/>
<circle cx="266.80" cy="603.10" r="3.25" fill="#ff0000"/>
<circle cx="241.80" cy="606.10" r="3.25" fill="#ff0000"/>
<circle cx="249.90" cy="607.60" r="3.25" fill="#ff0000"/>
<circle cx="258.70" cy="606.80" r="3.25" fill="#ff0000"/>
<circle cx="254.30" cy="614.20" r="3.25" fill="#ff0000"/>
<circle cx="254.30" cy="638.90" r="3.25" fill="#ff0000"/>
<circle cx="295.50" cy="581.50" r="3.25" fill="#ff0000"/>
<circle cx="308.10" cy="581.80" r="3.25" fill="#ff0000"/>
<circle cx="301.70" cy="597.20" r="3.25" fill="#ff0000"/>
<circle cx="301.70" cy="605.30" r="3.25" fill="#ff0000"/>
<circle cx="301.70" cy="618.30" r="3.25" fill="#ff0000"/>
<circle cx="295.20" cy="642.50" r="3.25" fill="#ff0000"/>
<circle cx="308.10" cy="641.90" r="3.25" fill="#ff0000"/>
<text x="255.20" y="741.80" font-size="13.5" text-anchor="middle" font-weight="normal" fill="#000">Male</text>
<text x="302.40" y="741.80" font-size="13.5" text-anchor="middle" font-weight="normal" fill="#000">Female</text>
<text x="195.30" y="641.70" font-size="13.45" text-anchor="middle" font-weight="normal" fill="#000" transform="rotate(-90 195.3 641.7)">Maximum rectal temp (°C)</text>
<line x1="399.90" y1="562.50" x2="399.90" y2="724.00" stroke="#000" stroke-width="1.8"/>
<line x1="399.00" y1="723.10" x2="510.60" y2="723.10" stroke="#000" stroke-width="1.8"/>
<line x1="395.40" y1="563.50" x2="399.90" y2="563.50" stroke="#000" stroke-width="1.8"/>
<text x="393.10" y="568.00" font-size="12.6" text-anchor="end" font-weight="normal" fill="#000">150</text>
<line x1="395.40" y1="616.77" x2="399.90" y2="616.77" stroke="#000" stroke-width="1.8"/>
<text x="393.10" y="621.27" font-size="12.6" text-anchor="end" font-weight="normal" fill="#000">100</text>
<line x1="395.40" y1="670.03" x2="399.90" y2="670.03" stroke="#000" stroke-width="1.8"/>
<text x="393.10" y="674.53" font-size="12.6" text-anchor="end" font-weight="normal" fill="#000">50</text>
<line x1="395.40" y1="723.30" x2="399.90" y2="723.30" stroke="#000" stroke-width="1.8"/>
<text x="393.10" y="727.80" font-size="12.6" text-anchor="end" font-weight="normal" fill="#000">0</text>
<line x1="431.10" y1="723.10" x2="431.10" y2="727.60" stroke="#000" stroke-width="1.8"/>
<line x1="478.30" y1="723.10" x2="478.30" y2="727.60" stroke="#000" stroke-width="1.8"/>
<rect x="416.80" y="668.70" width="29.30" height="54.40" fill="#fff" stroke="#ff0000" stroke-width="2.6"/>
<rect x="464.10" y="642.40" width="28.90" height="80.70" fill="url(#dotpat)" stroke="#ff0000" stroke-width="2.6"/>
<line x1="431.70" y1="641.70" x2="431.70" y2="667.40" stroke="#ff0000" stroke-width="1.8"/>
<line x1="424.20" y1="641.70" x2="439.20" y2="641.70" stroke="#ff0000" stroke-width="1.8"/>
<line x1="478.50" y1="605.80" x2="478.50" y2="641.10" stroke="#ff0000" stroke-width="1.8"/>
<line x1="470.70" y1="605.80" x2="486.30" y2="605.80" stroke="#ff0000" stroke-width="1.8"/>
<circle cx="431.70" cy="634.20" r="3.25" fill="#ff0000"/>
<circle cx="418.80" cy="640.20" r="3.25" fill="#ff0000"/>
<circle cx="431.70" cy="644.10" r="3.25" fill="#ff0000"/>
<circle cx="425.10" cy="660.60" r="3.25" fill="#ff0000"/>
<circle cx="437.70" cy="654.60" r="3.25" fill="#ff0000"/>
<circle cx="418.80" cy="686.90" r="3.25" fill="#ff0000"/>
<circle cx="431.70" cy="692.80" r="3.25" fill="#ff0000"/>
<circle cx="443.60" cy="691.00" r="3.25" fill="#ff0000"/>
<circle cx="431.70" cy="699.40" r="3.25" fill="#ff0000"/>
<circle cx="478.60" cy="568.70" r="3.25" fill="#ff0000"/>
<circle cx="466.00" cy="641.10" r="3.25" fill="#ff0000"/>
<circle cx="474.40" cy="645.00" r="3.25" fill="#ff0000"/>
<circle cx="482.50" cy="643.20" r="3.25" fill="#ff0000"/>
<circle cx="490.60" cy="641.10" r="3.25" fill="#ff0000"/>
<circle cx="478.60" cy="658.20" r="3.25" fill="#ff0000"/>
<circle cx="478.60" cy="682.10" r="3.25" fill="#ff0000"/>
<text x="431.60" y="741.80" font-size="13.5" text-anchor="middle" font-weight="normal" fill="#000">Male</text>
<text x="478.50" y="741.80" font-size="13.5" text-anchor="middle" font-weight="normal" fill="#000">Female</text>
<text x="364.80" y="642.60" font-size="13.6" text-anchor="middle" font-weight="normal" fill="#000" transform="rotate(-90 364.8 642.6)">Time to death (min)</text>
<line x1="568.20" y1="560.20" x2="568.20" y2="721.80" stroke="#000" stroke-width="1.8"/>
<line x1="567.30" y1="720.90" x2="679.00" y2="720.90" stroke="#000" stroke-width="1.8"/>
<line x1="563.70" y1="561.00" x2="568.20" y2="561.00" stroke="#000" stroke-width="1.8"/>
<text x="561.20" y="565.50" font-size="12.6" text-anchor="end" font-weight="normal" fill="#000">30</text>
<line x1="563.70" y1="614.40" x2="568.20" y2="614.40" stroke="#000" stroke-width="1.8"/>
<text x="561.20" y="618.90" font-size="12.6" text-anchor="end" font-weight="normal" fill="#000">20</text>
<line x1="563.70" y1="667.80" x2="568.20" y2="667.80" stroke="#000" stroke-width="1.8"/>
<text x="561.20" y="672.30" font-size="12.6" text-anchor="end" font-weight="normal" fill="#000">10</text>
<line x1="563.70" y1="721.20" x2="568.20" y2="721.20" stroke="#000" stroke-width="1.8"/>
<text x="561.20" y="725.70" font-size="12.6" text-anchor="end" font-weight="normal" fill="#000">0</text>
<line x1="599.40" y1="720.90" x2="599.40" y2="725.20" stroke="#000" stroke-width="1.8"/>
<line x1="646.40" y1="720.90" x2="646.40" y2="725.20" stroke="#000" stroke-width="1.8"/>
<rect x="585.00" y="644.80" width="29.00" height="76.20" fill="#fff" stroke="#ff0000" stroke-width="2.6"/>
<rect x="632.10" y="622.10" width="28.80" height="98.90" fill="url(#dotpat)" stroke="#ff0000" stroke-width="2.6"/>
<line x1="599.60" y1="631.20" x2="599.60" y2="643.50" stroke="#ff0000" stroke-width="1.8"/>
<line x1="593.00" y1="631.20" x2="606.20" y2="631.20" stroke="#ff0000" stroke-width="1.8"/>
<line x1="646.80" y1="591.80" x2="646.80" y2="620.80" stroke="#ff0000" stroke-width="1.8"/>
<line x1="639.30" y1="591.80" x2="654.30" y2="591.80" stroke="#ff0000" stroke-width="1.8"/>
<circle cx="586.60" cy="625.30" r="3.25" fill="#ff0000"/>
<circle cx="599.80" cy="631.20" r="3.25" fill="#ff0000"/>
<circle cx="612.00" cy="633.60" r="3.25" fill="#ff0000"/>
<circle cx="586.60" cy="637.50" r="3.25" fill="#ff0000"/>
<circle cx="599.80" cy="640.50" r="3.25" fill="#ff0000"/>
<circle cx="612.00" cy="642.60" r="3.25" fill="#ff0000"/>
<circle cx="586.60" cy="658.20" r="3.25" fill="#ff0000"/>
<circle cx="599.80" cy="656.10" r="3.25" fill="#ff0000"/>
<circle cx="612.00" cy="657.60" r="3.25" fill="#ff0000"/>
<circle cx="634.50" cy="594.80" r="3.25" fill="#ff0000"/>
<circle cx="646.40" cy="598.30" r="3.25" fill="#ff0000"/>
<circle cx="634.50" cy="607.30" r="3.25" fill="#ff0000"/>
<circle cx="646.40" cy="609.10" r="3.25" fill="#ff0000"/>
<circle cx="659.60" cy="608.80" r="3.25" fill="#ff0000"/>
<circle cx="646.40" cy="653.70" r="3.25" fill="#ff0000"/>
<circle cx="646.40" cy="667.10" r="3.25" fill="#ff0000"/>
<text x="599.40" y="739.00" font-size="13.5" text-anchor="middle" font-weight="normal" fill="#000">Male</text>
<text x="647.00" y="739.00" font-size="13.5" text-anchor="middle" font-weight="normal" fill="#000">Female</text>
<text x="537.60" y="642.60" font-size="13" text-anchor="middle" font-weight="normal" fill="#000" transform="rotate(-90 537.6 642.6)">Time to death from 39°C (min)</text>
<text x="3.80" y="13.30" font-size="24" text-anchor="start" font-weight="bold" fill="#000">a</text>
<text x="352.80" y="19.00" font-size="24" text-anchor="start" font-weight="bold" fill="#000">b</text>
<text x="-0.20" y="308.60" font-size="24" text-anchor="start" font-weight="bold" fill="#000">c</text>
<text x="314.00" y="311.50" font-size="24" text-anchor="start" font-weight="bold" fill="#000">d</text>
<text x="491.00" y="311.60" font-size="24" text-anchor="start" font-weight="bold" fill="#000">e</text>
<text x="1.00" y="551.00" font-size="24" text-anchor="start" font-weight="bold" fill="#000">f</text>
<text x="162.00" y="550.70" font-size="24" text-anchor="start" font-weight="bold" fill="#000">g</text>
<text x="340.20" y="551.00" font-size="24" text-anchor="start" font-weight="bold" fill="#000">h</text>
<text x="510.40" y="551.00" font-size="24" text-anchor="start" font-weight="bold" fill="#000">i</text>
</svg>
</body></html>
